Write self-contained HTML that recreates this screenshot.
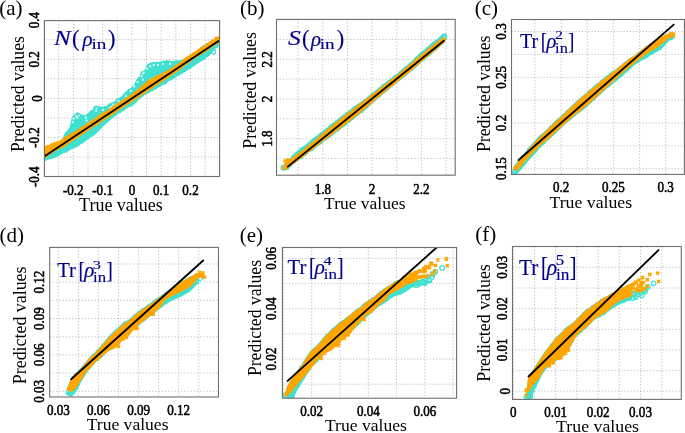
<!DOCTYPE html><html><head><meta charset="utf-8"><style>html,body{margin:0;padding:0;background:#fff;width:685px;height:433px;overflow:hidden}svg{display:block;will-change:transform}</style></head><body>
<style>
.tk{font-family:"Liberation Serif", serif;font-size:14.5px;fill:#000;stroke:#000;stroke-width:0.55}
.ax{font-family:"Liberation Serif", serif;font-size:18px;fill:#000}
.lab{font-family:"Liberation Serif", serif;font-size:21px;fill:#000}
.ti text{font-family:"Liberation Serif", serif;font-size:20px;fill:#00008b;stroke:#00008b;stroke-width:0.15}
.ti .it{font-style:italic}
.ti .sub{font-size:14px}
.ti .sup{font-size:14px}
</style>
<svg width="685" height="433" viewBox="0 0 685 433">
<rect width="685" height="433" fill="#fff"/>
<clipPath id="clip0"><rect x="44.4" y="20.6" width="175.2" height="155.9"/></clipPath>
<path d="M58.7 20.6V176.5M73.3 20.6V176.5M88 20.6V176.5M102.6 20.6V176.5M117.3 20.6V176.5M131.9 20.6V176.5M146.5 20.6V176.5M161.2 20.6V176.5M175.8 20.6V176.5M190.5 20.6V176.5M205.1 20.6V176.5M44.4 157.1H219.6M44.4 137.5H219.6M44.4 118H219.6M44.4 98.4H219.6M44.4 78.8H219.6M44.4 59.3H219.6M44.4 39.7H219.6" stroke="#b2b2b2" stroke-width="0.8" stroke-dasharray="1.3 1.9" fill="none"/>
<g clip-path="url(#clip0)">
<path d="M44.5 156.3L45.3 156.1L46.1 155.4L46.9 155L47.7 154.5L48.5 153.4L49.3 153.1L50.1 152.9L50.9 152.3L51.7 151.2L52.5 150.7L53.3 150.4L54.1 149.6L54.9 149.2L55.7 148.4L56.5 148.1L57.3 147.5L58.1 146.8L58.9 145.4L59.8 144.3L60.6 142.5L61.4 140.5L62.2 139.4L63 137.5L63.8 134.7L64.6 133.9L65.4 132.6L66.2 131.9L67 131.5L67.8 130.5L68.6 129.1L69.4 127.8L70.2 124.9L71 120.7L71.8 118.3L72.6 116.8L73.4 115.7L74.2 114.4L75 114L75.8 113.5L76.6 112.9L77.4 112.8L78.2 112.8L79 113L79.8 113.1L80.6 114.2L81.4 114.5L82.2 115L83 114.7L83.8 115.3L84.6 115.2L85.4 115.4L86.2 114.6L87 113.7L87.8 113.2L88.7 112.7L89.5 111.8L90.3 110.9L91.1 110.2L91.9 110.3L92.7 109.4L93.5 108.3L94.3 106.6L95.1 106.3L95.9 106.8L96.7 106.5L97.5 106.2L98.3 106.9L99.1 106.7L99.9 106.8L100.7 106.3L101.5 107L102.3 106.4L103.1 107.1L103.9 106.5L104.7 106.1L105.5 106L106.3 106L107.1 105.2L107.9 104.5L108.7 104.3L109.5 103.6L110.3 103L111.1 102.7L111.9 102.3L112.7 102.1L113.5 101.9L114.3 101.5L115.1 101.1L115.9 99.9L116.7 99.3L117.6 98.3L118.4 98.1L119.2 97.4L120 97.2L120.8 96.4L121.6 96.2L122.4 95.2L123.2 94.1L124 93.5L124.8 93.1L125.6 91.7L126.4 91.5L127.2 90.6L128 90.1L128.8 89.9L129.6 89L130.4 88.4L131.2 88L132 87.6L132.8 86.4L133.6 85.5L134.4 83.8L135.2 82.2L136 80.4L136.8 79.3L137.6 77.9L138.4 76.9L139.2 75.7L140 74.4L140.8 72.3L141.6 71.2L142.4 70.8L143.2 71L144 70.4L144.8 69.6L145.6 67.9L146.4 65.8L147.3 64.5L148.1 64L148.9 63.2L149.7 63L150.5 62.6L151.3 63L152.1 62.8L152.9 62.3L153.7 61.9L154.5 62.5L155.3 62L156.1 62L156.9 61.7L157.7 62L158.5 61.9L159.3 61.8L160.1 61.4L160.9 61.5L161.7 61L162.5 61.1L163.3 60.8L164.1 60.9L164.9 60.6L165.7 60.5L166.5 60.7L167.3 60.7L168.1 60.9L168.9 60.9L169.7 61L170.5 60.9L171.3 61L172.1 61.1L172.9 60.7L173.7 60.7L174.5 61.2L175.3 60.5L176.2 60.9L177 60.8L177.8 60.2L178.6 60.8L179.4 60.7L180.2 60.4L181 60.4L181.8 60.3L182.6 59.6L183.4 59.7L184.2 59.6L185 59.7L185.8 59.2L186.6 58.6L187.4 57.9L188.2 57.5L189 56.7L189.8 56.2L190.6 55.2L191.4 54.5L192.2 54.1L193 53.7L193.8 53L194.6 53L195.4 52.1L196.2 51.5L197 50.9L197.8 50.3L198.6 49.5L199.4 48.4L200.2 48.4L201 47.7L201.8 46.8L202.6 46.3L203.4 45.8L204.2 44.8L205.1 44.8L205.9 43.9L206.7 43.3L207.5 43.1L208.3 43L209.1 42.2L209.9 42.2L210.7 42L211.5 41.2L212.3 40.7L213.1 40.4L213.9 40.1L214.7 39.6L215.5 38.8L216.3 38.2L217.1 37.2L217.9 37.1L218.7 37.1L219.5 37.5L219.5 43.5L218.7 44.8L217.9 45.9L217.1 46.8L216.3 47.3L215.5 48.7L214.7 49.2L213.9 50.5L213.1 51.5L212.3 52.1L211.5 53.5L210.7 54L209.9 55.6L209.1 55.9L208.3 56.2L207.5 56.7L206.7 57.7L205.9 57.9L205.1 58.6L204.2 59.2L203.4 60L202.6 60.4L201.8 60.3L201 61.1L200.2 61.9L199.4 62.3L198.6 62.7L197.8 63.3L197 64.2L196.2 64.6L195.4 64.8L194.6 65.1L193.8 66.2L193 66.7L192.2 67.1L191.4 67.3L190.6 68L189.8 68.3L189 69.2L188.2 69.9L187.4 70.6L186.6 70.7L185.8 71.5L185 71.9L184.2 72.2L183.4 72.6L182.6 73.4L181.8 73.8L181 73.8L180.2 74.2L179.4 75.1L178.6 75.7L177.8 76.1L177 76.4L176.2 76.7L175.3 77.7L174.5 77.8L173.7 78.9L172.9 79L172.1 79.5L171.3 79.8L170.5 80.3L169.7 80.8L168.9 81.1L168.1 81.9L167.3 82.5L166.5 83.4L165.7 83.9L164.9 84.4L164.1 84.3L163.3 84.8L162.5 85.2L161.7 85.6L160.9 86.5L160.1 87.2L159.3 87.1L158.5 87.6L157.7 87.7L156.9 88.2L156.1 89.2L155.3 89.6L154.5 89.3L153.7 89.7L152.9 90L152.1 90.8L151.3 91.3L150.5 91.9L149.7 92.3L148.9 92.7L148.1 92.6L147.3 93.1L146.4 93.6L145.6 94.2L144.8 94L144 95.2L143.2 96L142.4 96.4L141.6 97.1L140.8 97.7L140 98.5L139.2 99.2L138.4 99.7L137.6 100.4L136.8 101.5L136 102.5L135.2 103.3L134.4 104.1L133.6 104.7L132.8 105.6L132 105.9L131.2 106.4L130.4 106.7L129.6 106.7L128.8 107.2L128 108.2L127.2 108.4L126.4 108.6L125.6 109.6L124.8 110.1L124 110.6L123.2 110.9L122.4 111.3L121.6 112.1L120.8 112.3L120 113.1L119.2 113.1L118.4 113.8L117.6 114.7L116.7 115.2L115.9 115.6L115.1 116.4L114.3 116.3L113.5 117.7L112.7 118.1L111.9 118.5L111.1 119L110.3 119.9L109.5 120.4L108.7 121.7L107.9 121.9L107.1 122.8L106.3 123.2L105.5 124L104.7 125L103.9 125.6L103.1 126.3L102.3 127.1L101.5 128.3L100.7 129.3L99.9 129.8L99.1 130.8L98.3 131.6L97.5 131.8L96.7 133L95.9 133.2L95.1 134.5L94.3 135.2L93.5 135.6L92.7 136.1L91.9 136.7L91.1 137L90.3 137.3L89.5 138.3L88.7 138.9L87.8 139.6L87 139.7L86.2 140.5L85.4 140.9L84.6 142.2L83.8 142.1L83 142.7L82.2 143.9L81.4 143.7L80.6 144.6L79.8 145L79 145.7L78.2 146L77.4 146.3L76.6 146.7L75.8 147.5L75 147.9L74.2 148L73.4 148L72.6 149L71.8 149.1L71 149.4L70.2 150.1L69.4 150.3L68.6 151.2L67.8 151L67 151.7L66.2 152.4L65.4 152.4L64.6 153L63.8 152.8L63 153.6L62.2 153.9L61.4 154.3L60.6 154.4L59.8 155L58.9 155.7L58.1 156.6L57.3 156.3L56.5 156.7L55.7 157.8L54.9 157.5L54.1 158.3L53.3 158.2L52.5 158.3L51.7 158.5L50.9 158.8L50.1 158.7L49.3 158.8L48.5 159L47.7 159.5L46.9 159.8L46.1 160L45.3 159.8L44.5 160.1 Z" fill="#40E0D0"/>
<path d="M42.2 158.1a2.3 2.3 0 1 0 4.6 0a2.3 2.3 0 1 0 -4.6 0M44.2 157.3a2.3 2.3 0 1 0 4.6 0a2.3 2.3 0 1 0 -4.6 0M48.5 156.2a2.3 2.3 0 1 0 4.6 0a2.3 2.3 0 1 0 -4.6 0M45.5 156.6a2.3 2.3 0 1 0 4.6 0a2.3 2.3 0 1 0 -4.6 0M50.2 154.4a2.3 2.3 0 1 0 4.6 0a2.3 2.3 0 1 0 -4.6 0M47.3 156.2a2.3 2.3 0 1 0 4.6 0a2.3 2.3 0 1 0 -4.6 0M51.8 153a2.3 2.3 0 1 0 4.6 0a2.3 2.3 0 1 0 -4.6 0M49.6 155a2.3 2.3 0 1 0 4.6 0a2.3 2.3 0 1 0 -4.6 0M54.6 152.3a2.3 2.3 0 1 0 4.6 0a2.3 2.3 0 1 0 -4.6 0M51.3 154.5a2.3 2.3 0 1 0 4.6 0a2.3 2.3 0 1 0 -4.6 0M56.6 149.8a2.3 2.3 0 1 0 4.6 0a2.3 2.3 0 1 0 -4.6 0M52 154.4a2.3 2.3 0 1 0 4.6 0a2.3 2.3 0 1 0 -4.6 0M58.8 148.1a2.3 2.3 0 1 0 4.6 0a2.3 2.3 0 1 0 -4.6 0M54.4 153.6a2.3 2.3 0 1 0 4.6 0a2.3 2.3 0 1 0 -4.6 0M60.7 143.4a2.3 2.3 0 1 0 4.6 0a2.3 2.3 0 1 0 -4.6 0M56.4 152.5a2.3 2.3 0 1 0 4.6 0a2.3 2.3 0 1 0 -4.6 0M63.6 139.4a2.3 2.3 0 1 0 4.6 0a2.3 2.3 0 1 0 -4.6 0M58.3 150.5a2.3 2.3 0 1 0 4.6 0a2.3 2.3 0 1 0 -4.6 0M65.1 135a2.3 2.3 0 1 0 4.6 0a2.3 2.3 0 1 0 -4.6 0M60.7 149.8a2.3 2.3 0 1 0 4.6 0a2.3 2.3 0 1 0 -4.6 0M66.3 133.1a2.3 2.3 0 1 0 4.6 0a2.3 2.3 0 1 0 -4.6 0M63 149.5a2.3 2.3 0 1 0 4.6 0a2.3 2.3 0 1 0 -4.6 0M68.5 131a2.3 2.3 0 1 0 4.6 0a2.3 2.3 0 1 0 -4.6 0M64.2 148a2.3 2.3 0 1 0 4.6 0a2.3 2.3 0 1 0 -4.6 0M71.7 123.5a2.3 2.3 0 1 0 4.6 0a2.3 2.3 0 1 0 -4.6 0M66.1 147.2a2.3 2.3 0 1 0 4.6 0a2.3 2.3 0 1 0 -4.6 0M72.6 118a2.3 2.3 0 1 0 4.6 0a2.3 2.3 0 1 0 -4.6 0M68.1 145.9a2.3 2.3 0 1 0 4.6 0a2.3 2.3 0 1 0 -4.6 0M75.1 116.6a2.3 2.3 0 1 0 4.6 0a2.3 2.3 0 1 0 -4.6 0M70.6 145.4a2.3 2.3 0 1 0 4.6 0a2.3 2.3 0 1 0 -4.6 0M75.6 116.6a2.3 2.3 0 1 0 4.6 0a2.3 2.3 0 1 0 -4.6 0M72.8 144.4a2.3 2.3 0 1 0 4.6 0a2.3 2.3 0 1 0 -4.6 0M75.4 115.5a2.3 2.3 0 1 0 4.6 0a2.3 2.3 0 1 0 -4.6 0M74.9 143.6a2.3 2.3 0 1 0 4.6 0a2.3 2.3 0 1 0 -4.6 0M76.5 116.8a2.3 2.3 0 1 0 4.6 0a2.3 2.3 0 1 0 -4.6 0M76 141.6a2.3 2.3 0 1 0 4.6 0a2.3 2.3 0 1 0 -4.6 0M78.8 117.1a2.3 2.3 0 1 0 4.6 0a2.3 2.3 0 1 0 -4.6 0M78.3 140.5a2.3 2.3 0 1 0 4.6 0a2.3 2.3 0 1 0 -4.6 0M82.3 118.5a2.3 2.3 0 1 0 4.6 0a2.3 2.3 0 1 0 -4.6 0M80.2 139.7a2.3 2.3 0 1 0 4.6 0a2.3 2.3 0 1 0 -4.6 0M86.5 117.2a2.3 2.3 0 1 0 4.6 0a2.3 2.3 0 1 0 -4.6 0M82 137.9a2.3 2.3 0 1 0 4.6 0a2.3 2.3 0 1 0 -4.6 0M89.1 114.7a2.3 2.3 0 1 0 4.6 0a2.3 2.3 0 1 0 -4.6 0M83.9 136.5a2.3 2.3 0 1 0 4.6 0a2.3 2.3 0 1 0 -4.6 0M89.9 113.1a2.3 2.3 0 1 0 4.6 0a2.3 2.3 0 1 0 -4.6 0M85.9 134.8a2.3 2.3 0 1 0 4.6 0a2.3 2.3 0 1 0 -4.6 0M92.6 111.2a2.3 2.3 0 1 0 4.6 0a2.3 2.3 0 1 0 -4.6 0M88.1 134.1a2.3 2.3 0 1 0 4.6 0a2.3 2.3 0 1 0 -4.6 0M94 108.5a2.3 2.3 0 1 0 4.6 0a2.3 2.3 0 1 0 -4.6 0M90.4 132.6a2.3 2.3 0 1 0 4.6 0a2.3 2.3 0 1 0 -4.6 0M94.6 110a2.3 2.3 0 1 0 4.6 0a2.3 2.3 0 1 0 -4.6 0M91.9 131a2.3 2.3 0 1 0 4.6 0a2.3 2.3 0 1 0 -4.6 0M96.2 109.1a2.3 2.3 0 1 0 4.6 0a2.3 2.3 0 1 0 -4.6 0M93.6 129.1a2.3 2.3 0 1 0 4.6 0a2.3 2.3 0 1 0 -4.6 0M97.9 109.3a2.3 2.3 0 1 0 4.6 0a2.3 2.3 0 1 0 -4.6 0M95.8 127.1a2.3 2.3 0 1 0 4.6 0a2.3 2.3 0 1 0 -4.6 0M100.2 110a2.3 2.3 0 1 0 4.6 0a2.3 2.3 0 1 0 -4.6 0M97.4 125.1a2.3 2.3 0 1 0 4.6 0a2.3 2.3 0 1 0 -4.6 0M103.4 109.4a2.3 2.3 0 1 0 4.6 0a2.3 2.3 0 1 0 -4.6 0M99.7 123.2a2.3 2.3 0 1 0 4.6 0a2.3 2.3 0 1 0 -4.6 0M105.3 108.6a2.3 2.3 0 1 0 4.6 0a2.3 2.3 0 1 0 -4.6 0M101.8 121.6a2.3 2.3 0 1 0 4.6 0a2.3 2.3 0 1 0 -4.6 0M108.1 106.5a2.3 2.3 0 1 0 4.6 0a2.3 2.3 0 1 0 -4.6 0M103.7 119.4a2.3 2.3 0 1 0 4.6 0a2.3 2.3 0 1 0 -4.6 0M109.9 105.7a2.3 2.3 0 1 0 4.6 0a2.3 2.3 0 1 0 -4.6 0M105.8 117.5a2.3 2.3 0 1 0 4.6 0a2.3 2.3 0 1 0 -4.6 0M111.7 105.5a2.3 2.3 0 1 0 4.6 0a2.3 2.3 0 1 0 -4.6 0M107.5 115.5a2.3 2.3 0 1 0 4.6 0a2.3 2.3 0 1 0 -4.6 0M114.5 103.7a2.3 2.3 0 1 0 4.6 0a2.3 2.3 0 1 0 -4.6 0M110.2 113.9a2.3 2.3 0 1 0 4.6 0a2.3 2.3 0 1 0 -4.6 0M116.2 101.1a2.3 2.3 0 1 0 4.6 0a2.3 2.3 0 1 0 -4.6 0M112.3 113.2a2.3 2.3 0 1 0 4.6 0a2.3 2.3 0 1 0 -4.6 0M118 101.2a2.3 2.3 0 1 0 4.6 0a2.3 2.3 0 1 0 -4.6 0M113.9 111.1a2.3 2.3 0 1 0 4.6 0a2.3 2.3 0 1 0 -4.6 0M120.6 99.6a2.3 2.3 0 1 0 4.6 0a2.3 2.3 0 1 0 -4.6 0M116.6 110.4a2.3 2.3 0 1 0 4.6 0a2.3 2.3 0 1 0 -4.6 0M122.8 97.3a2.3 2.3 0 1 0 4.6 0a2.3 2.3 0 1 0 -4.6 0M118.3 108.8a2.3 2.3 0 1 0 4.6 0a2.3 2.3 0 1 0 -4.6 0M124.3 94.8a2.3 2.3 0 1 0 4.6 0a2.3 2.3 0 1 0 -4.6 0M120.4 107.9a2.3 2.3 0 1 0 4.6 0a2.3 2.3 0 1 0 -4.6 0M126.3 93.1a2.3 2.3 0 1 0 4.6 0a2.3 2.3 0 1 0 -4.6 0M122.2 106.2a2.3 2.3 0 1 0 4.6 0a2.3 2.3 0 1 0 -4.6 0M127.7 91.7a2.3 2.3 0 1 0 4.6 0a2.3 2.3 0 1 0 -4.6 0M124.2 105a2.3 2.3 0 1 0 4.6 0a2.3 2.3 0 1 0 -4.6 0M130 90.4a2.3 2.3 0 1 0 4.6 0a2.3 2.3 0 1 0 -4.6 0M126.3 103.8a2.3 2.3 0 1 0 4.6 0a2.3 2.3 0 1 0 -4.6 0M132 88.5a2.3 2.3 0 1 0 4.6 0a2.3 2.3 0 1 0 -4.6 0M128.4 103.1a2.3 2.3 0 1 0 4.6 0a2.3 2.3 0 1 0 -4.6 0M135.2 84.6a2.3 2.3 0 1 0 4.6 0a2.3 2.3 0 1 0 -4.6 0M130.2 101.9a2.3 2.3 0 1 0 4.6 0a2.3 2.3 0 1 0 -4.6 0M136.9 81.2a2.3 2.3 0 1 0 4.6 0a2.3 2.3 0 1 0 -4.6 0M132.2 100a2.3 2.3 0 1 0 4.6 0a2.3 2.3 0 1 0 -4.6 0M138.9 78.5a2.3 2.3 0 1 0 4.6 0a2.3 2.3 0 1 0 -4.6 0M133.8 98a2.3 2.3 0 1 0 4.6 0a2.3 2.3 0 1 0 -4.6 0M142 74.3a2.3 2.3 0 1 0 4.6 0a2.3 2.3 0 1 0 -4.6 0M135.8 96a2.3 2.3 0 1 0 4.6 0a2.3 2.3 0 1 0 -4.6 0M141.6 74a2.3 2.3 0 1 0 4.6 0a2.3 2.3 0 1 0 -4.6 0M138.5 94.5a2.3 2.3 0 1 0 4.6 0a2.3 2.3 0 1 0 -4.6 0M144.4 72a2.3 2.3 0 1 0 4.6 0a2.3 2.3 0 1 0 -4.6 0M140.4 92.5a2.3 2.3 0 1 0 4.6 0a2.3 2.3 0 1 0 -4.6 0M147.1 66.8a2.3 2.3 0 1 0 4.6 0a2.3 2.3 0 1 0 -4.6 0M143.1 91.4a2.3 2.3 0 1 0 4.6 0a2.3 2.3 0 1 0 -4.6 0M148.7 66.1a2.3 2.3 0 1 0 4.6 0a2.3 2.3 0 1 0 -4.6 0M145 90.4a2.3 2.3 0 1 0 4.6 0a2.3 2.3 0 1 0 -4.6 0M149 65.5a2.3 2.3 0 1 0 4.6 0a2.3 2.3 0 1 0 -4.6 0M146.6 89.4a2.3 2.3 0 1 0 4.6 0a2.3 2.3 0 1 0 -4.6 0M151.3 65.2a2.3 2.3 0 1 0 4.6 0a2.3 2.3 0 1 0 -4.6 0M148.7 88.4a2.3 2.3 0 1 0 4.6 0a2.3 2.3 0 1 0 -4.6 0M152.4 65.4a2.3 2.3 0 1 0 4.6 0a2.3 2.3 0 1 0 -4.6 0M150.6 87.2a2.3 2.3 0 1 0 4.6 0a2.3 2.3 0 1 0 -4.6 0M154.4 65.6a2.3 2.3 0 1 0 4.6 0a2.3 2.3 0 1 0 -4.6 0M152.4 86a2.3 2.3 0 1 0 4.6 0a2.3 2.3 0 1 0 -4.6 0M156.8 65.3a2.3 2.3 0 1 0 4.6 0a2.3 2.3 0 1 0 -4.6 0M154.5 84.6a2.3 2.3 0 1 0 4.6 0a2.3 2.3 0 1 0 -4.6 0M158.6 64.9a2.3 2.3 0 1 0 4.6 0a2.3 2.3 0 1 0 -4.6 0M156.3 83.7a2.3 2.3 0 1 0 4.6 0a2.3 2.3 0 1 0 -4.6 0M160.9 64.1a2.3 2.3 0 1 0 4.6 0a2.3 2.3 0 1 0 -4.6 0M158.2 82.6a2.3 2.3 0 1 0 4.6 0a2.3 2.3 0 1 0 -4.6 0M162.4 63.6a2.3 2.3 0 1 0 4.6 0a2.3 2.3 0 1 0 -4.6 0M160.3 81.9a2.3 2.3 0 1 0 4.6 0a2.3 2.3 0 1 0 -4.6 0M164.1 63.4a2.3 2.3 0 1 0 4.6 0a2.3 2.3 0 1 0 -4.6 0M162.4 80.5a2.3 2.3 0 1 0 4.6 0a2.3 2.3 0 1 0 -4.6 0M166.3 63.3a2.3 2.3 0 1 0 4.6 0a2.3 2.3 0 1 0 -4.6 0M163.8 79.1a2.3 2.3 0 1 0 4.6 0a2.3 2.3 0 1 0 -4.6 0M168 64.2a2.3 2.3 0 1 0 4.6 0a2.3 2.3 0 1 0 -4.6 0M166.3 77.9a2.3 2.3 0 1 0 4.6 0a2.3 2.3 0 1 0 -4.6 0M170.1 63.9a2.3 2.3 0 1 0 4.6 0a2.3 2.3 0 1 0 -4.6 0M168.5 76.9a2.3 2.3 0 1 0 4.6 0a2.3 2.3 0 1 0 -4.6 0M172.3 63.7a2.3 2.3 0 1 0 4.6 0a2.3 2.3 0 1 0 -4.6 0M170.4 75.6a2.3 2.3 0 1 0 4.6 0a2.3 2.3 0 1 0 -4.6 0M174.6 63.1a2.3 2.3 0 1 0 4.6 0a2.3 2.3 0 1 0 -4.6 0M172.1 74.4a2.3 2.3 0 1 0 4.6 0a2.3 2.3 0 1 0 -4.6 0M176.8 63.7a2.3 2.3 0 1 0 4.6 0a2.3 2.3 0 1 0 -4.6 0M174.1 73.1a2.3 2.3 0 1 0 4.6 0a2.3 2.3 0 1 0 -4.6 0M178.5 63.2a2.3 2.3 0 1 0 4.6 0a2.3 2.3 0 1 0 -4.6 0M176.7 72a2.3 2.3 0 1 0 4.6 0a2.3 2.3 0 1 0 -4.6 0M180.7 62.3a2.3 2.3 0 1 0 4.6 0a2.3 2.3 0 1 0 -4.6 0M178.3 70.5a2.3 2.3 0 1 0 4.6 0a2.3 2.3 0 1 0 -4.6 0M182.6 62.5a2.3 2.3 0 1 0 4.6 0a2.3 2.3 0 1 0 -4.6 0M180.6 69.3a2.3 2.3 0 1 0 4.6 0a2.3 2.3 0 1 0 -4.6 0M186 60.7a2.3 2.3 0 1 0 4.6 0a2.3 2.3 0 1 0 -4.6 0M182.2 68.4a2.3 2.3 0 1 0 4.6 0a2.3 2.3 0 1 0 -4.6 0M188.3 59.7a2.3 2.3 0 1 0 4.6 0a2.3 2.3 0 1 0 -4.6 0M184.4 66.8a2.3 2.3 0 1 0 4.6 0a2.3 2.3 0 1 0 -4.6 0M190.5 58a2.3 2.3 0 1 0 4.6 0a2.3 2.3 0 1 0 -4.6 0M186.8 66.1a2.3 2.3 0 1 0 4.6 0a2.3 2.3 0 1 0 -4.6 0M192.4 56.6a2.3 2.3 0 1 0 4.6 0a2.3 2.3 0 1 0 -4.6 0M187.8 64.1a2.3 2.3 0 1 0 4.6 0a2.3 2.3 0 1 0 -4.6 0M194.8 55.3a2.3 2.3 0 1 0 4.6 0a2.3 2.3 0 1 0 -4.6 0M190.5 63.5a2.3 2.3 0 1 0 4.6 0a2.3 2.3 0 1 0 -4.6 0M196.3 53.6a2.3 2.3 0 1 0 4.6 0a2.3 2.3 0 1 0 -4.6 0M191.9 61.5a2.3 2.3 0 1 0 4.6 0a2.3 2.3 0 1 0 -4.6 0M198.4 52a2.3 2.3 0 1 0 4.6 0a2.3 2.3 0 1 0 -4.6 0M194.5 60.5a2.3 2.3 0 1 0 4.6 0a2.3 2.3 0 1 0 -4.6 0M200.1 49.8a2.3 2.3 0 1 0 4.6 0a2.3 2.3 0 1 0 -4.6 0M196.2 59.2a2.3 2.3 0 1 0 4.6 0a2.3 2.3 0 1 0 -4.6 0M201.7 48.3a2.3 2.3 0 1 0 4.6 0a2.3 2.3 0 1 0 -4.6 0M198.7 58.1a2.3 2.3 0 1 0 4.6 0a2.3 2.3 0 1 0 -4.6 0M204.5 47.6a2.3 2.3 0 1 0 4.6 0a2.3 2.3 0 1 0 -4.6 0M200.7 56.8a2.3 2.3 0 1 0 4.6 0a2.3 2.3 0 1 0 -4.6 0M205.7 45.9a2.3 2.3 0 1 0 4.6 0a2.3 2.3 0 1 0 -4.6 0M202.1 55.1a2.3 2.3 0 1 0 4.6 0a2.3 2.3 0 1 0 -4.6 0M208 45.7a2.3 2.3 0 1 0 4.6 0a2.3 2.3 0 1 0 -4.6 0M204.5 53.8a2.3 2.3 0 1 0 4.6 0a2.3 2.3 0 1 0 -4.6 0M209.9 43.9a2.3 2.3 0 1 0 4.6 0a2.3 2.3 0 1 0 -4.6 0M205.4 52.8a2.3 2.3 0 1 0 4.6 0a2.3 2.3 0 1 0 -4.6 0M211.8 43.6a2.3 2.3 0 1 0 4.6 0a2.3 2.3 0 1 0 -4.6 0M207.1 50.1a2.3 2.3 0 1 0 4.6 0a2.3 2.3 0 1 0 -4.6 0M214.4 41.7a2.3 2.3 0 1 0 4.6 0a2.3 2.3 0 1 0 -4.6 0M209.5 47.8a2.3 2.3 0 1 0 4.6 0a2.3 2.3 0 1 0 -4.6 0M216.1 40.5a2.3 2.3 0 1 0 4.6 0a2.3 2.3 0 1 0 -4.6 0M211.2 45.4a2.3 2.3 0 1 0 4.6 0a2.3 2.3 0 1 0 -4.6 0M216.9 40.5a2.3 2.3 0 1 0 4.6 0a2.3 2.3 0 1 0 -4.6 0M213.4 43.3a2.3 2.3 0 1 0 4.6 0a2.3 2.3 0 1 0 -4.6 0M213.6 45.2a2.3 2.3 0 1 0 4.6 0a2.3 2.3 0 1 0 -4.6 0M211.1 51.7a2.3 2.3 0 1 0 4.6 0a2.3 2.3 0 1 0 -4.6 0" stroke="#40E0D0" stroke-width="1.25" fill="none"/>
<path d="M74.9 116a1.1 1.1 0 1 0 2.2 0a1.1 1.1 0 1 0 -2.2 0M77.9 115.5a1.1 1.1 0 1 0 2.2 0a1.1 1.1 0 1 0 -2.2 0M72.4 118.5a1.1 1.1 0 1 0 2.2 0a1.1 1.1 0 1 0 -2.2 0M95.4 108.5a1.1 1.1 0 1 0 2.2 0a1.1 1.1 0 1 0 -2.2 0M111.9 104.5a1.1 1.1 0 1 0 2.2 0a1.1 1.1 0 1 0 -2.2 0M137.9 76a1.1 1.1 0 1 0 2.2 0a1.1 1.1 0 1 0 -2.2 0M142.9 72.5a1.1 1.1 0 1 0 2.2 0a1.1 1.1 0 1 0 -2.2 0M148.9 66a1.1 1.1 0 1 0 2.2 0a1.1 1.1 0 1 0 -2.2 0M156.9 65a1.1 1.1 0 1 0 2.2 0a1.1 1.1 0 1 0 -2.2 0M168.9 63.5a1.1 1.1 0 1 0 2.2 0a1.1 1.1 0 1 0 -2.2 0M161.9 64a1.1 1.1 0 1 0 2.2 0a1.1 1.1 0 1 0 -2.2 0M72.5 118.7a1.1 1.1 0 1 0 2.2 0a1.1 1.1 0 1 0 -2.2 0M71.6 122.1a1.1 1.1 0 1 0 2.2 0a1.1 1.1 0 1 0 -2.2 0M76.1 117.7a1.1 1.1 0 1 0 2.2 0a1.1 1.1 0 1 0 -2.2 0M84.8 117.7a1.1 1.1 0 1 0 2.2 0a1.1 1.1 0 1 0 -2.2 0M85.5 120.7a1.1 1.1 0 1 0 2.2 0a1.1 1.1 0 1 0 -2.2 0M95.2 111a1.1 1.1 0 1 0 2.2 0a1.1 1.1 0 1 0 -2.2 0M101.9 110a1.1 1.1 0 1 0 2.2 0a1.1 1.1 0 1 0 -2.2 0M108.6 108.3a1.1 1.1 0 1 0 2.2 0a1.1 1.1 0 1 0 -2.2 0M110.2 107a1.1 1.1 0 1 0 2.2 0a1.1 1.1 0 1 0 -2.2 0M114.8 105.4a1.1 1.1 0 1 0 2.2 0a1.1 1.1 0 1 0 -2.2 0M117.4 101a1.1 1.1 0 1 0 2.2 0a1.1 1.1 0 1 0 -2.2 0M124.6 96.2a1.1 1.1 0 1 0 2.2 0a1.1 1.1 0 1 0 -2.2 0M129.7 90.9a1.1 1.1 0 1 0 2.2 0a1.1 1.1 0 1 0 -2.2 0M133.1 86.5a1.1 1.1 0 1 0 2.2 0a1.1 1.1 0 1 0 -2.2 0M136.4 82.1a1.1 1.1 0 1 0 2.2 0a1.1 1.1 0 1 0 -2.2 0M140.5 76.2a1.1 1.1 0 1 0 2.2 0a1.1 1.1 0 1 0 -2.2 0M141.9 73.6a1.1 1.1 0 1 0 2.2 0a1.1 1.1 0 1 0 -2.2 0M141.9 79.7a1.1 1.1 0 1 0 2.2 0a1.1 1.1 0 1 0 -2.2 0M146 68.8a1.1 1.1 0 1 0 2.2 0a1.1 1.1 0 1 0 -2.2 0M149.3 66.5a1.1 1.1 0 1 0 2.2 0a1.1 1.1 0 1 0 -2.2 0M152.6 65.2a1.1 1.1 0 1 0 2.2 0a1.1 1.1 0 1 0 -2.2 0M168.9 64.3a1.1 1.1 0 1 0 2.2 0a1.1 1.1 0 1 0 -2.2 0" fill="#fff" fill-opacity="0.85"/>
<path d="M44.5 146.6L45.3 146L46.1 145.6L46.9 145.3L47.7 145.3L48.5 144.8L49.3 144.5L50.1 144.4L50.9 143.5L51.7 143.2L52.5 143.3L53.3 142.5L54.1 142.1L54.9 142.1L55.7 141.6L56.5 141.6L57.3 141.3L58.1 141.4L58.9 141.3L59.8 140.4L60.6 140.2L61.4 139.5L62.2 138.6L63 138.7L63.8 137.6L64.6 137L65.4 136.4L66.2 136.3L67 136L67.8 135.4L68.6 134.5L69.4 134L70.2 133.4L71 133.6L71.8 133L72.6 132.3L73.4 132.1L74.2 131.4L75 131.4L75.8 130.8L76.6 129.9L77.4 130L78.2 128.9L79 128.7L79.8 128.1L80.6 127.4L81.4 126.8L82.2 126.8L83 125.6L83.8 125.5L84.6 125.3L85.4 124.2L86.2 123.7L87 123.5L87.8 122.9L88.7 122.4L89.5 122L90.3 121L91.1 120.6L91.9 120L92.7 119.3L93.5 119.4L94.3 118.8L95.1 118.2L95.9 117.1L96.7 117.3L97.5 116.7L98.3 115.7L99.1 115.1L99.9 114.1L100.7 113.5L101.5 113.1L102.3 112.8L103.1 112.4L103.9 112.1L104.7 111.9L105.5 111.3L106.3 110.9L107.1 110.2L107.9 109.4L108.7 109.1L109.5 108.4L110.3 108.2L111.1 107.4L111.9 106.7L112.7 106.5L113.5 106.2L114.3 105.1L115.1 105.1L115.9 103.8L116.7 103.5L117.6 102.9L118.4 102.8L119.2 102.4L120 101.8L120.8 100.9L121.6 100.8L122.4 99.8L123.2 99.2L124 99.2L124.8 98.5L125.6 98L126.4 97.4L127.2 97.2L128 96.2L128.8 96L129.6 95.3L130.4 94.9L131.2 94.1L132 93.8L132.8 93.1L133.6 92.3L134.4 91.6L135.2 91.3L136 90.3L136.8 90.4L137.6 89.3L138.4 88.6L139.2 88.1L140 88L140.8 86.7L141.6 85.8L142.4 85L143.2 84.2L144 84L144.8 83.3L145.6 82.5L146.4 81.8L147.3 80.6L148.1 80.4L148.9 79.5L149.7 79.4L150.5 79L151.3 78.7L152.1 77.7L152.9 77.9L153.7 77.6L154.5 77.2L155.3 76.1L156.1 75.7L156.9 75.2L157.7 74.7L158.5 74.9L159.3 74.5L160.1 73.9L160.9 73.7L161.7 73.2L162.5 72.6L163.3 72.2L164.1 71.9L164.9 72L165.7 71.1L166.5 70.7L167.3 70.3L168.1 69.6L168.9 69.3L169.7 68.9L170.5 68.7L171.3 67.9L172.1 67.3L172.9 67.3L173.7 66.4L174.5 66.1L175.3 65.4L176.2 64.4L177 64.2L177.8 63.7L178.6 63.4L179.4 62.6L180.2 62.3L181 61.5L181.8 60.5L182.6 60.4L183.4 59.1L184.2 59L185 57.7L185.8 57L186.6 56.6L187.4 56.6L188.2 56.2L189 54.9L189.8 54.7L190.6 54.2L191.4 53.9L192.2 52.9L193 52.6L193.8 52L194.6 51.8L195.4 50.8L196.2 50.9L197 49.8L197.8 49.2L198.6 49.1L199.4 48.4L200.2 47.5L201 47.4L201.8 46.4L202.6 46.5L203.4 45.9L204.2 45.4L205.1 44.7L205.9 44L206.7 43.5L207.5 43L208.3 42.8L209.1 41.6L209.9 41.8L210.7 40.5L211.5 40.1L212.3 39.7L213.1 39.6L213.9 38.8L214.7 38.2L215.5 38L216.3 37L217.1 36.7L217.9 36.4L218.7 36.3L219.5 36L219.5 42.3L218.7 42.3L217.9 43.4L217.1 44.1L216.3 44.3L215.5 45L214.7 45.6L213.9 46.2L213.1 46.4L212.3 47.6L211.5 47.5L210.7 48.3L209.9 48.8L209.1 49.4L208.3 50.2L207.5 50.5L206.7 51.3L205.9 51.5L205.1 52.3L204.2 52.8L203.4 53.3L202.6 53.6L201.8 53.9L201 54.8L200.2 55L199.4 55.7L198.6 56.1L197.8 57.1L197 57.1L196.2 57.7L195.4 58.1L194.6 58.8L193.8 59.3L193 59.9L192.2 60.2L191.4 61.4L190.6 61.4L189.8 61.8L189 63L188.2 63.3L187.4 63.5L186.6 64.5L185.8 65.1L185 65.7L184.2 66.4L183.4 66.8L182.6 67.3L181.8 68.8L181 69.5L180.2 69.7L179.4 70.1L178.6 71.2L177.8 71.2L177 71.6L176.2 72.2L175.3 73.4L174.5 73.3L173.7 73.8L172.9 74.7L172.1 75L171.3 75.6L170.5 76.3L169.7 76.8L168.9 77.5L168.1 78L167.3 78.5L166.5 78.7L165.7 79.8L164.9 80.2L164.1 80.5L163.3 81.2L162.5 81.6L161.7 82.3L160.9 82.3L160.1 83.3L159.3 83.4L158.5 84.5L157.7 84.7L156.9 85.4L156.1 85.8L155.3 86.1L154.5 86.6L153.7 87.3L152.9 88.1L152.1 88.1L151.3 89.2L150.5 89.5L149.7 90.1L148.9 90.5L148.1 90.9L147.3 91.4L146.4 92.5L145.6 93L144.8 93.3L144 93.5L143.2 94.5L142.4 94.8L141.6 95L140.8 95.7L140 96.7L139.2 97.2L138.4 97.6L137.6 97.9L136.8 98.6L136 99.2L135.2 100L134.4 100.3L133.6 100.9L132.8 101.6L132 101.9L131.2 101.9L130.4 103.1L129.6 103.2L128.8 104L128 104.3L127.2 105.2L126.4 105.1L125.6 106.1L124.8 106.5L124 106.8L123.2 107.5L122.4 108.2L121.6 108.5L120.8 109.2L120 109.7L119.2 110.6L118.4 110.8L117.6 111L116.7 111.7L115.9 112.7L115.1 112.9L114.3 113.9L113.5 113.6L112.7 114.6L111.9 115.2L111.1 115.4L110.3 116L109.5 116.9L108.7 116.9L107.9 117.6L107.1 118.3L106.3 118.7L105.5 119.4L104.7 119.9L103.9 120.6L103.1 120.8L102.3 121.3L101.5 121.8L100.7 122.6L99.9 123.4L99.1 123.5L98.3 124.3L97.5 124.7L96.7 125.1L95.9 125.6L95.1 126L94.3 126.6L93.5 127.1L92.7 127.5L91.9 128.2L91.1 129.1L90.3 129.5L89.5 129.8L88.7 130.5L87.8 131.1L87 131.3L86.2 131.9L85.4 132.7L84.6 133.1L83.8 134L83 134.3L82.2 134.7L81.4 135.3L80.6 135.7L79.8 136.1L79 137L78.2 137.8L77.4 138.1L76.6 138.7L75.8 139.3L75 139.5L74.2 140.3L73.4 140.7L72.6 141L71.8 141.5L71 141.8L70.2 142.8L69.4 143.6L68.6 143.4L67.8 144.7L67 144.7L66.2 145L65.4 146.2L64.6 146.6L63.8 147.3L63 147.5L62.2 148.1L61.4 148.4L60.6 148.7L59.8 148.9L58.9 148.6L58.1 149.3L57.3 150.1L56.5 150.7L55.7 151.2L54.9 151.3L54.1 152.1L53.3 152.9L52.5 153.1L51.7 153.5L50.9 154.3L50.1 155L49.3 155.1L48.5 155.7L47.7 156.1L46.9 157.2L46.1 157.6L45.3 158.1L44.5 158.4 Z" fill="#FFA500"/>
<path d="M43.8 147.7l2.9 2.9m0 -2.9l-2.9 2.9M42.4 155.3l2.9 2.9m0 -2.9l-2.9 2.9M46.4 146.8l2.9 2.9m0 -2.9l-2.9 2.9M43.5 154.1l2.9 2.9m0 -2.9l-2.9 2.9M47.7 145.9l2.9 2.9m0 -2.9l-2.9 2.9M44.3 152.4l2.9 2.9m0 -2.9l-2.9 2.9M49.6 145.3l2.9 2.9m0 -2.9l-2.9 2.9M46.8 151.8l2.9 2.9m0 -2.9l-2.9 2.9M50.8 144.2l2.9 2.9m0 -2.9l-2.9 2.9M48.3 150.5l2.9 2.9m0 -2.9l-2.9 2.9M52.4 143.4l2.9 2.9m0 -2.9l-2.9 2.9M50 149.5l2.9 2.9m0 -2.9l-2.9 2.9M54.3 143.4l2.9 2.9m0 -2.9l-2.9 2.9M51.3 148l2.9 2.9m0 -2.9l-2.9 2.9M55.4 142.5l2.9 2.9m0 -2.9l-2.9 2.9M53.6 147.1l2.9 2.9m0 -2.9l-2.9 2.9M57.5 142.3l2.9 2.9m0 -2.9l-2.9 2.9M55 146.2l2.9 2.9m0 -2.9l-2.9 2.9M60 140.9l2.9 2.9m0 -2.9l-2.9 2.9M57.7 144.9l2.9 2.9m0 -2.9l-2.9 2.9M61.7 139.5l2.9 2.9m0 -2.9l-2.9 2.9M59.2 144.1l2.9 2.9m0 -2.9l-2.9 2.9M63 138.3l2.9 2.9m0 -2.9l-2.9 2.9M60.2 144.4l2.9 2.9m0 -2.9l-2.9 2.9M65.4 138l2.9 2.9m0 -2.9l-2.9 2.9M61.9 142.7l2.9 2.9m0 -2.9l-2.9 2.9M67.1 136.9l2.9 2.9m0 -2.9l-2.9 2.9M63.5 141.6l2.9 2.9m0 -2.9l-2.9 2.9M68.7 135.5l2.9 2.9m0 -2.9l-2.9 2.9M64.9 140.4l2.9 2.9m0 -2.9l-2.9 2.9M69.8 134.7l2.9 2.9m0 -2.9l-2.9 2.9M66.5 139.2l2.9 2.9m0 -2.9l-2.9 2.9M71.4 133.4l2.9 2.9m0 -2.9l-2.9 2.9M68.7 138l2.9 2.9m0 -2.9l-2.9 2.9M73.5 132.7l2.9 2.9m0 -2.9l-2.9 2.9M70.3 136.9l2.9 2.9m0 -2.9l-2.9 2.9M75 131.7l2.9 2.9m0 -2.9l-2.9 2.9M72.1 136.2l2.9 2.9m0 -2.9l-2.9 2.9M76.7 130.5l2.9 2.9m0 -2.9l-2.9 2.9M73.9 134.8l2.9 2.9m0 -2.9l-2.9 2.9M78.4 129.2l2.9 2.9m0 -2.9l-2.9 2.9M75.4 134.2l2.9 2.9m0 -2.9l-2.9 2.9M80.6 128.8l2.9 2.9m0 -2.9l-2.9 2.9M76.8 132.3l2.9 2.9m0 -2.9l-2.9 2.9M81.8 126.9l2.9 2.9m0 -2.9l-2.9 2.9M79 131.4l2.9 2.9m0 -2.9l-2.9 2.9M84.1 126.7l2.9 2.9m0 -2.9l-2.9 2.9M80.3 130.5l2.9 2.9m0 -2.9l-2.9 2.9M85.4 125.2l2.9 2.9m0 -2.9l-2.9 2.9M82.1 129.6l2.9 2.9m0 -2.9l-2.9 2.9M87 123.5l2.9 2.9m0 -2.9l-2.9 2.9M84.4 128.5l2.9 2.9m0 -2.9l-2.9 2.9M88.9 122.5l2.9 2.9m0 -2.9l-2.9 2.9M85.5 127.4l2.9 2.9m0 -2.9l-2.9 2.9M90.6 121.9l2.9 2.9m0 -2.9l-2.9 2.9M87 125.7l2.9 2.9m0 -2.9l-2.9 2.9M92.2 120.2l2.9 2.9m0 -2.9l-2.9 2.9M89.1 124.6l2.9 2.9m0 -2.9l-2.9 2.9M93.9 119.7l2.9 2.9m0 -2.9l-2.9 2.9M90.7 123.5l2.9 2.9m0 -2.9l-2.9 2.9M95.9 118.3l2.9 2.9m0 -2.9l-2.9 2.9M92.8 122.7l2.9 2.9m0 -2.9l-2.9 2.9M97.4 117.3l2.9 2.9m0 -2.9l-2.9 2.9M94.5 121.8l2.9 2.9m0 -2.9l-2.9 2.9M99.6 115.5l2.9 2.9m0 -2.9l-2.9 2.9M96 120.4l2.9 2.9m0 -2.9l-2.9 2.9M100.4 114.1l2.9 2.9m0 -2.9l-2.9 2.9M97.2 119.1l2.9 2.9m0 -2.9l-2.9 2.9M101.9 113.7l2.9 2.9m0 -2.9l-2.9 2.9M99.3 118.1l2.9 2.9m0 -2.9l-2.9 2.9M104.2 112.4l2.9 2.9m0 -2.9l-2.9 2.9M101.1 117l2.9 2.9m0 -2.9l-2.9 2.9M105.9 111.7l2.9 2.9m0 -2.9l-2.9 2.9M102.8 115.9l2.9 2.9m0 -2.9l-2.9 2.9M108.1 110.9l2.9 2.9m0 -2.9l-2.9 2.9M104.1 114.6l2.9 2.9m0 -2.9l-2.9 2.9M109.3 108.9l2.9 2.9m0 -2.9l-2.9 2.9M106.1 113.3l2.9 2.9m0 -2.9l-2.9 2.9M111 108l2.9 2.9m0 -2.9l-2.9 2.9M107.6 111.9l2.9 2.9m0 -2.9l-2.9 2.9M112.7 107.2l2.9 2.9m0 -2.9l-2.9 2.9M109.7 111.3l2.9 2.9m0 -2.9l-2.9 2.9M114.4 105.8l2.9 2.9m0 -2.9l-2.9 2.9M111.3 110l2.9 2.9m0 -2.9l-2.9 2.9M116.2 105.1l2.9 2.9m0 -2.9l-2.9 2.9M112.9 109.4l2.9 2.9m0 -2.9l-2.9 2.9M117.8 103.6l2.9 2.9m0 -2.9l-2.9 2.9M114.5 107.6l2.9 2.9m0 -2.9l-2.9 2.9M119.4 102.1l2.9 2.9m0 -2.9l-2.9 2.9M116.2 106.4l2.9 2.9m0 -2.9l-2.9 2.9M121.1 101.5l2.9 2.9m0 -2.9l-2.9 2.9M117.9 105.3l2.9 2.9m0 -2.9l-2.9 2.9M123.3 100.5l2.9 2.9m0 -2.9l-2.9 2.9M119.4 104.6l2.9 2.9m0 -2.9l-2.9 2.9M124.8 99.2l2.9 2.9m0 -2.9l-2.9 2.9M121.6 103.6l2.9 2.9m0 -2.9l-2.9 2.9M126.4 98.4l2.9 2.9m0 -2.9l-2.9 2.9M123 102.1l2.9 2.9m0 -2.9l-2.9 2.9M127.8 96.9l2.9 2.9m0 -2.9l-2.9 2.9M125 101.3l2.9 2.9m0 -2.9l-2.9 2.9M129.9 96.1l2.9 2.9m0 -2.9l-2.9 2.9M126.8 100.4l2.9 2.9m0 -2.9l-2.9 2.9M131.4 94.9l2.9 2.9m0 -2.9l-2.9 2.9M128.3 98.8l2.9 2.9m0 -2.9l-2.9 2.9M133.4 93.8l2.9 2.9m0 -2.9l-2.9 2.9M129.9 97.7l2.9 2.9m0 -2.9l-2.9 2.9M134.6 91.9l2.9 2.9m0 -2.9l-2.9 2.9M131.8 96.9l2.9 2.9m0 -2.9l-2.9 2.9M136.5 90.8l2.9 2.9m0 -2.9l-2.9 2.9M133.3 95.6l2.9 2.9m0 -2.9l-2.9 2.9M137.7 89.5l2.9 2.9m0 -2.9l-2.9 2.9M134.5 93.9l2.9 2.9m0 -2.9l-2.9 2.9M140.2 87.9l2.9 2.9m0 -2.9l-2.9 2.9M136.2 92.9l2.9 2.9m0 -2.9l-2.9 2.9M142 86.6l2.9 2.9m0 -2.9l-2.9 2.9M138 92.1l2.9 2.9m0 -2.9l-2.9 2.9M143.7 84.7l2.9 2.9m0 -2.9l-2.9 2.9M139.8 90.6l2.9 2.9m0 -2.9l-2.9 2.9M145.3 83.5l2.9 2.9m0 -2.9l-2.9 2.9M141.5 89.6l2.9 2.9m0 -2.9l-2.9 2.9M147.6 82.2l2.9 2.9m0 -2.9l-2.9 2.9M143.5 88.4l2.9 2.9m0 -2.9l-2.9 2.9M148.2 80.4l2.9 2.9m0 -2.9l-2.9 2.9M145.1 87.8l2.9 2.9m0 -2.9l-2.9 2.9M149.3 79.3l2.9 2.9m0 -2.9l-2.9 2.9M147 86.4l2.9 2.9m0 -2.9l-2.9 2.9M151.6 78.9l2.9 2.9m0 -2.9l-2.9 2.9M148 84.9l2.9 2.9m0 -2.9l-2.9 2.9M153.1 78.2l2.9 2.9m0 -2.9l-2.9 2.9M150.7 84.5l2.9 2.9m0 -2.9l-2.9 2.9M154.9 76.9l2.9 2.9m0 -2.9l-2.9 2.9M152.1 82.9l2.9 2.9m0 -2.9l-2.9 2.9M156.7 76.4l2.9 2.9m0 -2.9l-2.9 2.9M153.4 82l2.9 2.9m0 -2.9l-2.9 2.9M158.9 75.8l2.9 2.9m0 -2.9l-2.9 2.9M155.2 81.1l2.9 2.9m0 -2.9l-2.9 2.9M159.8 74.2l2.9 2.9m0 -2.9l-2.9 2.9M157 79.3l2.9 2.9m0 -2.9l-2.9 2.9M161.3 74.2l2.9 2.9m0 -2.9l-2.9 2.9M158.6 78.3l2.9 2.9m0 -2.9l-2.9 2.9M163.4 73.3l2.9 2.9m0 -2.9l-2.9 2.9M160.4 77.8l2.9 2.9m0 -2.9l-2.9 2.9M165.6 72.5l2.9 2.9m0 -2.9l-2.9 2.9M161.9 76.1l2.9 2.9m0 -2.9l-2.9 2.9M167.1 71.4l2.9 2.9m0 -2.9l-2.9 2.9M163.9 75.5l2.9 2.9m0 -2.9l-2.9 2.9M168.3 70.1l2.9 2.9m0 -2.9l-2.9 2.9M165.3 74.1l2.9 2.9m0 -2.9l-2.9 2.9M170.1 69l2.9 2.9m0 -2.9l-2.9 2.9M166.8 72.8l2.9 2.9m0 -2.9l-2.9 2.9M172.2 68.3l2.9 2.9m0 -2.9l-2.9 2.9M169.4 72.2l2.9 2.9m0 -2.9l-2.9 2.9M174 66.7l2.9 2.9m0 -2.9l-2.9 2.9M170.6 70.3l2.9 2.9m0 -2.9l-2.9 2.9M175.4 65.5l2.9 2.9m0 -2.9l-2.9 2.9M172.8 69.9l2.9 2.9m0 -2.9l-2.9 2.9M177.6 65l2.9 2.9m0 -2.9l-2.9 2.9M173.9 68.5l2.9 2.9m0 -2.9l-2.9 2.9M179.2 63.9l2.9 2.9m0 -2.9l-2.9 2.9M175.4 67.2l2.9 2.9m0 -2.9l-2.9 2.9M180.5 62l2.9 2.9m0 -2.9l-2.9 2.9M177 66.1l2.9 2.9m0 -2.9l-2.9 2.9M182.7 60.5l2.9 2.9m0 -2.9l-2.9 2.9M178.8 65l2.9 2.9m0 -2.9l-2.9 2.9M184 59l2.9 2.9m0 -2.9l-2.9 2.9M180 62.9l2.9 2.9m0 -2.9l-2.9 2.9M185.7 57.7l2.9 2.9m0 -2.9l-2.9 2.9M182.7 61.7l2.9 2.9m0 -2.9l-2.9 2.9M187.6 56.6l2.9 2.9m0 -2.9l-2.9 2.9M184.7 60.8l2.9 2.9m0 -2.9l-2.9 2.9M189.1 56l2.9 2.9m0 -2.9l-2.9 2.9M185.8 59.2l2.9 2.9m0 -2.9l-2.9 2.9M190.6 54.5l2.9 2.9m0 -2.9l-2.9 2.9M188 58.2l2.9 2.9m0 -2.9l-2.9 2.9M193.2 54l2.9 2.9m0 -2.9l-2.9 2.9M189.4 57.3l2.9 2.9m0 -2.9l-2.9 2.9M194.3 52.8l2.9 2.9m0 -2.9l-2.9 2.9M190.7 55.6l2.9 2.9m0 -2.9l-2.9 2.9M196 51.8l2.9 2.9m0 -2.9l-2.9 2.9M192.4 54.4l2.9 2.9m0 -2.9l-2.9 2.9M197.2 49.9l2.9 2.9m0 -2.9l-2.9 2.9M194.2 53.3l2.9 2.9m0 -2.9l-2.9 2.9M199.2 48.8l2.9 2.9m0 -2.9l-2.9 2.9M195.7 52.1l2.9 2.9m0 -2.9l-2.9 2.9M200.9 48l2.9 2.9m0 -2.9l-2.9 2.9M198.1 51.6l2.9 2.9m0 -2.9l-2.9 2.9M202.8 47l2.9 2.9m0 -2.9l-2.9 2.9M199.5 50.6l2.9 2.9m0 -2.9l-2.9 2.9M204.6 45.8l2.9 2.9m0 -2.9l-2.9 2.9M201.1 49.3l2.9 2.9m0 -2.9l-2.9 2.9M206.4 44.7l2.9 2.9m0 -2.9l-2.9 2.9M202.7 47.7l2.9 2.9m0 -2.9l-2.9 2.9M207.5 43.2l2.9 2.9m0 -2.9l-2.9 2.9M204.4 46.6l2.9 2.9m0 -2.9l-2.9 2.9M209.5 42.5l2.9 2.9m0 -2.9l-2.9 2.9M206 45.4l2.9 2.9m0 -2.9l-2.9 2.9M211.7 41.5l2.9 2.9m0 -2.9l-2.9 2.9M207.7 44.6l2.9 2.9m0 -2.9l-2.9 2.9M213.2 40.4l2.9 2.9m0 -2.9l-2.9 2.9M209.3 43.1l2.9 2.9m0 -2.9l-2.9 2.9M214.7 38.6l2.9 2.9m0 -2.9l-2.9 2.9M211.3 42.4l2.9 2.9m0 -2.9l-2.9 2.9M216.4 37.7l2.9 2.9m0 -2.9l-2.9 2.9M213.4 41.6l2.9 2.9m0 -2.9l-2.9 2.9M217.5 37.1l2.9 2.9m0 -2.9l-2.9 2.9M214.9 40.4l2.9 2.9m0 -2.9l-2.9 2.9" stroke="#FFA500" stroke-width="1.55" fill="none"/>
<path d="M217 37l3.1 3.1m0 -3.1l-3.1 3.1M214.9 37.2l3.1 3.1m0 -3.1l-3.1 3.1" stroke="#FFA500" stroke-width="1.75" fill="none"/>
<path d="M44.6 156.3L218.5 41" stroke="#000" stroke-width="1.85" stroke-linecap="round" fill="none"/>
</g>
<rect x="44.4" y="20.6" width="175.2" height="155.9" fill="none" stroke="#6e6e6e" stroke-width="1.1"/>
<text transform="translate(73.3 194.9) scale(0.9 1)" text-anchor="middle" class="tk">-0.2</text>
<text transform="translate(102.6 194.9) scale(0.9 1)" text-anchor="middle" class="tk">-0.1</text>
<text transform="translate(131.9 194.9) scale(0.9 1)" text-anchor="middle" class="tk">0</text>
<text transform="translate(161.2 194.9) scale(0.9 1)" text-anchor="middle" class="tk">0.1</text>
<text transform="translate(190.5 194.9) scale(0.9 1)" text-anchor="middle" class="tk">0.2</text>
<text transform="translate(39.4 20.1) rotate(-90) scale(0.9 1)" text-anchor="middle" class="tk">0.4</text>
<text transform="translate(39.4 59.3) rotate(-90) scale(0.9 1)" text-anchor="middle" class="tk">0.2</text>
<text transform="translate(41.8 98.4) rotate(-90) scale(0.9 1)" text-anchor="middle" class="tk">0</text>
<text transform="translate(39.4 137.5) rotate(-90) scale(0.9 1)" text-anchor="middle" class="tk">-0.2</text>
<text transform="translate(39.4 176.7) rotate(-90) scale(0.9 1)" text-anchor="middle" class="tk">-0.4</text>
<text x="79.1" y="210.5" class="ax" style="font-size:18px" textLength="83.7" lengthAdjust="spacingAndGlyphs">True values</text>
<text transform="translate(23.5 151.9) rotate(-90)" class="ax" textLength="115.7" lengthAdjust="spacingAndGlyphs">Predicted values</text>
<text x="-0.8" y="14.6" class="lab">(a)</text>
<g class="ti">
<text transform="translate(53.9 45.4) scale(1.17 1)" class="it" style="font-size:21.5px">N</text>
<text x="72" y="46.3" style="font-size:22.5px">(</text>
<text x="82.4" y="45.7" class="it" style="font-size:21px">&#961;</text>
<text transform="translate(91.5 48.7) scale(1.28 1)" style="font-size:15px">in</text>
<text x="108.1" y="46.3" style="font-size:22.5px">)</text>
</g>
<clipPath id="clip1"><rect x="276.5" y="19.4" width="178.7" height="155.8"/></clipPath>
<path d="M298.1 19.4V175.2M322.8 19.4V175.2M347.4 19.4V175.2M372.1 19.4V175.2M396.8 19.4V175.2M421.4 19.4V175.2M446 19.4V175.2M276.5 158.5H455.2M276.5 138.7H455.2M276.5 118.8H455.2M276.5 99H455.2M276.5 79.2H455.2M276.5 59.3H455.2M276.5 39.5H455.2" stroke="#b2b2b2" stroke-width="0.8" stroke-dasharray="1.3 1.9" fill="none"/>
<g clip-path="url(#clip1)">
<path d="M284.5 165.4L285.3 164.3L286.1 162.7L286.9 161.8L287.7 160.4L288.5 159.5L289.3 158.2L290.1 158L290.9 157.2L291.7 156L292.5 155.2L293.3 154.4L294.1 153.6L294.9 152.4L295.7 152.5L296.5 151.3L297.3 150.7L298.1 150L298.9 149.5L299.7 149.4L300.5 148.1L301.3 147.6L302.1 147.5L302.9 146.5L303.7 145.7L304.5 145.6L305.3 144.9L306.1 144.2L306.9 143.7L307.7 142.6L308.5 142.6L309.3 141.8L310.1 140.6L310.9 140L311.8 139.7L312.6 139.1L313.4 138.2L314.2 137.5L315 137L315.8 136.2L316.6 135.9L317.4 135.5L318.2 134.2L319 133.9L319.8 133.4L320.6 132.3L321.4 132.2L322.2 131.7L323 130.6L323.8 130L324.6 129.7L325.4 128.8L326.2 128.1L327 127.9L327.8 127.1L328.6 126.1L329.4 125.4L330.2 124.9L331 124.3L331.8 124.1L332.6 123.3L333.4 122.8L334.2 122.1L335 121.5L335.8 120.2L336.6 119.9L337.4 119.7L338.2 119L339 117.8L339.8 117.3L340.6 116.9L341.4 116.1L342.2 115.6L343 114.6L343.8 114.3L344.6 113.8L345.4 112.8L346.2 112.3L347 112.4L347.8 111.6L348.6 111.1L349.4 110.3L350.2 109.8L351 109.3L351.8 108.7L352.6 107.4L353.4 107.3L354.2 106.4L355 106.2L355.8 105.3L356.6 104.9L357.4 104.6L358.2 103.8L359 102.9L359.8 102.6L360.6 101.9L361.4 101.7L362.2 100.6L363 100.1L363.8 99.7L364.7 98.7L365.5 98.5L366.3 98.1L367.1 97.1L367.9 96.3L368.7 95.8L369.5 95.2L370.3 94.3L371.1 93.6L371.9 93L372.7 92.4L373.5 91.9L374.3 91.1L375.1 90.5L375.9 89.7L376.7 89.4L377.5 89L378.3 88.2L379.1 87.5L379.9 86.9L380.7 85.9L381.5 85.7L382.3 84.9L383.1 84.4L383.9 83.8L384.7 83L385.5 82.3L386.3 81.6L387.1 81L387.9 80.6L388.7 79.9L389.5 79.4L390.3 78.3L391.1 78L391.9 77.8L392.7 76.7L393.5 76.3L394.3 75.6L395.1 74.8L395.9 74.7L396.7 73.5L397.5 73.2L398.3 72.1L399.1 71.3L399.9 71.3L400.7 70.3L401.5 69.3L402.3 68.9L403.1 68.2L403.9 67.8L404.7 66.6L405.5 66.1L406.3 66L407.1 65.1L407.9 64L408.7 63.5L409.5 62.8L410.3 62.3L411.1 61.5L411.9 60.9L412.7 60.2L413.5 59.1L414.3 58.6L415.1 57.8L415.9 57L416.7 56L417.6 55.5L418.4 54.7L419.2 54.1L420 52.7L420.8 52.6L421.6 51.3L422.4 51.2L423.2 50.4L424 49.6L424.8 49.3L425.6 48.4L426.4 47.6L427.2 47.2L428 46.6L428.8 45.7L429.6 44.9L430.4 44.2L431.2 43.6L432 43.1L432.8 42.1L433.6 41.5L434.4 41L435.2 40.2L436 39.4L436.8 39.3L437.6 38.8L438.4 37.9L439.2 37.3L440 36.6L440.8 36.1L441.6 35.5L442.4 35.3L443.2 34.7L444 33.8L444 42.8L443.2 43.9L442.4 44.2L441.6 45.2L440.8 45.5L440 46.8L439.2 47.6L438.4 48.1L437.6 48.9L436.8 49.5L436 50.2L435.2 51L434.4 51.4L433.6 52.5L432.8 52.9L432 53.6L431.2 54.6L430.4 54.7L429.6 55.9L428.8 56.2L428 57.2L427.2 57.8L426.4 58.3L425.6 58.7L424.8 59.9L424 60.2L423.2 61.3L422.4 61.7L421.6 62.6L420.8 63L420 63.3L419.2 64.6L418.4 64.7L417.6 65.9L416.7 66.3L415.9 67.2L415.1 68.1L414.3 68.3L413.5 68.9L412.7 69.9L411.9 70.9L411.1 71L410.3 72.1L409.5 72.9L408.7 73.1L407.9 74.2L407.1 74.7L406.3 75L405.5 76.2L404.7 76.7L403.9 77.3L403.1 78L402.3 78.6L401.5 79.2L400.7 79.4L399.9 80.6L399.1 81.3L398.3 81.7L397.5 82.4L396.7 82.9L395.9 83.9L395.1 84.2L394.3 85.1L393.5 85.2L392.7 86.5L391.9 87L391.1 87.8L390.3 88.5L389.5 88.7L388.7 89.6L387.9 90L387.1 91.1L386.3 91.8L385.5 92.1L384.7 93.1L383.9 93.8L383.1 93.9L382.3 95L381.5 95.3L380.7 96.2L379.9 97.2L379.1 97.4L378.3 98.1L377.5 99.2L376.7 99.5L375.9 100.2L375.1 101.6L374.3 102.1L373.5 102.5L372.7 103.3L371.9 103.6L371.1 104.6L370.3 105.1L369.5 106.4L368.7 106.9L367.9 107.5L367.1 108.3L366.3 108.8L365.5 109.3L364.7 110.6L363.8 111.1L363 111.8L362.2 112.3L361.4 112.7L360.6 113.6L359.8 113.9L359 115.2L358.2 115.8L357.4 115.8L356.6 116.6L355.8 117.1L355 118L354.2 118.9L353.4 119.6L352.6 120.3L351.8 120.4L351 121.5L350.2 122.1L349.4 122.5L348.6 123L347.8 123.3L347 124.2L346.2 124.8L345.4 125.7L344.6 126.1L343.8 126.7L343 127.6L342.2 127.8L341.4 128.5L340.6 128.9L339.8 129.9L339 130.8L338.2 130.8L337.4 131.8L336.6 132L335.8 132.9L335 133.8L334.2 133.9L333.4 134.2L332.6 135.4L331.8 135.8L331 136.3L330.2 137.3L329.4 137.9L328.6 138.3L327.8 138.9L327 139.6L326.2 140.4L325.4 140.7L324.6 141L323.8 141.5L323 142.2L322.2 143L321.4 143.4L320.6 144.6L319.8 144.9L319 145.3L318.2 145.7L317.4 146.8L316.6 147.6L315.8 147.6L315 148.5L314.2 149.2L313.4 149.3L312.6 150.2L311.8 150.9L310.9 151.5L310.1 151.7L309.3 152.3L308.5 153.2L307.7 153.8L306.9 154.5L306.1 155.1L305.3 155.9L304.5 156.2L303.7 156.7L302.9 157L302.1 158.1L301.3 158.5L300.5 159.3L299.7 159.9L298.9 160.3L298.1 161L297.3 161.6L296.5 161.8L295.7 162.8L294.9 163.2L294.1 163.7L293.3 164.6L292.5 165.2L291.7 166.2L290.9 166.8L290.1 166.6L289.3 167.6L288.5 168.4L287.7 168.2L286.9 168.8L286.1 169.2L285.3 170.1L284.5 170 Z" fill="#40E0D0"/>
<path d="M284.2 167.3a2.3 2.3 0 1 0 4.6 0a2.3 2.3 0 1 0 -4.6 0M281.1 167.7a2.3 2.3 0 1 0 4.6 0a2.3 2.3 0 1 0 -4.6 0M286.7 163.6a2.3 2.3 0 1 0 4.6 0a2.3 2.3 0 1 0 -4.6 0M282.8 167.1a2.3 2.3 0 1 0 4.6 0a2.3 2.3 0 1 0 -4.6 0M288.7 160.9a2.3 2.3 0 1 0 4.6 0a2.3 2.3 0 1 0 -4.6 0M284.2 165.3a2.3 2.3 0 1 0 4.6 0a2.3 2.3 0 1 0 -4.6 0M291.2 159.5a2.3 2.3 0 1 0 4.6 0a2.3 2.3 0 1 0 -4.6 0M286.3 164.7a2.3 2.3 0 1 0 4.6 0a2.3 2.3 0 1 0 -4.6 0M292.4 156.8a2.3 2.3 0 1 0 4.6 0a2.3 2.3 0 1 0 -4.6 0M288 162.8a2.3 2.3 0 1 0 4.6 0a2.3 2.3 0 1 0 -4.6 0M294.7 155.1a2.3 2.3 0 1 0 4.6 0a2.3 2.3 0 1 0 -4.6 0M289.9 161.3a2.3 2.3 0 1 0 4.6 0a2.3 2.3 0 1 0 -4.6 0M296.4 154.1a2.3 2.3 0 1 0 4.6 0a2.3 2.3 0 1 0 -4.6 0M291.8 159.9a2.3 2.3 0 1 0 4.6 0a2.3 2.3 0 1 0 -4.6 0M298.3 152a2.3 2.3 0 1 0 4.6 0a2.3 2.3 0 1 0 -4.6 0M294.1 158.3a2.3 2.3 0 1 0 4.6 0a2.3 2.3 0 1 0 -4.6 0M299.7 150.4a2.3 2.3 0 1 0 4.6 0a2.3 2.3 0 1 0 -4.6 0M296.1 157.3a2.3 2.3 0 1 0 4.6 0a2.3 2.3 0 1 0 -4.6 0M302.1 149.1a2.3 2.3 0 1 0 4.6 0a2.3 2.3 0 1 0 -4.6 0M298.3 155.9a2.3 2.3 0 1 0 4.6 0a2.3 2.3 0 1 0 -4.6 0M304.2 147.9a2.3 2.3 0 1 0 4.6 0a2.3 2.3 0 1 0 -4.6 0M299.9 153.6a2.3 2.3 0 1 0 4.6 0a2.3 2.3 0 1 0 -4.6 0M306.4 146.3a2.3 2.3 0 1 0 4.6 0a2.3 2.3 0 1 0 -4.6 0M302.3 152.5a2.3 2.3 0 1 0 4.6 0a2.3 2.3 0 1 0 -4.6 0M308 144.4a2.3 2.3 0 1 0 4.6 0a2.3 2.3 0 1 0 -4.6 0M304.1 150.7a2.3 2.3 0 1 0 4.6 0a2.3 2.3 0 1 0 -4.6 0M310 142.7a2.3 2.3 0 1 0 4.6 0a2.3 2.3 0 1 0 -4.6 0M306 149.2a2.3 2.3 0 1 0 4.6 0a2.3 2.3 0 1 0 -4.6 0M311.9 140.9a2.3 2.3 0 1 0 4.6 0a2.3 2.3 0 1 0 -4.6 0M308.6 148.3a2.3 2.3 0 1 0 4.6 0a2.3 2.3 0 1 0 -4.6 0M314.4 139.4a2.3 2.3 0 1 0 4.6 0a2.3 2.3 0 1 0 -4.6 0M309.7 146.3a2.3 2.3 0 1 0 4.6 0a2.3 2.3 0 1 0 -4.6 0M316.5 138.2a2.3 2.3 0 1 0 4.6 0a2.3 2.3 0 1 0 -4.6 0M312.2 144.8a2.3 2.3 0 1 0 4.6 0a2.3 2.3 0 1 0 -4.6 0M318 136.3a2.3 2.3 0 1 0 4.6 0a2.3 2.3 0 1 0 -4.6 0M313.8 143.2a2.3 2.3 0 1 0 4.6 0a2.3 2.3 0 1 0 -4.6 0M320.8 135.2a2.3 2.3 0 1 0 4.6 0a2.3 2.3 0 1 0 -4.6 0M316.1 141.9a2.3 2.3 0 1 0 4.6 0a2.3 2.3 0 1 0 -4.6 0M322.4 133.4a2.3 2.3 0 1 0 4.6 0a2.3 2.3 0 1 0 -4.6 0M318.5 141a2.3 2.3 0 1 0 4.6 0a2.3 2.3 0 1 0 -4.6 0M324.3 131.7a2.3 2.3 0 1 0 4.6 0a2.3 2.3 0 1 0 -4.6 0M319.6 138.7a2.3 2.3 0 1 0 4.6 0a2.3 2.3 0 1 0 -4.6 0M326.3 130.4a2.3 2.3 0 1 0 4.6 0a2.3 2.3 0 1 0 -4.6 0M322.2 137.4a2.3 2.3 0 1 0 4.6 0a2.3 2.3 0 1 0 -4.6 0M328.2 128.3a2.3 2.3 0 1 0 4.6 0a2.3 2.3 0 1 0 -4.6 0M323.9 135.6a2.3 2.3 0 1 0 4.6 0a2.3 2.3 0 1 0 -4.6 0M330.2 127a2.3 2.3 0 1 0 4.6 0a2.3 2.3 0 1 0 -4.6 0M326.3 134.9a2.3 2.3 0 1 0 4.6 0a2.3 2.3 0 1 0 -4.6 0M332.1 125.3a2.3 2.3 0 1 0 4.6 0a2.3 2.3 0 1 0 -4.6 0M328 133.2a2.3 2.3 0 1 0 4.6 0a2.3 2.3 0 1 0 -4.6 0M334.6 124a2.3 2.3 0 1 0 4.6 0a2.3 2.3 0 1 0 -4.6 0M330.1 131.7a2.3 2.3 0 1 0 4.6 0a2.3 2.3 0 1 0 -4.6 0M336.3 122.2a2.3 2.3 0 1 0 4.6 0a2.3 2.3 0 1 0 -4.6 0M331.7 129.6a2.3 2.3 0 1 0 4.6 0a2.3 2.3 0 1 0 -4.6 0M338.4 120.5a2.3 2.3 0 1 0 4.6 0a2.3 2.3 0 1 0 -4.6 0M334.4 128.8a2.3 2.3 0 1 0 4.6 0a2.3 2.3 0 1 0 -4.6 0M340.4 119a2.3 2.3 0 1 0 4.6 0a2.3 2.3 0 1 0 -4.6 0M336.2 126.9a2.3 2.3 0 1 0 4.6 0a2.3 2.3 0 1 0 -4.6 0M342.2 117.4a2.3 2.3 0 1 0 4.6 0a2.3 2.3 0 1 0 -4.6 0M338 125.4a2.3 2.3 0 1 0 4.6 0a2.3 2.3 0 1 0 -4.6 0M344.7 116.4a2.3 2.3 0 1 0 4.6 0a2.3 2.3 0 1 0 -4.6 0M340.2 124.3a2.3 2.3 0 1 0 4.6 0a2.3 2.3 0 1 0 -4.6 0M346 114.5a2.3 2.3 0 1 0 4.6 0a2.3 2.3 0 1 0 -4.6 0M342.3 122.8a2.3 2.3 0 1 0 4.6 0a2.3 2.3 0 1 0 -4.6 0M348.2 112.9a2.3 2.3 0 1 0 4.6 0a2.3 2.3 0 1 0 -4.6 0M343.9 120.9a2.3 2.3 0 1 0 4.6 0a2.3 2.3 0 1 0 -4.6 0M350.1 111.5a2.3 2.3 0 1 0 4.6 0a2.3 2.3 0 1 0 -4.6 0M346 119.5a2.3 2.3 0 1 0 4.6 0a2.3 2.3 0 1 0 -4.6 0M351.7 109.8a2.3 2.3 0 1 0 4.6 0a2.3 2.3 0 1 0 -4.6 0M347.8 117.4a2.3 2.3 0 1 0 4.6 0a2.3 2.3 0 1 0 -4.6 0M354.1 108.4a2.3 2.3 0 1 0 4.6 0a2.3 2.3 0 1 0 -4.6 0M349.7 115.8a2.3 2.3 0 1 0 4.6 0a2.3 2.3 0 1 0 -4.6 0M356 106.9a2.3 2.3 0 1 0 4.6 0a2.3 2.3 0 1 0 -4.6 0M351.9 114.7a2.3 2.3 0 1 0 4.6 0a2.3 2.3 0 1 0 -4.6 0M358 105.9a2.3 2.3 0 1 0 4.6 0a2.3 2.3 0 1 0 -4.6 0M353.8 112.7a2.3 2.3 0 1 0 4.6 0a2.3 2.3 0 1 0 -4.6 0M360.6 104.5a2.3 2.3 0 1 0 4.6 0a2.3 2.3 0 1 0 -4.6 0M355.8 111.3a2.3 2.3 0 1 0 4.6 0a2.3 2.3 0 1 0 -4.6 0M361.9 102.7a2.3 2.3 0 1 0 4.6 0a2.3 2.3 0 1 0 -4.6 0M358.5 110.2a2.3 2.3 0 1 0 4.6 0a2.3 2.3 0 1 0 -4.6 0M364.4 101.7a2.3 2.3 0 1 0 4.6 0a2.3 2.3 0 1 0 -4.6 0M360.3 108.5a2.3 2.3 0 1 0 4.6 0a2.3 2.3 0 1 0 -4.6 0M366.9 100.1a2.3 2.3 0 1 0 4.6 0a2.3 2.3 0 1 0 -4.6 0M362.3 106.8a2.3 2.3 0 1 0 4.6 0a2.3 2.3 0 1 0 -4.6 0M368.8 98.5a2.3 2.3 0 1 0 4.6 0a2.3 2.3 0 1 0 -4.6 0M363.9 105a2.3 2.3 0 1 0 4.6 0a2.3 2.3 0 1 0 -4.6 0M370.5 96.8a2.3 2.3 0 1 0 4.6 0a2.3 2.3 0 1 0 -4.6 0M366 103.2a2.3 2.3 0 1 0 4.6 0a2.3 2.3 0 1 0 -4.6 0M372.5 94.8a2.3 2.3 0 1 0 4.6 0a2.3 2.3 0 1 0 -4.6 0M367.8 101.5a2.3 2.3 0 1 0 4.6 0a2.3 2.3 0 1 0 -4.6 0M374.5 93.4a2.3 2.3 0 1 0 4.6 0a2.3 2.3 0 1 0 -4.6 0M369.8 99.3a2.3 2.3 0 1 0 4.6 0a2.3 2.3 0 1 0 -4.6 0M376.9 92.1a2.3 2.3 0 1 0 4.6 0a2.3 2.3 0 1 0 -4.6 0M371.9 97.8a2.3 2.3 0 1 0 4.6 0a2.3 2.3 0 1 0 -4.6 0M378 89.8a2.3 2.3 0 1 0 4.6 0a2.3 2.3 0 1 0 -4.6 0M373.6 96a2.3 2.3 0 1 0 4.6 0a2.3 2.3 0 1 0 -4.6 0M380.3 88.7a2.3 2.3 0 1 0 4.6 0a2.3 2.3 0 1 0 -4.6 0M376.3 94.4a2.3 2.3 0 1 0 4.6 0a2.3 2.3 0 1 0 -4.6 0M381.8 86.7a2.3 2.3 0 1 0 4.6 0a2.3 2.3 0 1 0 -4.6 0M377.8 92.7a2.3 2.3 0 1 0 4.6 0a2.3 2.3 0 1 0 -4.6 0M384.2 85.7a2.3 2.3 0 1 0 4.6 0a2.3 2.3 0 1 0 -4.6 0M379.9 90.7a2.3 2.3 0 1 0 4.6 0a2.3 2.3 0 1 0 -4.6 0M386.5 84.2a2.3 2.3 0 1 0 4.6 0a2.3 2.3 0 1 0 -4.6 0M382.2 89.5a2.3 2.3 0 1 0 4.6 0a2.3 2.3 0 1 0 -4.6 0M388.3 82.4a2.3 2.3 0 1 0 4.6 0a2.3 2.3 0 1 0 -4.6 0M384 87.7a2.3 2.3 0 1 0 4.6 0a2.3 2.3 0 1 0 -4.6 0M390.6 81a2.3 2.3 0 1 0 4.6 0a2.3 2.3 0 1 0 -4.6 0M385.5 85.6a2.3 2.3 0 1 0 4.6 0a2.3 2.3 0 1 0 -4.6 0M392.2 79.1a2.3 2.3 0 1 0 4.6 0a2.3 2.3 0 1 0 -4.6 0M387.8 84.2a2.3 2.3 0 1 0 4.6 0a2.3 2.3 0 1 0 -4.6 0M393.9 77.5a2.3 2.3 0 1 0 4.6 0a2.3 2.3 0 1 0 -4.6 0M390.1 82.7a2.3 2.3 0 1 0 4.6 0a2.3 2.3 0 1 0 -4.6 0M397 76.4a2.3 2.3 0 1 0 4.6 0a2.3 2.3 0 1 0 -4.6 0M392.1 80.6a2.3 2.3 0 1 0 4.6 0a2.3 2.3 0 1 0 -4.6 0M398.8 74.7a2.3 2.3 0 1 0 4.6 0a2.3 2.3 0 1 0 -4.6 0M393.5 79a2.3 2.3 0 1 0 4.6 0a2.3 2.3 0 1 0 -4.6 0M400.6 72.8a2.3 2.3 0 1 0 4.6 0a2.3 2.3 0 1 0 -4.6 0M396.2 77.8a2.3 2.3 0 1 0 4.6 0a2.3 2.3 0 1 0 -4.6 0M402.7 71.4a2.3 2.3 0 1 0 4.6 0a2.3 2.3 0 1 0 -4.6 0M397.8 75.9a2.3 2.3 0 1 0 4.6 0a2.3 2.3 0 1 0 -4.6 0M404.6 69.2a2.3 2.3 0 1 0 4.6 0a2.3 2.3 0 1 0 -4.6 0M400.2 74.9a2.3 2.3 0 1 0 4.6 0a2.3 2.3 0 1 0 -4.6 0M406.5 67.8a2.3 2.3 0 1 0 4.6 0a2.3 2.3 0 1 0 -4.6 0M402.4 73.2a2.3 2.3 0 1 0 4.6 0a2.3 2.3 0 1 0 -4.6 0M408.4 65.8a2.3 2.3 0 1 0 4.6 0a2.3 2.3 0 1 0 -4.6 0M404.1 71.3a2.3 2.3 0 1 0 4.6 0a2.3 2.3 0 1 0 -4.6 0M410.6 64.1a2.3 2.3 0 1 0 4.6 0a2.3 2.3 0 1 0 -4.6 0M406 70a2.3 2.3 0 1 0 4.6 0a2.3 2.3 0 1 0 -4.6 0M412.9 62.5a2.3 2.3 0 1 0 4.6 0a2.3 2.3 0 1 0 -4.6 0M408.4 68.3a2.3 2.3 0 1 0 4.6 0a2.3 2.3 0 1 0 -4.6 0M414.2 60a2.3 2.3 0 1 0 4.6 0a2.3 2.3 0 1 0 -4.6 0M409.8 66.2a2.3 2.3 0 1 0 4.6 0a2.3 2.3 0 1 0 -4.6 0M416.6 58.3a2.3 2.3 0 1 0 4.6 0a2.3 2.3 0 1 0 -4.6 0M412.2 64.7a2.3 2.3 0 1 0 4.6 0a2.3 2.3 0 1 0 -4.6 0M418.3 56.1a2.3 2.3 0 1 0 4.6 0a2.3 2.3 0 1 0 -4.6 0M413.6 62.7a2.3 2.3 0 1 0 4.6 0a2.3 2.3 0 1 0 -4.6 0M420.1 54.6a2.3 2.3 0 1 0 4.6 0a2.3 2.3 0 1 0 -4.6 0M416.2 61.1a2.3 2.3 0 1 0 4.6 0a2.3 2.3 0 1 0 -4.6 0M422.6 53.1a2.3 2.3 0 1 0 4.6 0a2.3 2.3 0 1 0 -4.6 0M417.6 59.2a2.3 2.3 0 1 0 4.6 0a2.3 2.3 0 1 0 -4.6 0M424.9 51.8a2.3 2.3 0 1 0 4.6 0a2.3 2.3 0 1 0 -4.6 0M420.4 58.1a2.3 2.3 0 1 0 4.6 0a2.3 2.3 0 1 0 -4.6 0M426.2 49.6a2.3 2.3 0 1 0 4.6 0a2.3 2.3 0 1 0 -4.6 0M421.7 55.7a2.3 2.3 0 1 0 4.6 0a2.3 2.3 0 1 0 -4.6 0M428.4 48.2a2.3 2.3 0 1 0 4.6 0a2.3 2.3 0 1 0 -4.6 0M423.5 54.1a2.3 2.3 0 1 0 4.6 0a2.3 2.3 0 1 0 -4.6 0M430.2 46.1a2.3 2.3 0 1 0 4.6 0a2.3 2.3 0 1 0 -4.6 0M426.4 53.1a2.3 2.3 0 1 0 4.6 0a2.3 2.3 0 1 0 -4.6 0M432.1 44.4a2.3 2.3 0 1 0 4.6 0a2.3 2.3 0 1 0 -4.6 0M427.8 50.9a2.3 2.3 0 1 0 4.6 0a2.3 2.3 0 1 0 -4.6 0M434.8 43.3a2.3 2.3 0 1 0 4.6 0a2.3 2.3 0 1 0 -4.6 0M429.7 49a2.3 2.3 0 1 0 4.6 0a2.3 2.3 0 1 0 -4.6 0M436.7 41.9a2.3 2.3 0 1 0 4.6 0a2.3 2.3 0 1 0 -4.6 0M432.2 48a2.3 2.3 0 1 0 4.6 0a2.3 2.3 0 1 0 -4.6 0M438.2 40.1a2.3 2.3 0 1 0 4.6 0a2.3 2.3 0 1 0 -4.6 0M433.9 45.8a2.3 2.3 0 1 0 4.6 0a2.3 2.3 0 1 0 -4.6 0M439.8 38.5a2.3 2.3 0 1 0 4.6 0a2.3 2.3 0 1 0 -4.6 0M435.9 43.8a2.3 2.3 0 1 0 4.6 0a2.3 2.3 0 1 0 -4.6 0M442 37.7a2.3 2.3 0 1 0 4.6 0a2.3 2.3 0 1 0 -4.6 0M437.5 42.1a2.3 2.3 0 1 0 4.6 0a2.3 2.3 0 1 0 -4.6 0M442 36.3a2.3 2.3 0 1 0 4.6 0a2.3 2.3 0 1 0 -4.6 0" stroke="#40E0D0" stroke-width="1.25" fill="none"/>
<path d="M284.5 164.2L285.3 163.8L286.1 162.6L286.9 162.6L287.7 161.7L288.5 160.7L289.3 160L290.1 159.6L290.9 159.3L291.7 158.4L292.5 157.4L293.3 156.7L294.1 156.1L294.9 156L295.7 154.9L296.5 154.6L297.3 153.8L298.1 153.5L298.9 152.6L299.7 151.8L300.5 151.8L301.3 150.9L302.1 150.5L302.9 149.9L303.7 149.5L304.5 148.1L305.3 147.7L306.1 146.9L306.9 146.5L307.7 146.1L308.5 145.4L309.3 144.1L310.1 143.6L310.9 143.4L311.8 142.6L312.6 141.7L313.4 141.1L314.2 140.2L315 140.1L315.8 139L316.6 138.7L317.4 137.9L318.2 136.8L319 136.3L319.8 135.5L320.6 135.4L321.4 134.5L322.2 133.4L323 132.8L323.8 132.3L324.6 131.7L325.4 131.1L326.2 130.3L327 129.6L327.8 128.7L328.6 128.5L329.4 127.6L330.2 126.7L331 126.4L331.8 126.1L332.6 124.7L333.4 124.1L334.2 123.9L335 122.9L335.8 122.2L336.6 121.8L337.4 120.9L338.2 120.5L339 119.8L339.8 119.5L340.6 118.9L341.4 117.5L342.2 117.3L343 116.8L343.8 116.3L344.6 115.6L345.4 114.9L346.2 114.3L347 113.5L347.8 112.8L348.6 112.6L349.4 112L350.2 111.5L351 110.7L351.8 109.7L352.6 109.5L353.4 108.9L354.2 108.1L355 107.5L355.8 106.7L356.6 106.2L357.4 105.5L358.2 104.6L359 104.2L359.8 103.6L360.6 103.5L361.4 102.5L362.2 101.8L363 101.1L363.8 100.5L364.7 99.9L365.5 99.1L366.3 98.4L367.1 98.5L367.9 97.5L368.7 96.9L369.5 96.4L370.3 95.6L371.1 94.8L371.9 94.1L372.7 93.7L373.5 93.1L374.3 92.8L375.1 92L375.9 91.7L376.7 90.6L377.5 90.5L378.3 89.6L379.1 88.6L379.9 88L380.7 87.7L381.5 87.4L382.3 86.3L383.1 86L383.9 85.1L384.7 84.9L385.5 83.6L386.3 83.3L387.1 83L387.9 81.9L388.7 81.3L389.5 80.5L390.3 80L391.1 79.4L391.9 79.2L392.7 78.2L393.5 77.7L394.3 76.9L395.1 76.6L395.9 76.1L396.7 75.3L397.5 74.3L398.3 74L399.1 73.5L399.9 72.6L400.7 71.5L401.5 71.4L402.3 70.8L403.1 69.7L403.9 68.8L404.7 68.2L405.5 67.8L406.3 67.4L407.1 66.5L407.9 66.1L408.7 64.9L409.5 64.3L410.3 63.9L411.1 63.2L411.9 62.3L412.7 61.8L413.5 60.9L414.3 59.9L415.1 59.5L415.9 58.6L416.7 58.3L417.6 57.4L418.4 56.9L419.2 56.3L420 55.3L420.8 54.8L421.6 53.8L422.4 53.9L423.2 53L424 52.7L424.8 51.3L425.6 51.1L426.4 50.5L427.2 49.5L428 48.7L428.8 48.1L429.6 47.5L430.4 47.3L431.2 46.1L432 46.1L432.8 45.1L433.6 44.5L434.4 43.9L435.2 43.3L436 42.7L436.8 42.1L437.6 41.3L438.4 41L439.2 40L440 39.8L440.8 39.2L441.6 38.6L442.4 37.7L443.2 37.4L444 37L444 42.2L443.2 43.3L442.4 43.8L441.6 44.5L440.8 45.4L440 45.9L439.2 46.7L438.4 47.5L437.6 48.4L436.8 48.9L436 49.9L435.2 50.3L434.4 51L433.6 52L432.8 52.1L432 53.1L431.2 53.8L430.4 54.2L429.6 55L428.8 56.2L428 56.1L427.2 57.3L426.4 57.8L425.6 58.4L424.8 59.3L424 59.7L423.2 60.9L422.4 60.9L421.6 61.6L420.8 62.3L420 63.5L419.2 64.1L418.4 64.8L417.6 65.4L416.7 65.9L415.9 66.8L415.1 67L414.3 67.9L413.5 69.1L412.7 69L411.9 70.3L411.1 70.8L410.3 71.5L409.5 72.2L408.7 72.4L407.9 73.5L407.1 74.2L406.3 74.8L405.5 75.1L404.7 75.7L403.9 76.2L403.1 77.1L402.3 77.9L401.5 78.5L400.7 79.1L399.9 79.7L399.1 80.9L398.3 81.2L397.5 81.7L396.7 82.5L395.9 83.1L395.1 84.1L394.3 84.7L393.5 85.2L392.7 85.9L391.9 86.5L391.1 86.8L390.3 87.3L389.5 87.9L388.7 89.1L387.9 89.7L387.1 89.8L386.3 90.8L385.5 91.6L384.7 92.4L383.9 92.8L383.1 93.2L382.3 94.3L381.5 94.6L380.7 95.6L379.9 96.1L379.1 97L378.3 97.4L377.5 98.4L376.7 98.5L375.9 99.6L375.1 99.8L374.3 101.3L373.5 101.9L372.7 102.4L371.9 103.2L371.1 103.7L370.3 104.8L369.5 104.9L368.7 105.6L367.9 106.7L367.1 107.6L366.3 107.5L365.5 108.3L364.7 109.1L363.8 109.6L363 110.7L362.2 111.5L361.4 111.7L360.6 112.8L359.8 113.5L359 113.6L358.2 114.7L357.4 114.8L356.6 116.1L355.8 116L355 117.3L354.2 118L353.4 118.5L352.6 118.6L351.8 119.3L351 120.5L350.2 120.5L349.4 121.2L348.6 122.2L347.8 122.3L347 123.5L346.2 123.6L345.4 124.4L344.6 125.1L343.8 125.6L343 126.2L342.2 127.2L341.4 127.2L340.6 128.2L339.8 128.9L339 129.6L338.2 129.7L337.4 130.4L336.6 131.4L335.8 131.5L335 132.1L334.2 133.3L333.4 133.6L332.6 134.5L331.8 134.4L331 135.6L330.2 135.9L329.4 136.4L328.6 137.5L327.8 138.1L327 138.5L326.2 139.3L325.4 139.9L324.6 140.5L323.8 140.8L323 141.1L322.2 141.8L321.4 142.8L320.6 143.3L319.8 144.3L319 144.3L318.2 145.2L317.4 145.7L316.6 146.8L315.8 146.8L315 148L314.2 147.9L313.4 149L312.6 149.5L311.8 149.9L310.9 150.9L310.1 151.3L309.3 152L308.5 152.2L307.7 153.4L306.9 153.6L306.1 154.8L305.3 155.3L304.5 155.4L303.7 156.1L302.9 157.2L302.1 157.8L301.3 158.2L300.5 158.4L299.7 159.6L298.9 159.9L298.1 160.5L297.3 161.5L296.5 162L295.7 162.7L294.9 163.3L294.1 163.3L293.3 164.3L292.5 164.3L291.7 165.4L290.9 165.7L290.1 166.3L289.3 167.1L288.5 168L287.7 168.5L286.9 168.4L286.1 169.2L285.3 170L284.5 170.4 Z" fill="#FFA500"/>
<path d="M284.3 164.6l2.9 2.9m0 -2.9l-2.9 2.9M282.3 166.7l2.9 2.9m0 -2.9l-2.9 2.9M286.7 163.2l2.9 2.9m0 -2.9l-2.9 2.9M283 166l2.9 2.9m0 -2.9l-2.9 2.9M288.7 162.2l2.9 2.9m0 -2.9l-2.9 2.9M284.7 164.6l2.9 2.9m0 -2.9l-2.9 2.9M290.1 160.7l2.9 2.9m0 -2.9l-2.9 2.9M286.8 163.7l2.9 2.9m0 -2.9l-2.9 2.9M291.8 159.1l2.9 2.9m0 -2.9l-2.9 2.9M288.1 161.9l2.9 2.9m0 -2.9l-2.9 2.9M293.4 158l2.9 2.9m0 -2.9l-2.9 2.9M290 161.1l2.9 2.9m0 -2.9l-2.9 2.9M295.1 156.6l2.9 2.9m0 -2.9l-2.9 2.9M291.5 160l2.9 2.9m0 -2.9l-2.9 2.9M296.4 154.8l2.9 2.9m0 -2.9l-2.9 2.9M292.9 158.2l2.9 2.9m0 -2.9l-2.9 2.9M298.2 153.8l2.9 2.9m0 -2.9l-2.9 2.9M295.2 157.3l2.9 2.9m0 -2.9l-2.9 2.9M300.3 152.7l2.9 2.9m0 -2.9l-2.9 2.9M296.7 155.9l2.9 2.9m0 -2.9l-2.9 2.9M301.8 151.5l2.9 2.9m0 -2.9l-2.9 2.9M298 154.5l2.9 2.9m0 -2.9l-2.9 2.9M303.4 150l2.9 2.9m0 -2.9l-2.9 2.9M299.9 153.4l2.9 2.9m0 -2.9l-2.9 2.9M305 148.5l2.9 2.9m0 -2.9l-2.9 2.9M301.9 152.3l2.9 2.9m0 -2.9l-2.9 2.9M306.6 146.8l2.9 2.9m0 -2.9l-2.9 2.9M303 150.6l2.9 2.9m0 -2.9l-2.9 2.9M308.5 145.6l2.9 2.9m0 -2.9l-2.9 2.9M304.5 149.1l2.9 2.9m0 -2.9l-2.9 2.9M310.8 144.4l2.9 2.9m0 -2.9l-2.9 2.9M306.8 148.4l2.9 2.9m0 -2.9l-2.9 2.9M312.5 143.1l2.9 2.9m0 -2.9l-2.9 2.9M308.2 146.9l2.9 2.9m0 -2.9l-2.9 2.9M313.8 141.4l2.9 2.9m0 -2.9l-2.9 2.9M309.8 145.3l2.9 2.9m0 -2.9l-2.9 2.9M315.6 140l2.9 2.9m0 -2.9l-2.9 2.9M311.5 143.9l2.9 2.9m0 -2.9l-2.9 2.9M317.3 138.5l2.9 2.9m0 -2.9l-2.9 2.9M313 142.5l2.9 2.9m0 -2.9l-2.9 2.9M319.5 137.6l2.9 2.9m0 -2.9l-2.9 2.9M315.4 141.7l2.9 2.9m0 -2.9l-2.9 2.9M320.3 135.6l2.9 2.9m0 -2.9l-2.9 2.9M316.7 140l2.9 2.9m0 -2.9l-2.9 2.9M322.4 134.4l2.9 2.9m0 -2.9l-2.9 2.9M318.5 138.6l2.9 2.9m0 -2.9l-2.9 2.9M323.8 132.5l2.9 2.9m0 -2.9l-2.9 2.9M320.3 137.7l2.9 2.9m0 -2.9l-2.9 2.9M326 131.8l2.9 2.9m0 -2.9l-2.9 2.9M322.3 136.4l2.9 2.9m0 -2.9l-2.9 2.9M327.4 130.1l2.9 2.9m0 -2.9l-2.9 2.9M323.9 135.1l2.9 2.9m0 -2.9l-2.9 2.9M329.5 128.9l2.9 2.9m0 -2.9l-2.9 2.9M325.2 133.9l2.9 2.9m0 -2.9l-2.9 2.9M331.1 127.5l2.9 2.9m0 -2.9l-2.9 2.9M327.1 132.3l2.9 2.9m0 -2.9l-2.9 2.9M332.2 125.6l2.9 2.9m0 -2.9l-2.9 2.9M329.3 131.6l2.9 2.9m0 -2.9l-2.9 2.9M333.8 124.1l2.9 2.9m0 -2.9l-2.9 2.9M330.4 129.7l2.9 2.9m0 -2.9l-2.9 2.9M335.8 122.7l2.9 2.9m0 -2.9l-2.9 2.9M332.1 128.5l2.9 2.9m0 -2.9l-2.9 2.9M337.5 121.3l2.9 2.9m0 -2.9l-2.9 2.9M334 127.5l2.9 2.9m0 -2.9l-2.9 2.9M339.9 120.7l2.9 2.9m0 -2.9l-2.9 2.9M335.2 125.8l2.9 2.9m0 -2.9l-2.9 2.9M340.9 118.8l2.9 2.9m0 -2.9l-2.9 2.9M337.9 125.2l2.9 2.9m0 -2.9l-2.9 2.9M342.4 117.4l2.9 2.9m0 -2.9l-2.9 2.9M339 123.7l2.9 2.9m0 -2.9l-2.9 2.9M344.7 116.6l2.9 2.9m0 -2.9l-2.9 2.9M340.7 122.2l2.9 2.9m0 -2.9l-2.9 2.9M345.7 114.6l2.9 2.9m0 -2.9l-2.9 2.9M342.3 120.6l2.9 2.9m0 -2.9l-2.9 2.9M347.9 114l2.9 2.9m0 -2.9l-2.9 2.9M344 119.9l2.9 2.9m0 -2.9l-2.9 2.9M349.4 112.5l2.9 2.9m0 -2.9l-2.9 2.9M345.8 118.3l2.9 2.9m0 -2.9l-2.9 2.9M351.2 111.2l2.9 2.9m0 -2.9l-2.9 2.9M347.1 116.8l2.9 2.9m0 -2.9l-2.9 2.9M353.2 110.2l2.9 2.9m0 -2.9l-2.9 2.9M349.3 116.1l2.9 2.9m0 -2.9l-2.9 2.9M354.6 108.6l2.9 2.9m0 -2.9l-2.9 2.9M350.7 114.3l2.9 2.9m0 -2.9l-2.9 2.9M356.3 107l2.9 2.9m0 -2.9l-2.9 2.9M352.8 113.2l2.9 2.9m0 -2.9l-2.9 2.9M358.3 106.2l2.9 2.9m0 -2.9l-2.9 2.9M354.5 111.7l2.9 2.9m0 -2.9l-2.9 2.9M359.9 104.6l2.9 2.9m0 -2.9l-2.9 2.9M356.2 110.6l2.9 2.9m0 -2.9l-2.9 2.9M361.2 103.4l2.9 2.9m0 -2.9l-2.9 2.9M357.1 108.6l2.9 2.9m0 -2.9l-2.9 2.9M363 102.1l2.9 2.9m0 -2.9l-2.9 2.9M359.1 107.2l2.9 2.9m0 -2.9l-2.9 2.9M365 101l2.9 2.9m0 -2.9l-2.9 2.9M361 106l2.9 2.9m0 -2.9l-2.9 2.9M366.2 99.2l2.9 2.9m0 -2.9l-2.9 2.9M362.2 104.5l2.9 2.9m0 -2.9l-2.9 2.9M368.3 98.4l2.9 2.9m0 -2.9l-2.9 2.9M364.4 103.6l2.9 2.9m0 -2.9l-2.9 2.9M370.4 97l2.9 2.9m0 -2.9l-2.9 2.9M366.2 101.9l2.9 2.9m0 -2.9l-2.9 2.9M371.7 95.2l2.9 2.9m0 -2.9l-2.9 2.9M367.4 100.2l2.9 2.9m0 -2.9l-2.9 2.9M373.1 93.7l2.9 2.9m0 -2.9l-2.9 2.9M370 99.2l2.9 2.9m0 -2.9l-2.9 2.9M374.7 92.6l2.9 2.9m0 -2.9l-2.9 2.9M371 97.3l2.9 2.9m0 -2.9l-2.9 2.9M376.5 91.6l2.9 2.9m0 -2.9l-2.9 2.9M372.4 95.5l2.9 2.9m0 -2.9l-2.9 2.9M378.4 90.5l2.9 2.9m0 -2.9l-2.9 2.9M374.6 94.1l2.9 2.9m0 -2.9l-2.9 2.9M379.8 88.8l2.9 2.9m0 -2.9l-2.9 2.9M376.4 93l2.9 2.9m0 -2.9l-2.9 2.9M381.6 87.3l2.9 2.9m0 -2.9l-2.9 2.9M378.3 91.8l2.9 2.9m0 -2.9l-2.9 2.9M383.6 86.5l2.9 2.9m0 -2.9l-2.9 2.9M379.4 89.9l2.9 2.9m0 -2.9l-2.9 2.9M385.2 85.2l2.9 2.9m0 -2.9l-2.9 2.9M381.4 88.3l2.9 2.9m0 -2.9l-2.9 2.9M387.2 84l2.9 2.9m0 -2.9l-2.9 2.9M383.2 87.5l2.9 2.9m0 -2.9l-2.9 2.9M388.8 82.5l2.9 2.9m0 -2.9l-2.9 2.9M384.3 85.6l2.9 2.9m0 -2.9l-2.9 2.9M390.5 81l2.9 2.9m0 -2.9l-2.9 2.9M386.5 84.5l2.9 2.9m0 -2.9l-2.9 2.9M391.5 79.3l2.9 2.9m0 -2.9l-2.9 2.9M388.6 83.4l2.9 2.9m0 -2.9l-2.9 2.9M393.8 78.7l2.9 2.9m0 -2.9l-2.9 2.9M389.4 81.5l2.9 2.9m0 -2.9l-2.9 2.9M395.8 77.1l2.9 2.9m0 -2.9l-2.9 2.9M392 80.6l2.9 2.9m0 -2.9l-2.9 2.9M397 75.7l2.9 2.9m0 -2.9l-2.9 2.9M393.4 79.3l2.9 2.9m0 -2.9l-2.9 2.9M398.9 73.9l2.9 2.9m0 -2.9l-2.9 2.9M395.4 78l2.9 2.9m0 -2.9l-2.9 2.9M400.2 72.5l2.9 2.9m0 -2.9l-2.9 2.9M396.5 76.3l2.9 2.9m0 -2.9l-2.9 2.9M402.5 71.3l2.9 2.9m0 -2.9l-2.9 2.9M398.4 74.9l2.9 2.9m0 -2.9l-2.9 2.9M403.7 69.5l2.9 2.9m0 -2.9l-2.9 2.9M400.5 74l2.9 2.9m0 -2.9l-2.9 2.9M405.5 68.1l2.9 2.9m0 -2.9l-2.9 2.9M401.9 72.4l2.9 2.9m0 -2.9l-2.9 2.9M407.3 67.1l2.9 2.9m0 -2.9l-2.9 2.9M404 71.2l2.9 2.9m0 -2.9l-2.9 2.9M409.2 65.4l2.9 2.9m0 -2.9l-2.9 2.9M405 69.2l2.9 2.9m0 -2.9l-2.9 2.9M410.3 63.8l2.9 2.9m0 -2.9l-2.9 2.9M406.4 67.9l2.9 2.9m0 -2.9l-2.9 2.9M412.5 62.7l2.9 2.9m0 -2.9l-2.9 2.9M408.8 67.1l2.9 2.9m0 -2.9l-2.9 2.9M414 60.9l2.9 2.9m0 -2.9l-2.9 2.9M410.2 65.3l2.9 2.9m0 -2.9l-2.9 2.9M415.7 59.5l2.9 2.9m0 -2.9l-2.9 2.9M412 64.1l2.9 2.9m0 -2.9l-2.9 2.9M417.7 58.1l2.9 2.9m0 -2.9l-2.9 2.9M413.9 62.4l2.9 2.9m0 -2.9l-2.9 2.9M419.2 56.4l2.9 2.9m0 -2.9l-2.9 2.9M415.6 60.9l2.9 2.9m0 -2.9l-2.9 2.9M421.1 55.5l2.9 2.9m0 -2.9l-2.9 2.9M417.4 59.7l2.9 2.9m0 -2.9l-2.9 2.9M422.3 53.8l2.9 2.9m0 -2.9l-2.9 2.9M419.1 58.4l2.9 2.9m0 -2.9l-2.9 2.9M424.2 52.7l2.9 2.9m0 -2.9l-2.9 2.9M420 56.3l2.9 2.9m0 -2.9l-2.9 2.9M426 51.4l2.9 2.9m0 -2.9l-2.9 2.9M422.3 55.1l2.9 2.9m0 -2.9l-2.9 2.9M427.6 50.2l2.9 2.9m0 -2.9l-2.9 2.9M424.1 54l2.9 2.9m0 -2.9l-2.9 2.9M429.5 49l2.9 2.9m0 -2.9l-2.9 2.9M425.6 52.2l2.9 2.9m0 -2.9l-2.9 2.9M431.3 47.5l2.9 2.9m0 -2.9l-2.9 2.9M427.1 50.7l2.9 2.9m0 -2.9l-2.9 2.9M432.9 46.2l2.9 2.9m0 -2.9l-2.9 2.9M428.6 49.1l2.9 2.9m0 -2.9l-2.9 2.9M434.2 44.4l2.9 2.9m0 -2.9l-2.9 2.9M431 48.3l2.9 2.9m0 -2.9l-2.9 2.9M436.1 43.3l2.9 2.9m0 -2.9l-2.9 2.9M432.2 46.8l2.9 2.9m0 -2.9l-2.9 2.9M437.5 41.7l2.9 2.9m0 -2.9l-2.9 2.9M434.4 45.3l2.9 2.9m0 -2.9l-2.9 2.9M440.1 41.1l2.9 2.9m0 -2.9l-2.9 2.9M435.7 43.6l2.9 2.9m0 -2.9l-2.9 2.9M441.7 39.7l2.9 2.9m0 -2.9l-2.9 2.9M437.3 41.8l2.9 2.9m0 -2.9l-2.9 2.9M442.8 37.9l2.9 2.9m0 -2.9l-2.9 2.9M439 40.2l2.9 2.9m0 -2.9l-2.9 2.9" stroke="#FFA500" stroke-width="1.55" fill="none"/>
<path d="M283.6 159.4l3.1 3.1m0 -3.1l-3.1 3.1M285.4 162.4l3.1 3.1m0 -3.1l-3.1 3.1M286.9 158.4l3.1 3.1m0 -3.1l-3.1 3.1" stroke="#FFA500" stroke-width="1.75" fill="none"/>
<path d="M287.8 166.6L443.9 40.8" stroke="#000" stroke-width="1.85" stroke-linecap="round" fill="none"/>
</g>
<rect x="276.5" y="19.4" width="178.7" height="155.8" fill="none" stroke="#6e6e6e" stroke-width="1.1"/>
<text transform="translate(322.8 193.7) scale(0.9 1)" text-anchor="middle" class="tk">1.8</text>
<text transform="translate(372.1 193.7) scale(0.9 1)" text-anchor="middle" class="tk">2</text>
<text transform="translate(421.4 193.7) scale(0.9 1)" text-anchor="middle" class="tk">2.2</text>
<text transform="translate(272 138.7) rotate(-90) scale(0.9 1)" text-anchor="middle" class="tk">1.8</text>
<text transform="translate(272 99) rotate(-90) scale(0.9 1)" text-anchor="middle" class="tk">2</text>
<text transform="translate(272 59.3) rotate(-90) scale(0.9 1)" text-anchor="middle" class="tk">2.2</text>
<text x="324.1" y="208.6" class="ax" style="font-size:17.7px" textLength="81.4" lengthAdjust="spacingAndGlyphs">True values</text>
<text transform="translate(255.7 148.7) rotate(-90)" class="ax" textLength="116.5" lengthAdjust="spacingAndGlyphs">Predicted values</text>
<text x="240" y="14.6" class="lab">(b)</text>
<g class="ti">
<text transform="translate(288 45.4) scale(1.19 1)" class="it" style="font-size:21.5px">S</text>
<text x="302" y="46.3" style="font-size:22.5px">(</text>
<text x="310.9" y="45.7" class="it" style="font-size:21px">&#961;</text>
<text transform="translate(319.7 48.7) scale(1.28 1)" style="font-size:15px">in</text>
<text x="336.7" y="46.3" style="font-size:22.5px">)</text>
</g>
<clipPath id="clip2"><rect x="511.5" y="19.5" width="172.9" height="154.9"/></clipPath>
<path d="M534.9 19.5V174.4M561.1 19.5V174.4M587.3 19.5V174.4M613.4 19.5V174.4M639.6 19.5V174.4M665.7 19.5V174.4M511.5 168.7H684.4M511.5 145.9H684.4M511.5 123H684.4M511.5 100.1H684.4M511.5 77.3H684.4M511.5 54.4H684.4M511.5 31.5H684.4" stroke="#b2b2b2" stroke-width="0.8" stroke-dasharray="1.3 1.9" fill="none"/>
<g clip-path="url(#clip2)">
<path d="M515.5 164.3L516.3 163.6L517.1 162.1L517.9 160.8L518.7 160.3L519.5 159L520.3 158L521.1 156.5L521.9 156.1L522.7 155.1L523.5 154.1L524.3 153L525.1 152.1L525.9 151L526.7 149.9L527.5 148.7L528.3 148.1L529.1 147.2L529.9 146.3L530.7 145L531.5 144.6L532.3 143.4L533.1 142.8L533.9 141.2L534.7 141L535.5 140L536.3 138.7L537.1 138.4L537.9 137.1L538.7 136.2L539.5 135.7L540.3 134.7L541.1 134.2L541.9 133.9L542.7 133L543.5 132.3L544.3 131.3L545.1 131L545.9 130.3L546.7 129.4L547.5 128.8L548.3 127.9L549.1 126.8L549.9 125.8L550.7 125.4L551.5 124.8L552.3 123.6L553.1 123L553.9 122.4L554.8 121.6L555.6 120.2L556.4 119.9L557.2 118.8L558 118.1L558.8 117.9L559.6 116.9L560.4 116.3L561.2 115.5L562 114.6L562.8 113.8L563.6 113.2L564.4 112.9L565.2 111.9L566 110.9L566.8 110L567.6 109.4L568.4 108.9L569.2 108L570 107.4L570.8 106.7L571.6 105.4L572.4 105.1L573.2 103.8L574 103.7L574.8 102.4L575.6 101.8L576.4 101.6L577.2 100.4L578 99.5L578.8 99.3L579.6 98.4L580.4 97.9L581.2 96.8L582 96.2L582.8 95.9L583.6 94.9L584.4 94.6L585.2 93.3L586 93.2L586.8 92L587.6 91.6L588.4 90.5L589.2 90L590 89.9L590.8 88.8L591.6 88.4L592.4 87.2L593.2 86.5L594 85.6L594.8 85.2L595.6 84.8L596.4 83.9L597.2 83.1L598 82.9L598.8 82.2L599.6 81.4L600.4 80.3L601.2 80.1L602 79.3L602.8 79L603.6 77.9L604.4 77.5L605.2 76.8L606 76.1L606.8 75.6L607.6 75.2L608.4 74.8L609.2 73.9L610 73.2L610.8 73.2L611.6 71.9L612.4 71.9L613.2 71.2L614 70.6L614.8 69.9L615.6 69.6L616.4 69.1L617.2 68.3L618 67.8L618.8 66.6L619.6 66.2L620.4 65.4L621.2 65.5L622 64.8L622.8 63.6L623.6 63.3L624.4 62.7L625.2 61.6L626 61.3L626.8 60.9L627.6 60.2L628.4 59.3L629.2 59.1L630 58.1L630.8 57.7L631.6 57.1L632.4 57.1L633.2 56.3L634.1 55.9L634.9 55.3L635.7 54.5L636.5 54.3L637.3 53.5L638.1 52.8L638.9 51.8L639.7 51.1L640.5 50.8L641.3 50.4L642.1 49.7L642.9 48.7L643.7 47.9L644.5 47.6L645.3 47.3L646.1 46.2L646.9 46.1L647.7 45.1L648.5 44.7L649.3 43.9L650.1 43.5L650.9 43L651.7 42.9L652.5 42.3L653.3 41.2L654.1 40.8L654.9 40.8L655.7 39.7L656.5 39.3L657.3 38.9L658.1 38.1L658.9 37.8L659.7 37.5L660.5 37.1L661.3 37.1L662.1 36.1L662.9 35.7L663.7 35.9L664.5 35.2L665.3 35.2L666.1 34.7L666.9 34.4L667.7 33.8L668.5 33.4L669.3 33.7L670.1 33.2L670.9 33L671.7 32.9L672.5 32.7L672.5 37L671.7 38L670.9 39.4L670.1 39.9L669.3 40.9L668.5 41.1L667.7 41.8L666.9 42.7L666.1 43.5L665.3 45.1L664.5 45.8L663.7 46.7L662.9 47.4L662.1 48.3L661.3 49.3L660.5 49.8L659.7 49.9L658.9 50.8L658.1 51.1L657.3 51.4L656.5 51.8L655.7 52.6L654.9 52.7L654.1 53.6L653.3 54L652.5 54.5L651.7 54.7L650.9 54.9L650.1 55.3L649.3 56.2L648.5 56.8L647.7 57.4L646.9 57.6L646.1 57.6L645.3 58.4L644.5 59.2L643.7 59.5L642.9 60.1L642.1 60.3L641.3 60.7L640.5 61.1L639.7 62.3L638.9 62.6L638.1 63.3L637.3 63.3L636.5 63.8L635.7 64.2L634.9 64.8L634.1 65.6L633.2 66.1L632.4 67.1L631.6 67.9L630.8 68.8L630 69.6L629.2 69.8L628.4 70.9L627.6 71.5L626.8 72.1L626 72.6L625.2 73.7L624.4 74.4L623.6 75L622.8 75.9L622 76.4L621.2 77L620.4 77.5L619.6 78.2L618.8 79L618 79.9L617.2 80.2L616.4 81.2L615.6 81.1L614.8 82.2L614 82.4L613.2 83.2L612.4 83.7L611.6 84.4L610.8 85.6L610 86L609.2 86.7L608.4 87.4L607.6 88L606.8 88.5L606 89.2L605.2 90.3L604.4 90.8L603.6 91.5L602.8 92.6L602 92.7L601.2 94L600.4 94.4L599.6 94.9L598.8 95.6L598 96.9L597.2 97.1L596.4 98.3L595.6 98.8L594.8 99.7L594 100.4L593.2 100.9L592.4 101.9L591.6 102.7L590.8 102.8L590 104.1L589.2 104.2L588.4 105.1L587.6 105.9L586.8 106.9L586 107.4L585.2 108.3L584.4 108.6L583.6 109.8L582.8 110.2L582 110.5L581.2 111.8L580.4 111.9L579.6 112.7L578.8 113L578 113.4L577.2 114.2L576.4 115.2L575.6 115.7L574.8 116.3L574 116.9L573.2 117.2L572.4 118.1L571.6 119.2L570.8 119.7L570 120.2L569.2 120.8L568.4 121.5L567.6 122.6L566.8 122.7L566 123.6L565.2 124.2L564.4 125L563.6 125.6L562.8 126.3L562 127.4L561.2 127.9L560.4 128.7L559.6 129.9L558.8 130.1L558 130.9L557.2 131.6L556.4 132.8L555.6 133.3L554.8 134.1L553.9 134.7L553.1 135.4L552.3 136L551.5 137L550.7 137.8L549.9 138.9L549.1 139.4L548.3 140.3L547.5 140.4L546.7 141.4L545.9 142.2L545.1 143L544.3 143.5L543.5 144.8L542.7 145.4L541.9 145.8L541.1 146.9L540.3 147.7L539.5 148.3L538.7 149L537.9 150.3L537.1 150.9L536.3 151.9L535.5 152.8L534.7 153.5L533.9 154.6L533.1 155.8L532.3 156.9L531.5 157.2L530.7 158.4L529.9 159.1L529.1 159.9L528.3 161L527.5 162.3L526.7 163L525.9 163.9L525.1 164.3L524.3 165.7L523.5 166.4L522.7 167.2L521.9 168.9L521.1 169.3L520.3 170.7L519.5 171.3L518.7 172.5L517.9 173.2L517.1 173.4L516.3 174.4L515.5 175 Z" fill="#40E0D0"/>
<path d="M514.7 166.6a2.3 2.3 0 1 0 4.6 0a2.3 2.3 0 1 0 -4.6 0M512.2 172.3a2.3 2.3 0 1 0 4.6 0a2.3 2.3 0 1 0 -4.6 0M517.7 163a2.3 2.3 0 1 0 4.6 0a2.3 2.3 0 1 0 -4.6 0M513.1 170.9a2.3 2.3 0 1 0 4.6 0a2.3 2.3 0 1 0 -4.6 0M519.7 160.4a2.3 2.3 0 1 0 4.6 0a2.3 2.3 0 1 0 -4.6 0M514.3 169.4a2.3 2.3 0 1 0 4.6 0a2.3 2.3 0 1 0 -4.6 0M521.4 157.7a2.3 2.3 0 1 0 4.6 0a2.3 2.3 0 1 0 -4.6 0M516.6 167.2a2.3 2.3 0 1 0 4.6 0a2.3 2.3 0 1 0 -4.6 0M524 155.5a2.3 2.3 0 1 0 4.6 0a2.3 2.3 0 1 0 -4.6 0M518.6 165a2.3 2.3 0 1 0 4.6 0a2.3 2.3 0 1 0 -4.6 0M526.2 153.3a2.3 2.3 0 1 0 4.6 0a2.3 2.3 0 1 0 -4.6 0M521 162.7a2.3 2.3 0 1 0 4.6 0a2.3 2.3 0 1 0 -4.6 0M527.4 150.3a2.3 2.3 0 1 0 4.6 0a2.3 2.3 0 1 0 -4.6 0M522.7 160.2a2.3 2.3 0 1 0 4.6 0a2.3 2.3 0 1 0 -4.6 0M530 148.4a2.3 2.3 0 1 0 4.6 0a2.3 2.3 0 1 0 -4.6 0M524.4 157.9a2.3 2.3 0 1 0 4.6 0a2.3 2.3 0 1 0 -4.6 0M531.7 146.2a2.3 2.3 0 1 0 4.6 0a2.3 2.3 0 1 0 -4.6 0M526.6 155.7a2.3 2.3 0 1 0 4.6 0a2.3 2.3 0 1 0 -4.6 0M534.1 144a2.3 2.3 0 1 0 4.6 0a2.3 2.3 0 1 0 -4.6 0M528.9 153.6a2.3 2.3 0 1 0 4.6 0a2.3 2.3 0 1 0 -4.6 0M535.9 141.7a2.3 2.3 0 1 0 4.6 0a2.3 2.3 0 1 0 -4.6 0M531.1 151.4a2.3 2.3 0 1 0 4.6 0a2.3 2.3 0 1 0 -4.6 0M537.5 139.7a2.3 2.3 0 1 0 4.6 0a2.3 2.3 0 1 0 -4.6 0M533.1 149.1a2.3 2.3 0 1 0 4.6 0a2.3 2.3 0 1 0 -4.6 0M539.4 137.5a2.3 2.3 0 1 0 4.6 0a2.3 2.3 0 1 0 -4.6 0M534.6 146.4a2.3 2.3 0 1 0 4.6 0a2.3 2.3 0 1 0 -4.6 0M541.7 136.1a2.3 2.3 0 1 0 4.6 0a2.3 2.3 0 1 0 -4.6 0M536.9 144.8a2.3 2.3 0 1 0 4.6 0a2.3 2.3 0 1 0 -4.6 0M544 134.7a2.3 2.3 0 1 0 4.6 0a2.3 2.3 0 1 0 -4.6 0M538.9 142.9a2.3 2.3 0 1 0 4.6 0a2.3 2.3 0 1 0 -4.6 0M545.6 132.3a2.3 2.3 0 1 0 4.6 0a2.3 2.3 0 1 0 -4.6 0M541.1 140.9a2.3 2.3 0 1 0 4.6 0a2.3 2.3 0 1 0 -4.6 0M548.1 130.8a2.3 2.3 0 1 0 4.6 0a2.3 2.3 0 1 0 -4.6 0M542.4 138.4a2.3 2.3 0 1 0 4.6 0a2.3 2.3 0 1 0 -4.6 0M549.1 128.2a2.3 2.3 0 1 0 4.6 0a2.3 2.3 0 1 0 -4.6 0M544.4 136.7a2.3 2.3 0 1 0 4.6 0a2.3 2.3 0 1 0 -4.6 0M552.1 126.9a2.3 2.3 0 1 0 4.6 0a2.3 2.3 0 1 0 -4.6 0M547.3 135.3a2.3 2.3 0 1 0 4.6 0a2.3 2.3 0 1 0 -4.6 0M553.4 124.3a2.3 2.3 0 1 0 4.6 0a2.3 2.3 0 1 0 -4.6 0M549.3 133.5a2.3 2.3 0 1 0 4.6 0a2.3 2.3 0 1 0 -4.6 0M556.1 123a2.3 2.3 0 1 0 4.6 0a2.3 2.3 0 1 0 -4.6 0M551.4 131.7a2.3 2.3 0 1 0 4.6 0a2.3 2.3 0 1 0 -4.6 0M557.8 121a2.3 2.3 0 1 0 4.6 0a2.3 2.3 0 1 0 -4.6 0M552.9 129.5a2.3 2.3 0 1 0 4.6 0a2.3 2.3 0 1 0 -4.6 0M559.8 119.2a2.3 2.3 0 1 0 4.6 0a2.3 2.3 0 1 0 -4.6 0M554.9 128a2.3 2.3 0 1 0 4.6 0a2.3 2.3 0 1 0 -4.6 0M561.5 117.3a2.3 2.3 0 1 0 4.6 0a2.3 2.3 0 1 0 -4.6 0M556.6 125.9a2.3 2.3 0 1 0 4.6 0a2.3 2.3 0 1 0 -4.6 0M563.4 115.6a2.3 2.3 0 1 0 4.6 0a2.3 2.3 0 1 0 -4.6 0M558.8 123.7a2.3 2.3 0 1 0 4.6 0a2.3 2.3 0 1 0 -4.6 0M565.3 113.5a2.3 2.3 0 1 0 4.6 0a2.3 2.3 0 1 0 -4.6 0M560.6 121.9a2.3 2.3 0 1 0 4.6 0a2.3 2.3 0 1 0 -4.6 0M567.3 111.6a2.3 2.3 0 1 0 4.6 0a2.3 2.3 0 1 0 -4.6 0M562.6 119.9a2.3 2.3 0 1 0 4.6 0a2.3 2.3 0 1 0 -4.6 0M569.2 109.6a2.3 2.3 0 1 0 4.6 0a2.3 2.3 0 1 0 -4.6 0M565 118.4a2.3 2.3 0 1 0 4.6 0a2.3 2.3 0 1 0 -4.6 0M571.6 108.1a2.3 2.3 0 1 0 4.6 0a2.3 2.3 0 1 0 -4.6 0M566.9 116.9a2.3 2.3 0 1 0 4.6 0a2.3 2.3 0 1 0 -4.6 0M573.6 106.1a2.3 2.3 0 1 0 4.6 0a2.3 2.3 0 1 0 -4.6 0M569.1 115a2.3 2.3 0 1 0 4.6 0a2.3 2.3 0 1 0 -4.6 0M575.4 104.3a2.3 2.3 0 1 0 4.6 0a2.3 2.3 0 1 0 -4.6 0M571.2 113.6a2.3 2.3 0 1 0 4.6 0a2.3 2.3 0 1 0 -4.6 0M577.7 102.4a2.3 2.3 0 1 0 4.6 0a2.3 2.3 0 1 0 -4.6 0M573.2 111.7a2.3 2.3 0 1 0 4.6 0a2.3 2.3 0 1 0 -4.6 0M579.5 100.4a2.3 2.3 0 1 0 4.6 0a2.3 2.3 0 1 0 -4.6 0M575.4 110.2a2.3 2.3 0 1 0 4.6 0a2.3 2.3 0 1 0 -4.6 0M581.8 99a2.3 2.3 0 1 0 4.6 0a2.3 2.3 0 1 0 -4.6 0M576.9 108.7a2.3 2.3 0 1 0 4.6 0a2.3 2.3 0 1 0 -4.6 0M583.3 97.3a2.3 2.3 0 1 0 4.6 0a2.3 2.3 0 1 0 -4.6 0M579 107.2a2.3 2.3 0 1 0 4.6 0a2.3 2.3 0 1 0 -4.6 0M585.6 95.4a2.3 2.3 0 1 0 4.6 0a2.3 2.3 0 1 0 -4.6 0M581.4 105.8a2.3 2.3 0 1 0 4.6 0a2.3 2.3 0 1 0 -4.6 0M587.5 93.8a2.3 2.3 0 1 0 4.6 0a2.3 2.3 0 1 0 -4.6 0M583 104a2.3 2.3 0 1 0 4.6 0a2.3 2.3 0 1 0 -4.6 0M589.2 92a2.3 2.3 0 1 0 4.6 0a2.3 2.3 0 1 0 -4.6 0M585.2 102.4a2.3 2.3 0 1 0 4.6 0a2.3 2.3 0 1 0 -4.6 0M592 90.7a2.3 2.3 0 1 0 4.6 0a2.3 2.3 0 1 0 -4.6 0M586.8 100a2.3 2.3 0 1 0 4.6 0a2.3 2.3 0 1 0 -4.6 0M594.1 88.7a2.3 2.3 0 1 0 4.6 0a2.3 2.3 0 1 0 -4.6 0M588.6 98.4a2.3 2.3 0 1 0 4.6 0a2.3 2.3 0 1 0 -4.6 0M595.2 86.6a2.3 2.3 0 1 0 4.6 0a2.3 2.3 0 1 0 -4.6 0M591 97.3a2.3 2.3 0 1 0 4.6 0a2.3 2.3 0 1 0 -4.6 0M597.9 85.5a2.3 2.3 0 1 0 4.6 0a2.3 2.3 0 1 0 -4.6 0M593.1 95.2a2.3 2.3 0 1 0 4.6 0a2.3 2.3 0 1 0 -4.6 0M599.8 83.8a2.3 2.3 0 1 0 4.6 0a2.3 2.3 0 1 0 -4.6 0M594.6 93a2.3 2.3 0 1 0 4.6 0a2.3 2.3 0 1 0 -4.6 0M601.3 81.6a2.3 2.3 0 1 0 4.6 0a2.3 2.3 0 1 0 -4.6 0M597.1 91.5a2.3 2.3 0 1 0 4.6 0a2.3 2.3 0 1 0 -4.6 0M603.3 80.2a2.3 2.3 0 1 0 4.6 0a2.3 2.3 0 1 0 -4.6 0M598.3 89.1a2.3 2.3 0 1 0 4.6 0a2.3 2.3 0 1 0 -4.6 0M605.3 78.9a2.3 2.3 0 1 0 4.6 0a2.3 2.3 0 1 0 -4.6 0M601.2 87.6a2.3 2.3 0 1 0 4.6 0a2.3 2.3 0 1 0 -4.6 0M607.4 77.4a2.3 2.3 0 1 0 4.6 0a2.3 2.3 0 1 0 -4.6 0M603.1 85.8a2.3 2.3 0 1 0 4.6 0a2.3 2.3 0 1 0 -4.6 0M608.8 75.7a2.3 2.3 0 1 0 4.6 0a2.3 2.3 0 1 0 -4.6 0M605.4 84.5a2.3 2.3 0 1 0 4.6 0a2.3 2.3 0 1 0 -4.6 0M610.7 74.2a2.3 2.3 0 1 0 4.6 0a2.3 2.3 0 1 0 -4.6 0M607.1 82.5a2.3 2.3 0 1 0 4.6 0a2.3 2.3 0 1 0 -4.6 0M613 73a2.3 2.3 0 1 0 4.6 0a2.3 2.3 0 1 0 -4.6 0M609 80.8a2.3 2.3 0 1 0 4.6 0a2.3 2.3 0 1 0 -4.6 0M615.6 72a2.3 2.3 0 1 0 4.6 0a2.3 2.3 0 1 0 -4.6 0M611.1 79.5a2.3 2.3 0 1 0 4.6 0a2.3 2.3 0 1 0 -4.6 0M617.1 69.8a2.3 2.3 0 1 0 4.6 0a2.3 2.3 0 1 0 -4.6 0M613.1 78a2.3 2.3 0 1 0 4.6 0a2.3 2.3 0 1 0 -4.6 0M619.7 69.1a2.3 2.3 0 1 0 4.6 0a2.3 2.3 0 1 0 -4.6 0M615.1 76.2a2.3 2.3 0 1 0 4.6 0a2.3 2.3 0 1 0 -4.6 0M621.5 67.2a2.3 2.3 0 1 0 4.6 0a2.3 2.3 0 1 0 -4.6 0M616.8 74.8a2.3 2.3 0 1 0 4.6 0a2.3 2.3 0 1 0 -4.6 0M622.8 65.2a2.3 2.3 0 1 0 4.6 0a2.3 2.3 0 1 0 -4.6 0M618.8 73a2.3 2.3 0 1 0 4.6 0a2.3 2.3 0 1 0 -4.6 0M625.1 63.7a2.3 2.3 0 1 0 4.6 0a2.3 2.3 0 1 0 -4.6 0M620.7 70.8a2.3 2.3 0 1 0 4.6 0a2.3 2.3 0 1 0 -4.6 0M627.4 62.2a2.3 2.3 0 1 0 4.6 0a2.3 2.3 0 1 0 -4.6 0M622.9 69.7a2.3 2.3 0 1 0 4.6 0a2.3 2.3 0 1 0 -4.6 0M629.1 60.7a2.3 2.3 0 1 0 4.6 0a2.3 2.3 0 1 0 -4.6 0M624.7 67.5a2.3 2.3 0 1 0 4.6 0a2.3 2.3 0 1 0 -4.6 0M630.9 59.9a2.3 2.3 0 1 0 4.6 0a2.3 2.3 0 1 0 -4.6 0M626.5 65.6a2.3 2.3 0 1 0 4.6 0a2.3 2.3 0 1 0 -4.6 0M633 58.8a2.3 2.3 0 1 0 4.6 0a2.3 2.3 0 1 0 -4.6 0M628.5 63.9a2.3 2.3 0 1 0 4.6 0a2.3 2.3 0 1 0 -4.6 0M635.7 57.2a2.3 2.3 0 1 0 4.6 0a2.3 2.3 0 1 0 -4.6 0M631 62.1a2.3 2.3 0 1 0 4.6 0a2.3 2.3 0 1 0 -4.6 0M636.8 54.9a2.3 2.3 0 1 0 4.6 0a2.3 2.3 0 1 0 -4.6 0M632.8 60.5a2.3 2.3 0 1 0 4.6 0a2.3 2.3 0 1 0 -4.6 0M639.5 53.9a2.3 2.3 0 1 0 4.6 0a2.3 2.3 0 1 0 -4.6 0M635.1 59.4a2.3 2.3 0 1 0 4.6 0a2.3 2.3 0 1 0 -4.6 0M640.9 51.8a2.3 2.3 0 1 0 4.6 0a2.3 2.3 0 1 0 -4.6 0M637 57.8a2.3 2.3 0 1 0 4.6 0a2.3 2.3 0 1 0 -4.6 0M643.5 50.7a2.3 2.3 0 1 0 4.6 0a2.3 2.3 0 1 0 -4.6 0M639.3 57.3a2.3 2.3 0 1 0 4.6 0a2.3 2.3 0 1 0 -4.6 0M645.1 48.8a2.3 2.3 0 1 0 4.6 0a2.3 2.3 0 1 0 -4.6 0M641.9 56.2a2.3 2.3 0 1 0 4.6 0a2.3 2.3 0 1 0 -4.6 0M647.2 47.7a2.3 2.3 0 1 0 4.6 0a2.3 2.3 0 1 0 -4.6 0M643.8 55a2.3 2.3 0 1 0 4.6 0a2.3 2.3 0 1 0 -4.6 0M649 46.2a2.3 2.3 0 1 0 4.6 0a2.3 2.3 0 1 0 -4.6 0M645.2 53.4a2.3 2.3 0 1 0 4.6 0a2.3 2.3 0 1 0 -4.6 0M651.2 44.7a2.3 2.3 0 1 0 4.6 0a2.3 2.3 0 1 0 -4.6 0M647.5 52.5a2.3 2.3 0 1 0 4.6 0a2.3 2.3 0 1 0 -4.6 0M653 44a2.3 2.3 0 1 0 4.6 0a2.3 2.3 0 1 0 -4.6 0M649.6 51.3a2.3 2.3 0 1 0 4.6 0a2.3 2.3 0 1 0 -4.6 0M654.9 42.4a2.3 2.3 0 1 0 4.6 0a2.3 2.3 0 1 0 -4.6 0M651.6 49.9a2.3 2.3 0 1 0 4.6 0a2.3 2.3 0 1 0 -4.6 0M656.9 41.6a2.3 2.3 0 1 0 4.6 0a2.3 2.3 0 1 0 -4.6 0M653.7 48.9a2.3 2.3 0 1 0 4.6 0a2.3 2.3 0 1 0 -4.6 0M658.4 40a2.3 2.3 0 1 0 4.6 0a2.3 2.3 0 1 0 -4.6 0M654.9 48.1a2.3 2.3 0 1 0 4.6 0a2.3 2.3 0 1 0 -4.6 0M660.9 39.1a2.3 2.3 0 1 0 4.6 0a2.3 2.3 0 1 0 -4.6 0M657.1 46.9a2.3 2.3 0 1 0 4.6 0a2.3 2.3 0 1 0 -4.6 0M662.4 38.3a2.3 2.3 0 1 0 4.6 0a2.3 2.3 0 1 0 -4.6 0M658.8 45.1a2.3 2.3 0 1 0 4.6 0a2.3 2.3 0 1 0 -4.6 0M664.2 37.1a2.3 2.3 0 1 0 4.6 0a2.3 2.3 0 1 0 -4.6 0M660.7 42.8a2.3 2.3 0 1 0 4.6 0a2.3 2.3 0 1 0 -4.6 0M666.4 37.3a2.3 2.3 0 1 0 4.6 0a2.3 2.3 0 1 0 -4.6 0M663 40.6a2.3 2.3 0 1 0 4.6 0a2.3 2.3 0 1 0 -4.6 0M668.3 36.5a2.3 2.3 0 1 0 4.6 0a2.3 2.3 0 1 0 -4.6 0M665 38.2a2.3 2.3 0 1 0 4.6 0a2.3 2.3 0 1 0 -4.6 0M670 36.1a2.3 2.3 0 1 0 4.6 0a2.3 2.3 0 1 0 -4.6 0M666.1 36.6a2.3 2.3 0 1 0 4.6 0a2.3 2.3 0 1 0 -4.6 0M514.9 168.5a2.3 2.3 0 1 0 4.6 0a2.3 2.3 0 1 0 -4.6 0M668.6 37.3a2.3 2.3 0 1 0 4.6 0a2.3 2.3 0 1 0 -4.6 0" stroke="#40E0D0" stroke-width="1.25" fill="none"/>
<path d="M515.5 165.9L516.3 164.7L517.1 164L517.9 162.3L518.7 161.1L519.5 160.2L520.3 159.6L521.1 158.3L521.9 157.5L522.7 156L523.5 155.3L524.3 154.2L525.1 153.1L525.9 152.4L526.7 151.2L527.5 150L528.3 149.7L529.1 148.4L529.9 147.3L530.7 146.2L531.5 145.9L532.3 144.9L533.1 143.6L533.9 143L534.7 142.3L535.5 141.3L536.3 140.2L537.1 139.5L537.9 138.8L538.7 138L539.5 136.7L540.3 136.5L541.1 135.8L541.9 134.9L542.7 134.3L543.5 133.1L544.3 132.8L545.1 131.5L545.9 130.8L546.7 130.3L547.5 129.8L548.3 128.3L549.1 127.7L549.9 126.7L550.7 126.3L551.5 125.2L552.3 124.5L553.1 124.1L553.9 123.2L554.8 122.7L555.6 121.5L556.4 121L557.2 119.8L558 119.8L558.8 118.5L559.6 117.9L560.4 117.2L561.2 116.9L562 115.8L562.8 115.4L563.6 114.4L564.4 113.3L565.2 113.1L566 111.8L566.8 111.7L567.6 110.5L568.4 109.6L569.2 109.4L570 108.1L570.8 107.4L571.6 106.6L572.4 106.1L573.2 104.8L574 104.3L574.8 103.4L575.6 103.2L576.4 101.8L577.2 101.6L578 100.6L578.8 100L579.6 99.4L580.4 98.8L581.2 97.6L582 97L582.8 96.2L583.6 96.3L584.4 94.9L585.2 94.3L586 93.9L586.8 93.3L587.6 92.9L588.4 91.5L589.2 91L590 90.3L590.8 89.9L591.6 89.1L592.4 88.3L593.2 88L594 87L594.8 86.5L595.6 85.9L596.4 84.7L597.2 84.6L598 83.5L598.8 82.6L599.6 82.6L600.4 81.3L601.2 80.6L602 80.1L602.8 79.5L603.6 79.4L604.4 78.6L605.2 77.7L606 77.2L606.8 76.8L607.6 76.2L608.4 75.5L609.2 74.8L610 73.9L610.8 73.4L611.6 73.1L612.4 72.5L613.2 72.1L614 71.6L614.8 71L615.6 69.8L616.4 69L617.2 68.9L618 68L618.8 66.9L619.6 66.7L620.4 65.6L621.2 65L622 64.5L622.8 63.9L623.6 63.4L624.4 62.3L625.2 62.2L626 61.5L626.8 60.7L627.6 60.3L628.4 59.7L629.2 58.5L630 58.2L630.8 57.9L631.6 57.4L632.4 56.8L633.2 55.9L634.1 56.1L634.9 55.4L635.7 54.3L636.5 53.9L637.3 53.7L638.1 52.4L638.9 51.9L639.7 51.7L640.5 51.1L641.3 49.9L642.1 49.7L642.9 48.7L643.7 48.3L644.5 47.8L645.3 46.8L646.1 46.3L646.9 45.7L647.7 45.2L648.5 44.4L649.3 44L650.1 43.6L650.9 43L651.7 42.2L652.5 42L653.3 41.8L654.1 41L654.9 40.3L655.7 40.1L656.5 39.4L657.3 38.7L658.1 38.4L658.9 37.6L659.7 37.7L660.5 36.9L661.3 36.6L662.1 36.6L662.9 36.1L663.7 35.9L664.5 35.3L665.3 35L666.1 34.7L666.9 34.6L667.7 33.7L668.5 33.9L669.3 33.3L670.1 33L670.9 33.2L671.7 32.8L672.5 32.8L672.5 34.4L671.7 35.6L670.9 36.3L670.1 37.7L669.3 38L668.5 38.4L667.7 39.1L666.9 40.1L666.1 40.9L665.3 41.4L664.5 41.7L663.7 42.8L662.9 43.4L662.1 43.6L661.3 44.7L660.5 44.7L659.7 45.7L658.9 46.5L658.1 47.1L657.3 47.6L656.5 47.7L655.7 48.7L654.9 48.6L654.1 49.7L653.3 50.2L652.5 50.2L651.7 50.7L650.9 51.4L650.1 52L649.3 52.2L648.5 52.5L647.7 53.4L646.9 53.6L646.1 54.2L645.3 54.9L644.5 55.8L643.7 56.5L642.9 56.4L642.1 57.5L641.3 58.2L640.5 58.6L639.7 59.1L638.9 59.4L638.1 60.5L637.3 61.1L636.5 61.1L635.7 62L634.9 62.9L634.1 63.7L633.2 64.3L632.4 65L631.6 65.2L630.8 66.3L630 67.2L629.2 67.1L628.4 68.5L627.6 68.9L626.8 69.8L626 70.2L625.2 70.6L624.4 71.2L623.6 72.4L622.8 72.9L622 73.3L621.2 74.1L620.4 75L619.6 75.1L618.8 75.8L618 77.4L617.2 78L616.4 78.4L615.6 79.4L614.8 80.4L614 80.7L613.2 81.2L612.4 82L611.6 83.1L610.8 83.9L610 84.3L609.2 85.1L608.4 86L607.6 86.9L606.8 87.7L606 88.1L605.2 89.2L604.4 89.7L603.6 90.5L602.8 91.5L602 92.2L601.2 92.5L600.4 93.4L599.6 94L598.8 95L598 95.6L597.2 96.4L596.4 97.4L595.6 98.1L594.8 98.6L594 99L593.2 99.6L592.4 101L591.6 101.4L590.8 102.4L590 103.1L589.2 103.4L588.4 104.5L587.6 104.7L586.8 105.7L586 106.4L585.2 106.7L584.4 107.3L583.6 108.2L582.8 108.8L582 109.5L581.2 110.7L580.4 111.3L579.6 111.8L578.8 112.1L578 112.9L577.2 113.6L576.4 113.6L575.6 114.4L574.8 114.9L574 115.6L573.2 116.6L572.4 117.4L571.6 117.7L570.8 118.9L570 119.1L569.2 119.9L568.4 120.7L567.6 121.5L566.8 122.3L566 122.6L565.2 123.8L564.4 124.1L563.6 125.2L562.8 126L562 126.3L561.2 127L560.4 128.2L559.6 128.8L558.8 129.1L558 129.9L557.2 130.7L556.4 131.8L555.6 132.2L554.8 133.4L553.9 133.5L553.1 134.3L552.3 135.4L551.5 135.8L550.7 136.8L549.9 137.3L549.1 138.4L548.3 139.2L547.5 139.5L546.7 140L545.9 141.3L545.1 141.7L544.3 142.5L543.5 142.8L542.7 143.4L541.9 144.5L541.1 144.8L540.3 145.5L539.5 146.7L538.7 147.4L537.9 148.2L537.1 149L536.3 149.6L535.5 150.2L534.7 151.1L533.9 152L533.1 152.7L532.3 153.7L531.5 154.7L530.7 154.9L529.9 155.8L529.1 157.3L528.3 158.2L527.5 158.3L526.7 159.4L525.9 160.6L525.1 161.4L524.3 162.5L523.5 162.8L522.7 164.2L521.9 165.3L521.1 166.2L520.3 167L519.5 167.5L518.7 168.4L517.9 169.6L517.1 170L516.3 170.2L515.5 170.5 Z" fill="#FFA500"/>
<path d="M516 167l2.9 2.9m0 -2.9l-2.9 2.9M513.2 166.8l2.9 2.9m0 -2.9l-2.9 2.9M518 163.2l2.9 2.9m0 -2.9l-2.9 2.9M514.1 166.3l2.9 2.9m0 -2.9l-2.9 2.9M519.6 160.9l2.9 2.9m0 -2.9l-2.9 2.9M515.8 165.3l2.9 2.9m0 -2.9l-2.9 2.9M521.5 158.8l2.9 2.9m0 -2.9l-2.9 2.9M516.7 163.3l2.9 2.9m0 -2.9l-2.9 2.9M523.3 156.6l2.9 2.9m0 -2.9l-2.9 2.9M518.6 161.3l2.9 2.9m0 -2.9l-2.9 2.9M525.3 154.8l2.9 2.9m0 -2.9l-2.9 2.9M519.9 159.2l2.9 2.9m0 -2.9l-2.9 2.9M526.7 152.6l2.9 2.9m0 -2.9l-2.9 2.9M521.6 157.3l2.9 2.9m0 -2.9l-2.9 2.9M528.3 150.4l2.9 2.9m0 -2.9l-2.9 2.9M523.4 155.5l2.9 2.9m0 -2.9l-2.9 2.9M530.4 148.8l2.9 2.9m0 -2.9l-2.9 2.9M524.9 153.7l2.9 2.9m0 -2.9l-2.9 2.9M532.1 146.9l2.9 2.9m0 -2.9l-2.9 2.9M527.1 152l2.9 2.9m0 -2.9l-2.9 2.9M533.2 144.4l2.9 2.9m0 -2.9l-2.9 2.9M528.8 150.3l2.9 2.9m0 -2.9l-2.9 2.9M535.1 142.7l2.9 2.9m0 -2.9l-2.9 2.9M530.5 148.3l2.9 2.9m0 -2.9l-2.9 2.9M536.4 140.7l2.9 2.9m0 -2.9l-2.9 2.9M532.2 146.9l2.9 2.9m0 -2.9l-2.9 2.9M537.9 139.1l2.9 2.9m0 -2.9l-2.9 2.9M533.7 144.8l2.9 2.9m0 -2.9l-2.9 2.9M539.5 137.1l2.9 2.9m0 -2.9l-2.9 2.9M535.4 143.2l2.9 2.9m0 -2.9l-2.9 2.9M541.5 135.9l2.9 2.9m0 -2.9l-2.9 2.9M537.7 141.5l2.9 2.9m0 -2.9l-2.9 2.9M543.3 134.2l2.9 2.9m0 -2.9l-2.9 2.9M539 140.1l2.9 2.9m0 -2.9l-2.9 2.9M545.5 133.1l2.9 2.9m0 -2.9l-2.9 2.9M541.4 139.2l2.9 2.9m0 -2.9l-2.9 2.9M546.6 131.2l2.9 2.9m0 -2.9l-2.9 2.9M542.8 137.6l2.9 2.9m0 -2.9l-2.9 2.9M548.5 129.4l2.9 2.9m0 -2.9l-2.9 2.9M544.6 136.2l2.9 2.9m0 -2.9l-2.9 2.9M550.1 127.9l2.9 2.9m0 -2.9l-2.9 2.9M546 134.7l2.9 2.9m0 -2.9l-2.9 2.9M552.4 126.4l2.9 2.9m0 -2.9l-2.9 2.9M548.2 133.4l2.9 2.9m0 -2.9l-2.9 2.9M553.3 124l2.9 2.9m0 -2.9l-2.9 2.9M549.6 131.6l2.9 2.9m0 -2.9l-2.9 2.9M555 122.7l2.9 2.9m0 -2.9l-2.9 2.9M551.3 130l2.9 2.9m0 -2.9l-2.9 2.9M557 121.5l2.9 2.9m0 -2.9l-2.9 2.9M553.1 128.7l2.9 2.9m0 -2.9l-2.9 2.9M558.7 119.9l2.9 2.9m0 -2.9l-2.9 2.9M554.5 126.6l2.9 2.9m0 -2.9l-2.9 2.9M560.2 118.1l2.9 2.9m0 -2.9l-2.9 2.9M556.3 125.1l2.9 2.9m0 -2.9l-2.9 2.9M561.7 116.3l2.9 2.9m0 -2.9l-2.9 2.9M558.1 123.9l2.9 2.9m0 -2.9l-2.9 2.9M563.5 114.8l2.9 2.9m0 -2.9l-2.9 2.9M559.7 122.2l2.9 2.9m0 -2.9l-2.9 2.9M565.4 113.2l2.9 2.9m0 -2.9l-2.9 2.9M561 120.2l2.9 2.9m0 -2.9l-2.9 2.9M567.2 112.1l2.9 2.9m0 -2.9l-2.9 2.9M562.8 118.7l2.9 2.9m0 -2.9l-2.9 2.9M569.3 110.4l2.9 2.9m0 -2.9l-2.9 2.9M565.1 117.7l2.9 2.9m0 -2.9l-2.9 2.9M570 108.3l2.9 2.9m0 -2.9l-2.9 2.9M566.7 116.1l2.9 2.9m0 -2.9l-2.9 2.9M572.8 107.3l2.9 2.9m0 -2.9l-2.9 2.9M568.4 114.6l2.9 2.9m0 -2.9l-2.9 2.9M573.8 105.4l2.9 2.9m0 -2.9l-2.9 2.9M569.9 113l2.9 2.9m0 -2.9l-2.9 2.9M575.6 103.7l2.9 2.9m0 -2.9l-2.9 2.9M571.7 111.7l2.9 2.9m0 -2.9l-2.9 2.9M577.2 102.2l2.9 2.9m0 -2.9l-2.9 2.9M573.3 110.3l2.9 2.9m0 -2.9l-2.9 2.9M578.5 100.3l2.9 2.9m0 -2.9l-2.9 2.9M575.2 108.8l2.9 2.9m0 -2.9l-2.9 2.9M580.4 98.9l2.9 2.9m0 -2.9l-2.9 2.9M576.7 107.8l2.9 2.9m0 -2.9l-2.9 2.9M582.6 97.8l2.9 2.9m0 -2.9l-2.9 2.9M578.6 106.9l2.9 2.9m0 -2.9l-2.9 2.9M584.3 96.5l2.9 2.9m0 -2.9l-2.9 2.9M580 105l2.9 2.9m0 -2.9l-2.9 2.9M585.7 94.7l2.9 2.9m0 -2.9l-2.9 2.9M581.2 103.4l2.9 2.9m0 -2.9l-2.9 2.9M587.7 93.9l2.9 2.9m0 -2.9l-2.9 2.9M583.5 102.6l2.9 2.9m0 -2.9l-2.9 2.9M589.4 92.4l2.9 2.9m0 -2.9l-2.9 2.9M585.4 101l2.9 2.9m0 -2.9l-2.9 2.9M591.3 90.7l2.9 2.9m0 -2.9l-2.9 2.9M587.1 99.4l2.9 2.9m0 -2.9l-2.9 2.9M592.2 88.8l2.9 2.9m0 -2.9l-2.9 2.9M588.7 98.1l2.9 2.9m0 -2.9l-2.9 2.9M594.3 87.6l2.9 2.9m0 -2.9l-2.9 2.9M590.3 96.6l2.9 2.9m0 -2.9l-2.9 2.9M595.4 85.7l2.9 2.9m0 -2.9l-2.9 2.9M592 95l2.9 2.9m0 -2.9l-2.9 2.9M597.3 84.4l2.9 2.9m0 -2.9l-2.9 2.9M593.9 93.3l2.9 2.9m0 -2.9l-2.9 2.9M599.5 83.3l2.9 2.9m0 -2.9l-2.9 2.9M595.1 91.7l2.9 2.9m0 -2.9l-2.9 2.9M600.8 82l2.9 2.9m0 -2.9l-2.9 2.9M597 90.4l2.9 2.9m0 -2.9l-2.9 2.9M603.1 80.7l2.9 2.9m0 -2.9l-2.9 2.9M598.7 88.6l2.9 2.9m0 -2.9l-2.9 2.9M604.2 79.1l2.9 2.9m0 -2.9l-2.9 2.9M600.2 86.8l2.9 2.9m0 -2.9l-2.9 2.9M605.9 77.6l2.9 2.9m0 -2.9l-2.9 2.9M601.7 85.4l2.9 2.9m0 -2.9l-2.9 2.9M608 77l2.9 2.9m0 -2.9l-2.9 2.9M604 84l2.9 2.9m0 -2.9l-2.9 2.9M609.6 75.8l2.9 2.9m0 -2.9l-2.9 2.9M605.4 82.3l2.9 2.9m0 -2.9l-2.9 2.9M611.2 74.2l2.9 2.9m0 -2.9l-2.9 2.9M607.3 80.5l2.9 2.9m0 -2.9l-2.9 2.9M612.4 72.6l2.9 2.9m0 -2.9l-2.9 2.9M608.8 78.9l2.9 2.9m0 -2.9l-2.9 2.9M614.6 71.8l2.9 2.9m0 -2.9l-2.9 2.9M611 77.7l2.9 2.9m0 -2.9l-2.9 2.9M616.3 70.2l2.9 2.9m0 -2.9l-2.9 2.9M612.2 76.3l2.9 2.9m0 -2.9l-2.9 2.9M618.5 69l2.9 2.9m0 -2.9l-2.9 2.9M614.2 74.7l2.9 2.9m0 -2.9l-2.9 2.9M619.7 67.2l2.9 2.9m0 -2.9l-2.9 2.9M616 72.8l2.9 2.9m0 -2.9l-2.9 2.9M621.3 65.8l2.9 2.9m0 -2.9l-2.9 2.9M617.3 70.7l2.9 2.9m0 -2.9l-2.9 2.9M622.9 64.5l2.9 2.9m0 -2.9l-2.9 2.9M619.4 69.7l2.9 2.9m0 -2.9l-2.9 2.9M624.8 63.4l2.9 2.9m0 -2.9l-2.9 2.9M620.9 68.4l2.9 2.9m0 -2.9l-2.9 2.9M626.6 61.7l2.9 2.9m0 -2.9l-2.9 2.9M622.5 66.8l2.9 2.9m0 -2.9l-2.9 2.9M628.2 60.4l2.9 2.9m0 -2.9l-2.9 2.9M624.7 65.7l2.9 2.9m0 -2.9l-2.9 2.9M629.3 58.8l2.9 2.9m0 -2.9l-2.9 2.9M626.5 64.4l2.9 2.9m0 -2.9l-2.9 2.9M630.9 57.8l2.9 2.9m0 -2.9l-2.9 2.9M627.8 63l2.9 2.9m0 -2.9l-2.9 2.9M633.2 57.3l2.9 2.9m0 -2.9l-2.9 2.9M629.3 60.8l2.9 2.9m0 -2.9l-2.9 2.9M635 56l2.9 2.9m0 -2.9l-2.9 2.9M631.6 60l2.9 2.9m0 -2.9l-2.9 2.9M636.4 54.5l2.9 2.9m0 -2.9l-2.9 2.9M633 58l2.9 2.9m0 -2.9l-2.9 2.9M638 53.1l2.9 2.9m0 -2.9l-2.9 2.9M634.5 56.6l2.9 2.9m0 -2.9l-2.9 2.9M640.4 51.9l2.9 2.9m0 -2.9l-2.9 2.9M636.4 56.1l2.9 2.9m0 -2.9l-2.9 2.9M641.2 50.2l2.9 2.9m0 -2.9l-2.9 2.9M638 54.3l2.9 2.9m0 -2.9l-2.9 2.9M643 48.8l2.9 2.9m0 -2.9l-2.9 2.9M640.1 53.5l2.9 2.9m0 -2.9l-2.9 2.9M645.4 48.1l2.9 2.9m0 -2.9l-2.9 2.9M641.9 52.1l2.9 2.9m0 -2.9l-2.9 2.9M646.6 46.7l2.9 2.9m0 -2.9l-2.9 2.9M643.2 51.1l2.9 2.9m0 -2.9l-2.9 2.9M649 46l2.9 2.9m0 -2.9l-2.9 2.9M644.6 49.4l2.9 2.9m0 -2.9l-2.9 2.9M649.7 44.1l2.9 2.9m0 -2.9l-2.9 2.9M647 48.6l2.9 2.9m0 -2.9l-2.9 2.9M651.5 42.8l2.9 2.9m0 -2.9l-2.9 2.9M648.1 47.3l2.9 2.9m0 -2.9l-2.9 2.9M653.5 42l2.9 2.9m0 -2.9l-2.9 2.9M650.1 46.4l2.9 2.9m0 -2.9l-2.9 2.9M655.3 41.4l2.9 2.9m0 -2.9l-2.9 2.9M651.9 45.6l2.9 2.9m0 -2.9l-2.9 2.9M657.2 40.4l2.9 2.9m0 -2.9l-2.9 2.9M653.4 44l2.9 2.9m0 -2.9l-2.9 2.9M657.9 38.6l2.9 2.9m0 -2.9l-2.9 2.9M655.3 43.5l2.9 2.9m0 -2.9l-2.9 2.9M659.9 37.6l2.9 2.9m0 -2.9l-2.9 2.9M656.5 41.9l2.9 2.9m0 -2.9l-2.9 2.9M661.5 36.7l2.9 2.9m0 -2.9l-2.9 2.9M658.5 40.9l2.9 2.9m0 -2.9l-2.9 2.9M663.3 36.5l2.9 2.9m0 -2.9l-2.9 2.9M660.4 39.6l2.9 2.9m0 -2.9l-2.9 2.9M665.3 36.1l2.9 2.9m0 -2.9l-2.9 2.9M661.6 38l2.9 2.9m0 -2.9l-2.9 2.9M666.2 34.8l2.9 2.9m0 -2.9l-2.9 2.9M663.3 36.5l2.9 2.9m0 -2.9l-2.9 2.9M668.1 34.7l2.9 2.9m0 -2.9l-2.9 2.9M664.9 35l2.9 2.9m0 -2.9l-2.9 2.9M669.6 33.7l2.9 2.9m0 -2.9l-2.9 2.9M666.9 34.2l2.9 2.9m0 -2.9l-2.9 2.9M670.5 32.6l2.9 2.9m0 -2.9l-2.9 2.9" stroke="#FFA500" stroke-width="1.55" fill="none"/>
<path d="M671.9 32.7l3.1 3.1m0 -3.1l-3.1 3.1M670 33.5l3.1 3.1m0 -3.1l-3.1 3.1M669.5 32.3l3.1 3.1m0 -3.1l-3.1 3.1M670.8 34.1l3.1 3.1m0 -3.1l-3.1 3.1M670.7 34.2l3.1 3.1m0 -3.1l-3.1 3.1" stroke="#FFA500" stroke-width="1.75" fill="none"/>
<path d="M518.6 160L673.7 24.6" stroke="#000" stroke-width="1.85" stroke-linecap="round" fill="none"/>
</g>
<rect x="511.5" y="19.5" width="172.9" height="154.9" fill="none" stroke="#6e6e6e" stroke-width="1.1"/>
<text transform="translate(561.1 191.9) scale(0.9 1)" text-anchor="middle" class="tk">0.2</text>
<text transform="translate(613.4 191.9) scale(0.9 1)" text-anchor="middle" class="tk">0.25</text>
<text transform="translate(665.7 191.9) scale(0.9 1)" text-anchor="middle" class="tk">0.3</text>
<text transform="translate(505.8 168.7) rotate(-90) scale(0.9 1)" text-anchor="middle" class="tk">0.15</text>
<text transform="translate(505.8 123) rotate(-90) scale(0.9 1)" text-anchor="middle" class="tk">0.2</text>
<text transform="translate(505.8 77.3) rotate(-90) scale(0.9 1)" text-anchor="middle" class="tk">0.25</text>
<text transform="translate(505.8 31.5) rotate(-90) scale(0.9 1)" text-anchor="middle" class="tk">0.3</text>
<text x="549.5" y="208.4" class="ax" style="font-size:17.7px" textLength="82.6" lengthAdjust="spacingAndGlyphs">True values</text>
<text transform="translate(490 152.1) rotate(-90)" class="ax" textLength="116.5" lengthAdjust="spacingAndGlyphs">Predicted values</text>
<text x="474.8" y="14.9" class="lab">(c)</text>
<g class="ti">
<g transform="translate(520.1 47.7) scale(1.0)">
<text x="0" y="0" style="font-size:20px">Tr</text>
<text transform="translate(20.7 1.2) scale(0.8 1)" style="font-size:24px">[</text>
<text x="26.3" y="0.2" class="it" style="font-size:20.5px">&#961;</text>
<text transform="translate(34.8 -8.5) scale(1.28 1)" style="font-size:12.5px">2</text>
<text transform="translate(35.0 4.8) scale(1.17 1)" style="font-size:14px">in</text>
<text transform="translate(47.9 1.2) scale(0.8 1)" style="font-size:24px">]</text>
</g>
</g>
<clipPath id="clip3"><rect x="49.7" y="247.4" width="168.8" height="149.6"/></clipPath>
<path d="M58.3 247.4V397M78.4 247.4V397M98.4 247.4V397M118.5 247.4V397M138.6 247.4V397M158.6 247.4V397M178.7 247.4V397M198.8 247.4V397M49.7 391.3H218.5M49.7 373.1H218.5M49.7 354.9H218.5M49.7 336.8H218.5M49.7 318.6H218.5M49.7 300.4H218.5M49.7 282.2H218.5M49.7 264H218.5" stroke="#b2b2b2" stroke-width="0.8" stroke-dasharray="1.3 1.9" fill="none"/>
<g clip-path="url(#clip3)">
<path d="M68 385.6L68.8 384.3L69.6 382L70.4 379.5L71.2 378.4L72 376.5L72.8 375.9L73.6 374.5L74.4 373.3L75.2 373.2L76 372.4L76.8 372.1L77.7 371.1L78.5 370.2L79.3 369.8L80.1 368.3L80.9 368.1L81.7 366.6L82.5 365.7L83.3 364.6L84.1 364.2L84.9 362.8L85.7 362.1L86.5 360.7L87.3 360.1L88.1 359L88.9 357.7L89.7 357.2L90.5 356.6L91.3 355.3L92.1 354.9L92.9 353.8L93.7 353.1L94.5 352.7L95.3 351.9L96.2 351.1L97 349.8L97.8 349.1L98.6 348.4L99.4 347.5L100.2 346.4L101 345.8L101.8 344.5L102.6 344L103.4 342.7L104.2 341.5L105 341L105.8 339.6L106.6 339L107.4 337.6L108.2 337.4L109 336L109.8 335.4L110.6 334.1L111.4 333.7L112.2 332.7L113 331.8L113.8 331.4L114.7 330.1L115.5 329.7L116.3 328.7L117.1 328.6L117.9 327.9L118.7 326.5L119.5 326.1L120.3 325.3L121.1 324.8L121.9 324.1L122.7 323L123.5 322.9L124.3 321.9L125.1 321.5L125.9 321.6L126.7 320.7L127.5 320.3L128.3 319.9L129.1 319.1L129.9 318.2L130.7 318.1L131.5 317.1L132.3 316.6L133.2 315.4L134 315.2L134.8 313.9L135.6 313.7L136.4 312.8L137.2 312.4L138 311.6L138.8 311L139.6 310.4L140.4 310.1L141.2 309.2L142 308.4L142.8 308.5L143.6 307.8L144.4 307.2L145.2 306.7L146 305.7L146.8 305.3L147.6 305.1L148.4 304.6L149.2 304.1L150 302.9L150.8 302.8L151.7 302.1L152.5 301.4L153.3 300.7L154.1 300.1L154.9 299.8L155.7 299.2L156.5 298.5L157.3 298L158.1 297.5L158.9 297.1L159.7 296.4L160.5 295.5L161.3 295.6L162.1 294.6L162.9 294.5L163.7 294L164.5 292.7L165.3 292.5L166.1 292.3L166.9 291.3L167.7 290.8L168.5 290.1L169.3 289.3L170.2 288.9L171 288.2L171.8 287.7L172.6 287.3L173.4 286.6L174.2 286.3L175 285.4L175.8 284.5L176.6 284.5L177.4 283.8L178.2 283.3L179 283.1L179.8 282.5L180.6 281.8L181.4 281.6L182.2 280.9L183 281L183.8 279.9L184.6 280L185.4 278.8L186.2 278.3L187 278.4L187.8 277.7L188.7 277.5L189.5 276.8L190.3 277L191.1 276.4L191.9 276L192.7 275.8L193.5 275.4L194.3 274.7L195.1 274.3L195.9 273.4L196.7 273.2L197.5 273.3L197.5 283.5L196.7 284.4L195.9 285.1L195.1 286.7L194.3 287.1L193.5 288.2L192.7 288.7L191.9 289.8L191.1 290.3L190.3 291L189.5 291.9L188.7 292.2L187.8 292.9L187 292.9L186.2 293.5L185.4 294.4L184.6 294.1L183.8 294.9L183 295.2L182.2 295.6L181.4 296.5L180.6 296.6L179.8 297.2L179 297.3L178.2 297.4L177.4 297.7L176.6 298.5L175.8 298.5L175 299.1L174.2 299.3L173.4 300.1L172.6 300.2L171.8 300.5L171 301.2L170.2 301L169.3 301.5L168.5 302.4L167.7 303.3L166.9 303.8L166.1 304.2L165.3 304.5L164.5 305.3L163.7 306L162.9 306.3L162.1 307.2L161.3 307.7L160.5 307.8L159.7 308.6L158.9 309.6L158.1 310.2L157.3 310.7L156.5 311.4L155.7 312.2L154.9 312.2L154.1 313.5L153.3 313.6L152.5 314.5L151.7 314.9L150.8 316L150 316.3L149.2 316.8L148.4 317.4L147.6 318.5L146.8 319L146 319.5L145.2 320.5L144.4 320.6L143.6 321.7L142.8 321.9L142 322.4L141.2 323.6L140.4 324.3L139.6 324.8L138.8 325.2L138 325.7L137.2 326.1L136.4 327.4L135.6 328.2L134.8 329.1L134 329.8L133.2 330.1L132.3 331.2L131.5 332.3L130.7 333.2L129.9 333.9L129.1 335.3L128.3 336L127.5 337.1L126.7 337.6L125.9 338L125.1 338.2L124.3 338.5L123.5 339.3L122.7 340.1L121.9 340.6L121.1 341.7L120.3 342.9L119.5 343.3L118.7 344.5L117.9 345.2L117.1 345.7L116.3 346.6L115.5 347.1L114.7 347.3L113.8 348.3L113 348.4L112.2 349.2L111.4 349.5L110.6 350.2L109.8 350.7L109 350.7L108.2 351.5L107.4 352.1L106.6 352.8L105.8 353.6L105 354.5L104.2 354.8L103.4 355.7L102.6 356.9L101.8 357.6L101 358.4L100.2 359.1L99.4 359.3L98.6 360.3L97.8 360.8L97 361.2L96.2 362.2L95.3 362.6L94.5 363.7L93.7 364.3L92.9 365.3L92.1 366.3L91.3 367.4L90.5 368.5L89.7 369.6L88.9 370.3L88.1 371L87.3 372.7L86.5 373.2L85.7 374.5L84.9 376.3L84.1 377.1L83.3 378.6L82.5 379.5L81.7 381.3L80.9 382.6L80.1 384L79.3 386.3L78.5 387.5L77.7 389.9L76.8 390.5L76 392.1L75.2 393.1L74.4 394.3L73.6 394.5L72.8 394.8L72 394.6L71.2 395.1L70.4 395.6L69.6 395.4L68.8 395.6L68 394.7 Z" fill="#40E0D0"/>
<path d="M68.1 387.4a2.3 2.3 0 1 0 4.6 0a2.3 2.3 0 1 0 -4.6 0M66.5 391.8a2.3 2.3 0 1 0 4.6 0a2.3 2.3 0 1 0 -4.6 0M70.8 381.4a2.3 2.3 0 1 0 4.6 0a2.3 2.3 0 1 0 -4.6 0M66.2 392.4a2.3 2.3 0 1 0 4.6 0a2.3 2.3 0 1 0 -4.6 0M72.6 378.2a2.3 2.3 0 1 0 4.6 0a2.3 2.3 0 1 0 -4.6 0M69.1 392.6a2.3 2.3 0 1 0 4.6 0a2.3 2.3 0 1 0 -4.6 0M74.3 375.8a2.3 2.3 0 1 0 4.6 0a2.3 2.3 0 1 0 -4.6 0M68.8 392a2.3 2.3 0 1 0 4.6 0a2.3 2.3 0 1 0 -4.6 0M76.3 375a2.3 2.3 0 1 0 4.6 0a2.3 2.3 0 1 0 -4.6 0M70.7 390a2.3 2.3 0 1 0 4.6 0a2.3 2.3 0 1 0 -4.6 0M78.6 373a2.3 2.3 0 1 0 4.6 0a2.3 2.3 0 1 0 -4.6 0M72.2 387.6a2.3 2.3 0 1 0 4.6 0a2.3 2.3 0 1 0 -4.6 0M79.9 370.4a2.3 2.3 0 1 0 4.6 0a2.3 2.3 0 1 0 -4.6 0M74.5 383.5a2.3 2.3 0 1 0 4.6 0a2.3 2.3 0 1 0 -4.6 0M82.3 368.1a2.3 2.3 0 1 0 4.6 0a2.3 2.3 0 1 0 -4.6 0M76.5 379.3a2.3 2.3 0 1 0 4.6 0a2.3 2.3 0 1 0 -4.6 0M84.2 365.5a2.3 2.3 0 1 0 4.6 0a2.3 2.3 0 1 0 -4.6 0M78.7 376.1a2.3 2.3 0 1 0 4.6 0a2.3 2.3 0 1 0 -4.6 0M86.4 363.3a2.3 2.3 0 1 0 4.6 0a2.3 2.3 0 1 0 -4.6 0M80.7 372.9a2.3 2.3 0 1 0 4.6 0a2.3 2.3 0 1 0 -4.6 0M88.7 360.9a2.3 2.3 0 1 0 4.6 0a2.3 2.3 0 1 0 -4.6 0M82.6 369.7a2.3 2.3 0 1 0 4.6 0a2.3 2.3 0 1 0 -4.6 0M90.2 358.7a2.3 2.3 0 1 0 4.6 0a2.3 2.3 0 1 0 -4.6 0M85.1 367.1a2.3 2.3 0 1 0 4.6 0a2.3 2.3 0 1 0 -4.6 0M91.9 356.7a2.3 2.3 0 1 0 4.6 0a2.3 2.3 0 1 0 -4.6 0M87.1 364.9a2.3 2.3 0 1 0 4.6 0a2.3 2.3 0 1 0 -4.6 0M94.3 354.8a2.3 2.3 0 1 0 4.6 0a2.3 2.3 0 1 0 -4.6 0M89.2 362.9a2.3 2.3 0 1 0 4.6 0a2.3 2.3 0 1 0 -4.6 0M96 352.7a2.3 2.3 0 1 0 4.6 0a2.3 2.3 0 1 0 -4.6 0M91.6 360.1a2.3 2.3 0 1 0 4.6 0a2.3 2.3 0 1 0 -4.6 0M98.2 350.9a2.3 2.3 0 1 0 4.6 0a2.3 2.3 0 1 0 -4.6 0M94 358.5a2.3 2.3 0 1 0 4.6 0a2.3 2.3 0 1 0 -4.6 0M100.5 348.5a2.3 2.3 0 1 0 4.6 0a2.3 2.3 0 1 0 -4.6 0M95.4 356.9a2.3 2.3 0 1 0 4.6 0a2.3 2.3 0 1 0 -4.6 0M101.9 345.9a2.3 2.3 0 1 0 4.6 0a2.3 2.3 0 1 0 -4.6 0M97.1 355.3a2.3 2.3 0 1 0 4.6 0a2.3 2.3 0 1 0 -4.6 0M104.7 344.1a2.3 2.3 0 1 0 4.6 0a2.3 2.3 0 1 0 -4.6 0M99.4 353.1a2.3 2.3 0 1 0 4.6 0a2.3 2.3 0 1 0 -4.6 0M106.5 341.6a2.3 2.3 0 1 0 4.6 0a2.3 2.3 0 1 0 -4.6 0M101.3 351.4a2.3 2.3 0 1 0 4.6 0a2.3 2.3 0 1 0 -4.6 0M108.8 339.2a2.3 2.3 0 1 0 4.6 0a2.3 2.3 0 1 0 -4.6 0M103.4 349.5a2.3 2.3 0 1 0 4.6 0a2.3 2.3 0 1 0 -4.6 0M110 336.8a2.3 2.3 0 1 0 4.6 0a2.3 2.3 0 1 0 -4.6 0M106.2 347.4a2.3 2.3 0 1 0 4.6 0a2.3 2.3 0 1 0 -4.6 0M112.6 335.2a2.3 2.3 0 1 0 4.6 0a2.3 2.3 0 1 0 -4.6 0M108.1 346.6a2.3 2.3 0 1 0 4.6 0a2.3 2.3 0 1 0 -4.6 0M114.2 332.9a2.3 2.3 0 1 0 4.6 0a2.3 2.3 0 1 0 -4.6 0M109.8 345.9a2.3 2.3 0 1 0 4.6 0a2.3 2.3 0 1 0 -4.6 0M116.1 331.1a2.3 2.3 0 1 0 4.6 0a2.3 2.3 0 1 0 -4.6 0M111.3 343.9a2.3 2.3 0 1 0 4.6 0a2.3 2.3 0 1 0 -4.6 0M118.5 329.8a2.3 2.3 0 1 0 4.6 0a2.3 2.3 0 1 0 -4.6 0M113.4 342.8a2.3 2.3 0 1 0 4.6 0a2.3 2.3 0 1 0 -4.6 0M120.2 327.9a2.3 2.3 0 1 0 4.6 0a2.3 2.3 0 1 0 -4.6 0M115.7 341.4a2.3 2.3 0 1 0 4.6 0a2.3 2.3 0 1 0 -4.6 0M121.9 325.8a2.3 2.3 0 1 0 4.6 0a2.3 2.3 0 1 0 -4.6 0M116.9 338.9a2.3 2.3 0 1 0 4.6 0a2.3 2.3 0 1 0 -4.6 0M123 324.5a2.3 2.3 0 1 0 4.6 0a2.3 2.3 0 1 0 -4.6 0M119.6 336.7a2.3 2.3 0 1 0 4.6 0a2.3 2.3 0 1 0 -4.6 0M125.3 323.8a2.3 2.3 0 1 0 4.6 0a2.3 2.3 0 1 0 -4.6 0M122 335.5a2.3 2.3 0 1 0 4.6 0a2.3 2.3 0 1 0 -4.6 0M127.7 322.6a2.3 2.3 0 1 0 4.6 0a2.3 2.3 0 1 0 -4.6 0M123.7 334.7a2.3 2.3 0 1 0 4.6 0a2.3 2.3 0 1 0 -4.6 0M130 320.6a2.3 2.3 0 1 0 4.6 0a2.3 2.3 0 1 0 -4.6 0M125.5 332.4a2.3 2.3 0 1 0 4.6 0a2.3 2.3 0 1 0 -4.6 0M132.2 319.1a2.3 2.3 0 1 0 4.6 0a2.3 2.3 0 1 0 -4.6 0M127.1 329.8a2.3 2.3 0 1 0 4.6 0a2.3 2.3 0 1 0 -4.6 0M133.6 316.8a2.3 2.3 0 1 0 4.6 0a2.3 2.3 0 1 0 -4.6 0M129.5 327.8a2.3 2.3 0 1 0 4.6 0a2.3 2.3 0 1 0 -4.6 0M136.1 315.2a2.3 2.3 0 1 0 4.6 0a2.3 2.3 0 1 0 -4.6 0M131.4 325.9a2.3 2.3 0 1 0 4.6 0a2.3 2.3 0 1 0 -4.6 0M137.5 313.6a2.3 2.3 0 1 0 4.6 0a2.3 2.3 0 1 0 -4.6 0M133.9 323.7a2.3 2.3 0 1 0 4.6 0a2.3 2.3 0 1 0 -4.6 0M139.7 312.1a2.3 2.3 0 1 0 4.6 0a2.3 2.3 0 1 0 -4.6 0M135.9 322.2a2.3 2.3 0 1 0 4.6 0a2.3 2.3 0 1 0 -4.6 0M141.6 310.8a2.3 2.3 0 1 0 4.6 0a2.3 2.3 0 1 0 -4.6 0M137.4 320.5a2.3 2.3 0 1 0 4.6 0a2.3 2.3 0 1 0 -4.6 0M144 309.9a2.3 2.3 0 1 0 4.6 0a2.3 2.3 0 1 0 -4.6 0M139.9 319a2.3 2.3 0 1 0 4.6 0a2.3 2.3 0 1 0 -4.6 0M145.9 308.3a2.3 2.3 0 1 0 4.6 0a2.3 2.3 0 1 0 -4.6 0M141.8 317.7a2.3 2.3 0 1 0 4.6 0a2.3 2.3 0 1 0 -4.6 0M147.6 306.7a2.3 2.3 0 1 0 4.6 0a2.3 2.3 0 1 0 -4.6 0M143.6 315.5a2.3 2.3 0 1 0 4.6 0a2.3 2.3 0 1 0 -4.6 0M149.6 305.6a2.3 2.3 0 1 0 4.6 0a2.3 2.3 0 1 0 -4.6 0M145.1 313.9a2.3 2.3 0 1 0 4.6 0a2.3 2.3 0 1 0 -4.6 0M151.7 303.9a2.3 2.3 0 1 0 4.6 0a2.3 2.3 0 1 0 -4.6 0M147.9 312.6a2.3 2.3 0 1 0 4.6 0a2.3 2.3 0 1 0 -4.6 0M153.4 302.4a2.3 2.3 0 1 0 4.6 0a2.3 2.3 0 1 0 -4.6 0M149.4 311.2a2.3 2.3 0 1 0 4.6 0a2.3 2.3 0 1 0 -4.6 0M155.2 300.9a2.3 2.3 0 1 0 4.6 0a2.3 2.3 0 1 0 -4.6 0M151.6 309.5a2.3 2.3 0 1 0 4.6 0a2.3 2.3 0 1 0 -4.6 0M157.6 299.9a2.3 2.3 0 1 0 4.6 0a2.3 2.3 0 1 0 -4.6 0M153.4 307.6a2.3 2.3 0 1 0 4.6 0a2.3 2.3 0 1 0 -4.6 0M159.8 298.9a2.3 2.3 0 1 0 4.6 0a2.3 2.3 0 1 0 -4.6 0M155.7 306.2a2.3 2.3 0 1 0 4.6 0a2.3 2.3 0 1 0 -4.6 0M161.8 297a2.3 2.3 0 1 0 4.6 0a2.3 2.3 0 1 0 -4.6 0M158.1 305a2.3 2.3 0 1 0 4.6 0a2.3 2.3 0 1 0 -4.6 0M163.5 295.6a2.3 2.3 0 1 0 4.6 0a2.3 2.3 0 1 0 -4.6 0M159.6 303.2a2.3 2.3 0 1 0 4.6 0a2.3 2.3 0 1 0 -4.6 0M165.3 294.2a2.3 2.3 0 1 0 4.6 0a2.3 2.3 0 1 0 -4.6 0M161.4 301.4a2.3 2.3 0 1 0 4.6 0a2.3 2.3 0 1 0 -4.6 0M167.5 292.6a2.3 2.3 0 1 0 4.6 0a2.3 2.3 0 1 0 -4.6 0M163.6 300.4a2.3 2.3 0 1 0 4.6 0a2.3 2.3 0 1 0 -4.6 0M169.8 291.4a2.3 2.3 0 1 0 4.6 0a2.3 2.3 0 1 0 -4.6 0M165.8 299.2a2.3 2.3 0 1 0 4.6 0a2.3 2.3 0 1 0 -4.6 0M172.1 290.3a2.3 2.3 0 1 0 4.6 0a2.3 2.3 0 1 0 -4.6 0M168.1 297.9a2.3 2.3 0 1 0 4.6 0a2.3 2.3 0 1 0 -4.6 0M174.1 288.4a2.3 2.3 0 1 0 4.6 0a2.3 2.3 0 1 0 -4.6 0M170.3 296.9a2.3 2.3 0 1 0 4.6 0a2.3 2.3 0 1 0 -4.6 0M175.7 286.6a2.3 2.3 0 1 0 4.6 0a2.3 2.3 0 1 0 -4.6 0M172.5 296a2.3 2.3 0 1 0 4.6 0a2.3 2.3 0 1 0 -4.6 0M177.4 285.8a2.3 2.3 0 1 0 4.6 0a2.3 2.3 0 1 0 -4.6 0M174.3 295.5a2.3 2.3 0 1 0 4.6 0a2.3 2.3 0 1 0 -4.6 0M179.7 285.3a2.3 2.3 0 1 0 4.6 0a2.3 2.3 0 1 0 -4.6 0M176.2 294a2.3 2.3 0 1 0 4.6 0a2.3 2.3 0 1 0 -4.6 0M181.2 283.7a2.3 2.3 0 1 0 4.6 0a2.3 2.3 0 1 0 -4.6 0M178.4 293.6a2.3 2.3 0 1 0 4.6 0a2.3 2.3 0 1 0 -4.6 0M183.4 282.7a2.3 2.3 0 1 0 4.6 0a2.3 2.3 0 1 0 -4.6 0M179.8 292.1a2.3 2.3 0 1 0 4.6 0a2.3 2.3 0 1 0 -4.6 0M185.2 281.5a2.3 2.3 0 1 0 4.6 0a2.3 2.3 0 1 0 -4.6 0M181.9 291.2a2.3 2.3 0 1 0 4.6 0a2.3 2.3 0 1 0 -4.6 0M187.1 280.5a2.3 2.3 0 1 0 4.6 0a2.3 2.3 0 1 0 -4.6 0M183.9 290.1a2.3 2.3 0 1 0 4.6 0a2.3 2.3 0 1 0 -4.6 0M189 279.1a2.3 2.3 0 1 0 4.6 0a2.3 2.3 0 1 0 -4.6 0M185.7 288.6a2.3 2.3 0 1 0 4.6 0a2.3 2.3 0 1 0 -4.6 0M191.6 278.5a2.3 2.3 0 1 0 4.6 0a2.3 2.3 0 1 0 -4.6 0M187 287.5a2.3 2.3 0 1 0 4.6 0a2.3 2.3 0 1 0 -4.6 0M193.5 277.2a2.3 2.3 0 1 0 4.6 0a2.3 2.3 0 1 0 -4.6 0M189.4 285.5a2.3 2.3 0 1 0 4.6 0a2.3 2.3 0 1 0 -4.6 0M194.6 276.5a2.3 2.3 0 1 0 4.6 0a2.3 2.3 0 1 0 -4.6 0M190.6 283.6a2.3 2.3 0 1 0 4.6 0a2.3 2.3 0 1 0 -4.6 0M197.8 278.1a2.3 2.3 0 1 0 4.6 0a2.3 2.3 0 1 0 -4.6 0M194.1 282a2.3 2.3 0 1 0 4.6 0a2.3 2.3 0 1 0 -4.6 0M68.2 393.5a2.3 2.3 0 1 0 4.6 0a2.3 2.3 0 1 0 -4.6 0" stroke="#40E0D0" stroke-width="1.25" fill="none"/>
<path d="M68 386.5L68.8 384.2L69.6 382.6L70.4 379.8L71.2 379L72 377.8L72.8 376.4L73.6 374.8L74.4 374.6L75.2 373.4L76 373.3L76.8 372.4L77.7 371.3L78.5 371.2L79.3 370.1L80.1 369.6L80.9 368.8L81.7 367.7L82.5 367L83.3 365.5L84.1 365.1L84.9 363.7L85.7 362.4L86.5 361.7L87.3 360.5L88.1 359.5L88.9 359.1L89.7 357.9L90.5 357.1L91.3 356.4L92.1 355.6L92.9 355.3L93.7 354.4L94.5 353.6L95.3 352.9L96.2 351.6L97 351L97.8 349.7L98.6 349.4L99.4 348.4L100.2 347.5L101 346.2L101.8 345.2L102.6 345L103.4 343.8L104.2 342.9L105 342.2L105.8 340.7L106.6 340.2L107.4 339L108.2 338.3L109 337.1L109.8 336.1L110.6 335.9L111.4 334.6L112.2 334.2L113 333.5L113.8 332.2L114.7 331.9L115.5 331L116.3 330.1L117.1 329.4L117.9 329.3L118.7 328.1L119.5 327.5L120.3 326.7L121.1 325.5L121.9 325.3L122.7 324.5L123.5 324L124.3 323.1L125.1 322.6L125.9 322.2L126.7 322.1L127.5 321.6L128.3 320.8L129.1 320.2L129.9 319.2L130.7 319.1L131.5 318L132.3 317.4L133.2 316.8L134 315.6L134.8 315.3L135.6 314.3L136.4 313.9L137.2 312.7L138 312.3L138.8 312L139.6 311.3L140.4 310.7L141.2 310.3L142 309.5L142.8 309.1L143.6 308.2L144.4 308.3L145.2 307.3L146 307.2L146.8 306.4L147.6 305.9L148.4 305.4L149.2 304.4L150 304.4L150.8 303.4L151.7 303.4L152.5 302.7L153.3 302.1L154.1 301.6L154.9 300.7L155.7 300.3L156.5 300L157.3 298.8L158.1 298.2L158.9 297.8L159.7 297.3L160.5 296.5L161.3 295.9L162.1 295.9L162.9 294.9L163.7 294.1L164.5 293.6L165.3 293.3L166.1 292.4L166.9 292L167.7 291.5L168.5 290.8L169.3 290.3L170.2 289.9L171 288.6L171.8 288.7L172.6 287.5L173.4 286.7L174.2 286.7L175 285.9L175.8 285.2L176.6 284.4L177.4 284.4L178.2 283.6L179 283.5L179.8 282.7L180.6 282.5L181.4 282.1L182.2 281.4L183 281L183.8 280.2L184.6 280.2L185.4 279.8L186.2 278.9L187 278.8L187.8 278.5L188.7 277.6L189.5 277.8L190.3 277.4L191.1 276.3L191.9 276.1L192.7 275.5L193.5 275.1L194.3 274.6L195.1 274.4L195.9 273.9L196.7 273.7L197.5 273.7L197.5 278.6L196.7 280.1L195.9 281.2L195.1 282L194.3 282.5L193.5 283.9L192.7 284.3L191.9 285.3L191.1 286.1L190.3 286.4L189.5 287.2L188.7 287.6L187.8 288.3L187 288.6L186.2 289.3L185.4 289.4L184.6 289.9L183.8 290.3L183 291.2L182.2 291.6L181.4 291.4L180.6 292L179.8 292.5L179 292.4L178.2 293.5L177.4 293.3L176.6 294.2L175.8 294L175 294.8L174.2 295.2L173.4 295.4L172.6 295.4L171.8 296.3L171 296.4L170.2 297.1L169.3 297.7L168.5 298.3L167.7 298.7L166.9 299.3L166.1 300L165.3 300.2L164.5 301.6L163.7 302.4L162.9 303.8L162.1 304.3L161.3 305.7L160.5 306.9L159.7 307.3L158.9 309L158.1 309.4L157.3 310.1L156.5 311L155.7 311.1L154.9 312.1L154.1 313.1L153.3 313.4L152.5 314L151.7 314.9L150.8 315L150 315.6L149.2 316.6L148.4 317.2L147.6 318.2L146.8 318.7L146 319L145.2 319.9L144.4 320.7L143.6 320.8L142.8 321.8L142 322.7L141.2 323.3L140.4 323.8L139.6 324.1L138.8 325L138 325.3L137.2 326L136.4 327.1L135.6 327.5L134.8 328.9L134 329.6L133.2 330.5L132.3 330.9L131.5 332.4L130.7 333.2L129.9 334.5L129.1 335.2L128.3 336.1L127.5 337.1L126.7 337.5L125.9 337.7L125.1 337.7L124.3 338.6L123.5 338.2L122.7 339.6L121.9 340.2L121.1 341.9L120.3 342.4L119.5 343.8L118.7 345.1L117.9 345.4L117.1 346.4L116.3 346.7L115.5 347.7L114.7 348.2L113.8 348.5L113 349.1L112.2 349.4L111.4 350L110.6 349.9L109.8 350.2L109 350.6L108.2 351.6L107.4 351.8L106.6 352.4L105.8 353.3L105 354.1L104.2 354.5L103.4 355L102.6 356L101.8 356.8L101 358.1L100.2 358.1L99.4 359L98.6 359.9L97.8 360.7L97 360.6L96.2 361.4L95.3 362.5L94.5 363.2L93.7 364.3L92.9 365.2L92.1 366L91.3 367L90.5 367.4L89.7 368.5L88.9 369.5L88.1 370.1L87.3 370.8L86.5 371.8L85.7 373.1L84.9 374L84.1 375.2L83.3 376.2L82.5 378.2L81.7 379.3L80.9 380.6L80.1 381.4L79.3 383.2L78.5 384.2L77.7 386.1L76.8 387L76 387.4L75.2 388.6L74.4 389.7L73.6 391.1L72.8 391L72 391.4L71.2 391.3L70.4 391.5L69.6 391.3L68.8 391.2L68 391.2 Z" fill="#FFA500"/>
<path d="M69 386.4l2.9 2.9m0 -2.9l-2.9 2.9M67 387.6l2.9 2.9m0 -2.9l-2.9 2.9M71.2 381.4l2.9 2.9m0 -2.9l-2.9 2.9M67.9 387.3l2.9 2.9m0 -2.9l-2.9 2.9M73.2 378.4l2.9 2.9m0 -2.9l-2.9 2.9M69.9 387.8l2.9 2.9m0 -2.9l-2.9 2.9M74.1 375.6l2.9 2.9m0 -2.9l-2.9 2.9M71.2 386.7l2.9 2.9m0 -2.9l-2.9 2.9M75.5 374.7l2.9 2.9m0 -2.9l-2.9 2.9M71.5 386.9l2.9 2.9m0 -2.9l-2.9 2.9M76.6 372.8l2.9 2.9m0 -2.9l-2.9 2.9M72.4 384.3l2.9 2.9m0 -2.9l-2.9 2.9M78.9 371.4l2.9 2.9m0 -2.9l-2.9 2.9M74.7 382.5l2.9 2.9m0 -2.9l-2.9 2.9M80.2 369.5l2.9 2.9m0 -2.9l-2.9 2.9M75.9 379.4l2.9 2.9m0 -2.9l-2.9 2.9M81.9 367.5l2.9 2.9m0 -2.9l-2.9 2.9M77.1 376.5l2.9 2.9m0 -2.9l-2.9 2.9M84.1 365.7l2.9 2.9m0 -2.9l-2.9 2.9M79.3 373.9l2.9 2.9m0 -2.9l-2.9 2.9M86 363.7l2.9 2.9m0 -2.9l-2.9 2.9M81.1 371.1l2.9 2.9m0 -2.9l-2.9 2.9M87.6 361.4l2.9 2.9m0 -2.9l-2.9 2.9M82.7 368.6l2.9 2.9m0 -2.9l-2.9 2.9M89.6 360l2.9 2.9m0 -2.9l-2.9 2.9M84.3 366.5l2.9 2.9m0 -2.9l-2.9 2.9M91.1 358.2l2.9 2.9m0 -2.9l-2.9 2.9M86.4 364.6l2.9 2.9m0 -2.9l-2.9 2.9M92.7 356.6l2.9 2.9m0 -2.9l-2.9 2.9M87.9 363.2l2.9 2.9m0 -2.9l-2.9 2.9M94 354.4l2.9 2.9m0 -2.9l-2.9 2.9M89.7 361.4l2.9 2.9m0 -2.9l-2.9 2.9M96.3 353.1l2.9 2.9m0 -2.9l-2.9 2.9M91.5 359.8l2.9 2.9m0 -2.9l-2.9 2.9M97.6 351l2.9 2.9m0 -2.9l-2.9 2.9M93.6 357.6l2.9 2.9m0 -2.9l-2.9 2.9M99.2 348.8l2.9 2.9m0 -2.9l-2.9 2.9M95.8 356.6l2.9 2.9m0 -2.9l-2.9 2.9M101.2 347.1l2.9 2.9m0 -2.9l-2.9 2.9M96.7 355.4l2.9 2.9m0 -2.9l-2.9 2.9M102.4 345.3l2.9 2.9m0 -2.9l-2.9 2.9M98.4 353.6l2.9 2.9m0 -2.9l-2.9 2.9M104.3 343.1l2.9 2.9m0 -2.9l-2.9 2.9M99.9 352l2.9 2.9m0 -2.9l-2.9 2.9M106.5 341.8l2.9 2.9m0 -2.9l-2.9 2.9M102 350.3l2.9 2.9m0 -2.9l-2.9 2.9M107.8 339.1l2.9 2.9m0 -2.9l-2.9 2.9M103.8 348.8l2.9 2.9m0 -2.9l-2.9 2.9M109.3 337.2l2.9 2.9m0 -2.9l-2.9 2.9M105.3 347l2.9 2.9m0 -2.9l-2.9 2.9M111.8 336.3l2.9 2.9m0 -2.9l-2.9 2.9M108.3 346.8l2.9 2.9m0 -2.9l-2.9 2.9M112.6 333.9l2.9 2.9m0 -2.9l-2.9 2.9M109.6 345.4l2.9 2.9m0 -2.9l-2.9 2.9M114.7 332.7l2.9 2.9m0 -2.9l-2.9 2.9M111.2 345.4l2.9 2.9m0 -2.9l-2.9 2.9M115.9 331.1l2.9 2.9m0 -2.9l-2.9 2.9M112.7 344.2l2.9 2.9m0 -2.9l-2.9 2.9M118.1 329.9l2.9 2.9m0 -2.9l-2.9 2.9M114 342.6l2.9 2.9m0 -2.9l-2.9 2.9M120.2 328.5l2.9 2.9m0 -2.9l-2.9 2.9M115 341.7l2.9 2.9m0 -2.9l-2.9 2.9M121.6 326.8l2.9 2.9m0 -2.9l-2.9 2.9M117 339.6l2.9 2.9m0 -2.9l-2.9 2.9M123.5 325l2.9 2.9m0 -2.9l-2.9 2.9M118.5 336.9l2.9 2.9m0 -2.9l-2.9 2.9M124.5 324.4l2.9 2.9m0 -2.9l-2.9 2.9M121.6 334.7l2.9 2.9m0 -2.9l-2.9 2.9M125.8 323.3l2.9 2.9m0 -2.9l-2.9 2.9M123.5 334.4l2.9 2.9m0 -2.9l-2.9 2.9M127.7 322.4l2.9 2.9m0 -2.9l-2.9 2.9M124.5 333.4l2.9 2.9m0 -2.9l-2.9 2.9M129.3 320.1l2.9 2.9m0 -2.9l-2.9 2.9M125.3 332.2l2.9 2.9m0 -2.9l-2.9 2.9M132.1 319.3l2.9 2.9m0 -2.9l-2.9 2.9M127.3 330.2l2.9 2.9m0 -2.9l-2.9 2.9M133.1 317.5l2.9 2.9m0 -2.9l-2.9 2.9M128.3 327.6l2.9 2.9m0 -2.9l-2.9 2.9M134.6 315.5l2.9 2.9m0 -2.9l-2.9 2.9M131 326.5l2.9 2.9m0 -2.9l-2.9 2.9M136.8 314.2l2.9 2.9m0 -2.9l-2.9 2.9M132.6 324.4l2.9 2.9m0 -2.9l-2.9 2.9M138.2 313.4l2.9 2.9m0 -2.9l-2.9 2.9M134.4 322.6l2.9 2.9m0 -2.9l-2.9 2.9M139.6 312l2.9 2.9m0 -2.9l-2.9 2.9M136 320.9l2.9 2.9m0 -2.9l-2.9 2.9M141.3 310.7l2.9 2.9m0 -2.9l-2.9 2.9M137.3 319.3l2.9 2.9m0 -2.9l-2.9 2.9M142.7 309.5l2.9 2.9m0 -2.9l-2.9 2.9M139.5 318.7l2.9 2.9m0 -2.9l-2.9 2.9M144.9 308.4l2.9 2.9m0 -2.9l-2.9 2.9M141.3 316.9l2.9 2.9m0 -2.9l-2.9 2.9M146.7 307.6l2.9 2.9m0 -2.9l-2.9 2.9M142.5 315.6l2.9 2.9m0 -2.9l-2.9 2.9M147.9 306.1l2.9 2.9m0 -2.9l-2.9 2.9M144.2 314.2l2.9 2.9m0 -2.9l-2.9 2.9M149.8 305l2.9 2.9m0 -2.9l-2.9 2.9M146.2 313l2.9 2.9m0 -2.9l-2.9 2.9M151.5 303.5l2.9 2.9m0 -2.9l-2.9 2.9M147.8 311.4l2.9 2.9m0 -2.9l-2.9 2.9M153.1 302.3l2.9 2.9m0 -2.9l-2.9 2.9M149.7 309.9l2.9 2.9m0 -2.9l-2.9 2.9M154.9 301.6l2.9 2.9m0 -2.9l-2.9 2.9M151.2 308.6l2.9 2.9m0 -2.9l-2.9 2.9M156.8 300l2.9 2.9m0 -2.9l-2.9 2.9M153.1 307.3l2.9 2.9m0 -2.9l-2.9 2.9M158.3 298.8l2.9 2.9m0 -2.9l-2.9 2.9M154.6 306.4l2.9 2.9m0 -2.9l-2.9 2.9M160.4 298l2.9 2.9m0 -2.9l-2.9 2.9M156.1 304.8l2.9 2.9m0 -2.9l-2.9 2.9M162.1 296.9l2.9 2.9m0 -2.9l-2.9 2.9M157.3 302.2l2.9 2.9m0 -2.9l-2.9 2.9M163.6 295.7l2.9 2.9m0 -2.9l-2.9 2.9M159.4 300.2l2.9 2.9m0 -2.9l-2.9 2.9M165.7 294.3l2.9 2.9m0 -2.9l-2.9 2.9M161 297.8l2.9 2.9m0 -2.9l-2.9 2.9M167.1 292.9l2.9 2.9m0 -2.9l-2.9 2.9M163.6 295.7l2.9 2.9m0 -2.9l-2.9 2.9M168.2 291.1l2.9 2.9m0 -2.9l-2.9 2.9M164.6 294.3l2.9 2.9m0 -2.9l-2.9 2.9M170.3 290.5l2.9 2.9m0 -2.9l-2.9 2.9M167 293.3l2.9 2.9m0 -2.9l-2.9 2.9M171.9 288.6l2.9 2.9m0 -2.9l-2.9 2.9M169.3 292.7l2.9 2.9m0 -2.9l-2.9 2.9M173.9 287.5l2.9 2.9m0 -2.9l-2.9 2.9M170.9 291.9l2.9 2.9m0 -2.9l-2.9 2.9M176 286.5l2.9 2.9m0 -2.9l-2.9 2.9M172.1 290.5l2.9 2.9m0 -2.9l-2.9 2.9M176.7 285.2l2.9 2.9m0 -2.9l-2.9 2.9M174.4 290.3l2.9 2.9m0 -2.9l-2.9 2.9M178.3 283.9l2.9 2.9m0 -2.9l-2.9 2.9M176 289.1l2.9 2.9m0 -2.9l-2.9 2.9M179.8 282.9l2.9 2.9m0 -2.9l-2.9 2.9M177.8 288.6l2.9 2.9m0 -2.9l-2.9 2.9M182 282l2.9 2.9m0 -2.9l-2.9 2.9M179.2 288l2.9 2.9m0 -2.9l-2.9 2.9M183.7 281.7l2.9 2.9m0 -2.9l-2.9 2.9M180.6 287.1l2.9 2.9m0 -2.9l-2.9 2.9M185.1 280l2.9 2.9m0 -2.9l-2.9 2.9M182.4 285.9l2.9 2.9m0 -2.9l-2.9 2.9M186.9 279.1l2.9 2.9m0 -2.9l-2.9 2.9M183.7 285.2l2.9 2.9m0 -2.9l-2.9 2.9M188.9 278.9l2.9 2.9m0 -2.9l-2.9 2.9M186 284.3l2.9 2.9m0 -2.9l-2.9 2.9M190.3 278l2.9 2.9m0 -2.9l-2.9 2.9M187.8 283.5l2.9 2.9m0 -2.9l-2.9 2.9M192 277.1l2.9 2.9m0 -2.9l-2.9 2.9M188.5 281.6l2.9 2.9m0 -2.9l-2.9 2.9M194.1 275.9l2.9 2.9m0 -2.9l-2.9 2.9M189.7 279.8l2.9 2.9m0 -2.9l-2.9 2.9M195.5 275.3l2.9 2.9m0 -2.9l-2.9 2.9M192 278.9l2.9 2.9m0 -2.9l-2.9 2.9M196.5 274.7l2.9 2.9m0 -2.9l-2.9 2.9M193.3 276l2.9 2.9m0 -2.9l-2.9 2.9" stroke="#FFA500" stroke-width="1.55" fill="none"/>
<path d="M201.3 271.4l3.1 3.1m0 -3.1l-3.1 3.1M202.8 275.6l3.1 3.1m0 -3.1l-3.1 3.1M195.8 273.3l3.1 3.1m0 -3.1l-3.1 3.1M197.9 271.2l3.1 3.1m0 -3.1l-3.1 3.1M194.5 274.5l3.1 3.1m0 -3.1l-3.1 3.1M197 274.5l3.1 3.1m0 -3.1l-3.1 3.1M201.1 274l3.1 3.1m0 -3.1l-3.1 3.1M198.1 274.5l3.1 3.1m0 -3.1l-3.1 3.1M134.9 327l3.1 3.1m0 -3.1l-3.1 3.1M151.6 312.9l3.1 3.1m0 -3.1l-3.1 3.1M121.5 337.5l3.1 3.1m0 -3.1l-3.1 3.1M116.8 344.9l3.1 3.1m0 -3.1l-3.1 3.1M135.1 326.3l3.1 3.1m0 -3.1l-3.1 3.1M124.9 335.7l3.1 3.1m0 -3.1l-3.1 3.1" stroke="#FFA500" stroke-width="1.75" fill="none"/>
<path d="M71.1 379.3L203.2 260.5" stroke="#000" stroke-width="1.85" stroke-linecap="round" fill="none"/>
</g>
<rect x="49.7" y="247.4" width="168.8" height="149.6" fill="none" stroke="#6e6e6e" stroke-width="1.1"/>
<text transform="translate(58.3 415.2) scale(0.9 1)" text-anchor="middle" class="tk">0.03</text>
<text transform="translate(98.4 415.2) scale(0.9 1)" text-anchor="middle" class="tk">0.06</text>
<text transform="translate(138.6 415.2) scale(0.9 1)" text-anchor="middle" class="tk">0.09</text>
<text transform="translate(178.7 415.2) scale(0.9 1)" text-anchor="middle" class="tk">0.12</text>
<text transform="translate(43.5 391.3) rotate(-90) scale(0.9 1)" text-anchor="middle" class="tk">0.03</text>
<text transform="translate(43.5 354.9) rotate(-90) scale(0.9 1)" text-anchor="middle" class="tk">0.06</text>
<text transform="translate(43.5 318.6) rotate(-90) scale(0.9 1)" text-anchor="middle" class="tk">0.09</text>
<text transform="translate(43.5 282.2) rotate(-90) scale(0.9 1)" text-anchor="middle" class="tk">0.12</text>
<text x="86.7" y="430.4" class="ax" style="font-size:17px" textLength="81.8" lengthAdjust="spacingAndGlyphs">True values</text>
<text transform="translate(26 384.2) rotate(-90)" class="ax" textLength="117.7" lengthAdjust="spacingAndGlyphs">Predicted values</text>
<text x="-0.6" y="242.2" class="lab">(d)</text>
<g class="ti">
<g transform="translate(57.2 277.1) scale(1.025 1.0)">
<text x="0" y="0" style="font-size:20px">Tr</text>
<text transform="translate(20.7 1.2) scale(0.8 1)" style="font-size:24px">[</text>
<text x="26.3" y="0.2" class="it" style="font-size:20.5px">&#961;</text>
<text transform="translate(34.8 -8.5) scale(1.28 1)" style="font-size:12.5px">3</text>
<text transform="translate(35.0 4.8) scale(1.17 1)" style="font-size:14px">in</text>
<text transform="translate(47.9 1.2) scale(0.8 1)" style="font-size:24px">]</text>
</g>
</g>
<clipPath id="clip4"><rect x="282.4" y="247.5" width="174.2" height="150.7"/></clipPath>
<path d="M283.4 247.5V398.2M311.7 247.5V398.2M340 247.5V398.2M368.3 247.5V398.2M396.5 247.5V398.2M424.8 247.5V398.2M453.1 247.5V398.2M282.4 384.2H456.6M282.4 359H456.6M282.4 333.9H456.6M282.4 308.7H456.6M282.4 283.6H456.6M282.4 258.4H456.6" stroke="#b2b2b2" stroke-width="0.8" stroke-dasharray="1.3 1.9" fill="none"/>
<g clip-path="url(#clip4)">
<path d="M285.8 392.7L286.6 387.4L287.4 385.4L288.2 384.4L289 383.1L289.8 381.2L290.6 380.2L291.4 378.9L292.2 377.3L293 376.6L293.8 375.4L294.6 373.9L295.5 372.5L296.3 371.4L297.1 370.6L297.9 369.2L298.7 368.4L299.5 366.9L300.3 365.8L301.1 365L301.9 364.3L302.7 362.4L303.5 361.1L304.3 360.3L305.1 358.5L305.9 357.7L306.7 355.9L307.5 354.8L308.3 353.8L309.1 352.7L309.9 351.5L310.7 350.7L311.5 349.5L312.3 348.9L313.1 348.1L314 347.8L314.8 347.1L315.6 346.4L316.4 345.5L317.2 345L318 343.6L318.8 342.9L319.6 341.9L320.4 341L321.2 340.4L322 339L322.8 338.1L323.6 337L324.4 336.5L325.2 335.3L326 334.4L326.8 333.5L327.6 333.2L328.4 332.4L329.2 331.2L330 330.6L330.8 330.1L331.6 328.9L332.5 328.2L333.3 327.3L334.1 326.9L334.9 326.5L335.7 325.3L336.5 324.8L337.3 324.6L338.1 323.5L338.9 322.8L339.7 322.6L340.5 322L341.3 321L342.1 320.2L342.9 320L343.7 319.5L344.5 319.1L345.3 318.3L346.1 317.3L346.9 316.9L347.7 316.1L348.5 315.6L349.3 314.9L350.1 314.7L351 314L351.8 313.4L352.6 312.3L353.4 312.1L354.2 310.8L355 310.7L355.8 309.9L356.6 309.5L357.4 308.6L358.2 308.5L359 307.2L359.8 307.3L360.6 306.7L361.4 305.6L362.2 305.2L363 304L363.8 303.7L364.6 302.8L365.4 302L366.2 301.3L367 301.3L367.8 300.8L368.7 299.8L369.5 300L370.3 298.9L371.1 298.5L371.9 297.9L372.7 297.5L373.5 297.2L374.3 296.6L375.1 295.8L375.9 294.9L376.7 294L377.5 293.3L378.3 292.9L379.1 292.3L379.9 291.4L380.7 291.3L381.5 290.2L382.3 289.6L383.1 289.1L383.9 288.3L384.7 288.4L385.5 287.6L386.3 287L387.2 286.5L388 285.8L388.8 285.4L389.6 285.1L390.4 284.5L391.2 284.4L392 283.5L392.8 282.6L393.6 282L394.4 281.5L395.2 281.1L396 281.2L396.8 281.1L397.6 280.4L398.4 280.7L399.2 280.3L400 280.2L400.8 279.9L401.6 279L402.4 278.6L403.2 278.6L404 278.1L404.8 277.4L405.7 277.3L406.5 276.7L407.3 275.8L408.1 275.1L408.9 275L409.7 274.6L410.5 273.7L411.3 273.3L412.1 273.4L412.9 272.8L413.7 273.1L414.5 272.8L414.5 286.2L413.7 287L412.9 287.3L412.1 287.2L411.3 287.8L410.5 287.9L409.7 288.9L408.9 289.5L408.1 289.5L407.3 290.2L406.5 291.2L405.7 291.2L404.8 292.1L404 292.3L403.2 293.1L402.4 293.6L401.6 294L400.8 294.6L400 294.4L399.2 295L398.4 294.5L397.6 295.2L396.8 295.2L396 295.7L395.2 295.5L394.4 296.1L393.6 296.7L392.8 296.8L392 297.5L391.2 298.2L390.4 298.3L389.6 299.5L388.8 299.5L388 300.1L387.2 301.4L386.3 301.7L385.5 302.1L384.7 303.3L383.9 303.6L383.1 303.9L382.3 304.3L381.5 304.6L380.7 305L379.9 306L379.1 306.3L378.3 306.8L377.5 307.6L376.7 308.4L375.9 308.9L375.1 309.4L374.3 310.4L373.5 311.2L372.7 311.9L371.9 312.5L371.1 313.4L370.3 314L369.5 314.6L368.7 314.7L367.8 316.1L367 316.5L366.2 316.7L365.4 318L364.6 318.1L363.8 319.4L363 320.4L362.2 321.2L361.4 322L360.6 323.2L359.8 323.2L359 324L358.2 325.4L357.4 325.9L356.6 326.6L355.8 327.3L355 328.5L354.2 328.8L353.4 329.6L352.6 330.9L351.8 331.5L351 332.5L350.1 333.5L349.3 334.1L348.5 334.2L347.7 335.3L346.9 335.5L346.1 336.6L345.3 336.9L344.5 337.4L343.7 338.4L342.9 339.2L342.1 339.7L341.3 340.4L340.5 341.1L339.7 341.3L338.9 342L338.1 342.6L337.3 343.5L336.5 343.7L335.7 344.3L334.9 345.1L334.1 345.5L333.3 346L332.5 346.7L331.6 347.6L330.8 348.4L330 348.6L329.2 349.5L328.4 349.8L327.6 351.2L326.8 351.6L326 352.2L325.2 353.1L324.4 353.7L323.6 355L322.8 355.7L322 356.1L321.2 357.2L320.4 358L319.6 359.3L318.8 359.5L318 361.1L317.2 361.2L316.4 362.6L315.6 363L314.8 364L314 365.1L313.1 365.8L312.3 367.3L311.5 368.1L310.7 369.5L309.9 370.3L309.1 371.8L308.3 373L307.5 373.9L306.7 375.1L305.9 376.3L305.1 377.9L304.3 379.4L303.5 380L302.7 381.6L301.9 382.8L301.1 384.2L300.3 385.1L299.5 386.5L298.7 387.7L297.9 388.8L297.1 390.8L296.3 391.9L295.5 393.4L294.6 396.3L293.8 398.5L293 398.4L292.2 398.7L291.4 398.4L290.6 398.6L289.8 398.3L289 398.9L288.2 398.9L287.4 398.8L286.6 398.6L285.8 398.8 Z" fill="#40E0D0"/>
<path d="M287 393.3a2.3 2.3 0 1 0 4.6 0a2.3 2.3 0 1 0 -4.6 0M283.3 395.2a2.3 2.3 0 1 0 4.6 0a2.3 2.3 0 1 0 -4.6 0M288.9 386a2.3 2.3 0 1 0 4.6 0a2.3 2.3 0 1 0 -4.6 0M285.7 396a2.3 2.3 0 1 0 4.6 0a2.3 2.3 0 1 0 -4.6 0M290.9 382.9a2.3 2.3 0 1 0 4.6 0a2.3 2.3 0 1 0 -4.6 0M287.3 395.5a2.3 2.3 0 1 0 4.6 0a2.3 2.3 0 1 0 -4.6 0M292.6 380a2.3 2.3 0 1 0 4.6 0a2.3 2.3 0 1 0 -4.6 0M289.6 395.3a2.3 2.3 0 1 0 4.6 0a2.3 2.3 0 1 0 -4.6 0M294.3 376.6a2.3 2.3 0 1 0 4.6 0a2.3 2.3 0 1 0 -4.6 0M289.2 396.8a2.3 2.3 0 1 0 4.6 0a2.3 2.3 0 1 0 -4.6 0M296.2 373.4a2.3 2.3 0 1 0 4.6 0a2.3 2.3 0 1 0 -4.6 0M290.7 391.6a2.3 2.3 0 1 0 4.6 0a2.3 2.3 0 1 0 -4.6 0M298.5 370.8a2.3 2.3 0 1 0 4.6 0a2.3 2.3 0 1 0 -4.6 0M292.7 388.1a2.3 2.3 0 1 0 4.6 0a2.3 2.3 0 1 0 -4.6 0M299.8 368.1a2.3 2.3 0 1 0 4.6 0a2.3 2.3 0 1 0 -4.6 0M295.1 384.9a2.3 2.3 0 1 0 4.6 0a2.3 2.3 0 1 0 -4.6 0M302.5 365.6a2.3 2.3 0 1 0 4.6 0a2.3 2.3 0 1 0 -4.6 0M296.4 381a2.3 2.3 0 1 0 4.6 0a2.3 2.3 0 1 0 -4.6 0M304.6 362.6a2.3 2.3 0 1 0 4.6 0a2.3 2.3 0 1 0 -4.6 0M298.6 378.2a2.3 2.3 0 1 0 4.6 0a2.3 2.3 0 1 0 -4.6 0M306.3 359.1a2.3 2.3 0 1 0 4.6 0a2.3 2.3 0 1 0 -4.6 0M300.2 375.1a2.3 2.3 0 1 0 4.6 0a2.3 2.3 0 1 0 -4.6 0M308.7 355.9a2.3 2.3 0 1 0 4.6 0a2.3 2.3 0 1 0 -4.6 0M302.5 372.4a2.3 2.3 0 1 0 4.6 0a2.3 2.3 0 1 0 -4.6 0M310.2 353.9a2.3 2.3 0 1 0 4.6 0a2.3 2.3 0 1 0 -4.6 0M304.9 369.4a2.3 2.3 0 1 0 4.6 0a2.3 2.3 0 1 0 -4.6 0M312.5 351.9a2.3 2.3 0 1 0 4.6 0a2.3 2.3 0 1 0 -4.6 0M306.7 366.5a2.3 2.3 0 1 0 4.6 0a2.3 2.3 0 1 0 -4.6 0M314.1 350.2a2.3 2.3 0 1 0 4.6 0a2.3 2.3 0 1 0 -4.6 0M308.6 363.4a2.3 2.3 0 1 0 4.6 0a2.3 2.3 0 1 0 -4.6 0M316 348.1a2.3 2.3 0 1 0 4.6 0a2.3 2.3 0 1 0 -4.6 0M311.3 361.7a2.3 2.3 0 1 0 4.6 0a2.3 2.3 0 1 0 -4.6 0M318 345.6a2.3 2.3 0 1 0 4.6 0a2.3 2.3 0 1 0 -4.6 0M313.5 359.4a2.3 2.3 0 1 0 4.6 0a2.3 2.3 0 1 0 -4.6 0M320.5 343.8a2.3 2.3 0 1 0 4.6 0a2.3 2.3 0 1 0 -4.6 0M315.4 357.2a2.3 2.3 0 1 0 4.6 0a2.3 2.3 0 1 0 -4.6 0M322.2 341.1a2.3 2.3 0 1 0 4.6 0a2.3 2.3 0 1 0 -4.6 0M317.3 354.8a2.3 2.3 0 1 0 4.6 0a2.3 2.3 0 1 0 -4.6 0M324.2 338.9a2.3 2.3 0 1 0 4.6 0a2.3 2.3 0 1 0 -4.6 0M318.7 352.3a2.3 2.3 0 1 0 4.6 0a2.3 2.3 0 1 0 -4.6 0M325.6 336.4a2.3 2.3 0 1 0 4.6 0a2.3 2.3 0 1 0 -4.6 0M321.2 350.7a2.3 2.3 0 1 0 4.6 0a2.3 2.3 0 1 0 -4.6 0M328.2 334.7a2.3 2.3 0 1 0 4.6 0a2.3 2.3 0 1 0 -4.6 0M323.1 348.7a2.3 2.3 0 1 0 4.6 0a2.3 2.3 0 1 0 -4.6 0M330 333.2a2.3 2.3 0 1 0 4.6 0a2.3 2.3 0 1 0 -4.6 0M325.6 347a2.3 2.3 0 1 0 4.6 0a2.3 2.3 0 1 0 -4.6 0M331.5 330.9a2.3 2.3 0 1 0 4.6 0a2.3 2.3 0 1 0 -4.6 0M327.2 345.1a2.3 2.3 0 1 0 4.6 0a2.3 2.3 0 1 0 -4.6 0M334.1 329.6a2.3 2.3 0 1 0 4.6 0a2.3 2.3 0 1 0 -4.6 0M329.3 343.2a2.3 2.3 0 1 0 4.6 0a2.3 2.3 0 1 0 -4.6 0M336.1 327.8a2.3 2.3 0 1 0 4.6 0a2.3 2.3 0 1 0 -4.6 0M331.7 342.2a2.3 2.3 0 1 0 4.6 0a2.3 2.3 0 1 0 -4.6 0M337.5 325.7a2.3 2.3 0 1 0 4.6 0a2.3 2.3 0 1 0 -4.6 0M333.5 340.5a2.3 2.3 0 1 0 4.6 0a2.3 2.3 0 1 0 -4.6 0M339.3 324.2a2.3 2.3 0 1 0 4.6 0a2.3 2.3 0 1 0 -4.6 0M335.4 338.8a2.3 2.3 0 1 0 4.6 0a2.3 2.3 0 1 0 -4.6 0M341.6 323.4a2.3 2.3 0 1 0 4.6 0a2.3 2.3 0 1 0 -4.6 0M337.3 337.9a2.3 2.3 0 1 0 4.6 0a2.3 2.3 0 1 0 -4.6 0M343.8 321.8a2.3 2.3 0 1 0 4.6 0a2.3 2.3 0 1 0 -4.6 0M339.3 335.9a2.3 2.3 0 1 0 4.6 0a2.3 2.3 0 1 0 -4.6 0M345.7 320a2.3 2.3 0 1 0 4.6 0a2.3 2.3 0 1 0 -4.6 0M341.2 334a2.3 2.3 0 1 0 4.6 0a2.3 2.3 0 1 0 -4.6 0M347.8 318.6a2.3 2.3 0 1 0 4.6 0a2.3 2.3 0 1 0 -4.6 0M343.5 332.8a2.3 2.3 0 1 0 4.6 0a2.3 2.3 0 1 0 -4.6 0M349.5 316.9a2.3 2.3 0 1 0 4.6 0a2.3 2.3 0 1 0 -4.6 0M345.3 331.3a2.3 2.3 0 1 0 4.6 0a2.3 2.3 0 1 0 -4.6 0M351.7 315.1a2.3 2.3 0 1 0 4.6 0a2.3 2.3 0 1 0 -4.6 0M347.1 329.7a2.3 2.3 0 1 0 4.6 0a2.3 2.3 0 1 0 -4.6 0M353.6 313.5a2.3 2.3 0 1 0 4.6 0a2.3 2.3 0 1 0 -4.6 0M348.4 327.2a2.3 2.3 0 1 0 4.6 0a2.3 2.3 0 1 0 -4.6 0M355.3 311.7a2.3 2.3 0 1 0 4.6 0a2.3 2.3 0 1 0 -4.6 0M351.1 325.6a2.3 2.3 0 1 0 4.6 0a2.3 2.3 0 1 0 -4.6 0M357.4 310.9a2.3 2.3 0 1 0 4.6 0a2.3 2.3 0 1 0 -4.6 0M353 323.8a2.3 2.3 0 1 0 4.6 0a2.3 2.3 0 1 0 -4.6 0M360 309.7a2.3 2.3 0 1 0 4.6 0a2.3 2.3 0 1 0 -4.6 0M355.2 321.8a2.3 2.3 0 1 0 4.6 0a2.3 2.3 0 1 0 -4.6 0M361.4 307.3a2.3 2.3 0 1 0 4.6 0a2.3 2.3 0 1 0 -4.6 0M356.8 319.3a2.3 2.3 0 1 0 4.6 0a2.3 2.3 0 1 0 -4.6 0M363.5 305.4a2.3 2.3 0 1 0 4.6 0a2.3 2.3 0 1 0 -4.6 0M359 317.3a2.3 2.3 0 1 0 4.6 0a2.3 2.3 0 1 0 -4.6 0M365.3 304.2a2.3 2.3 0 1 0 4.6 0a2.3 2.3 0 1 0 -4.6 0M361.6 315.4a2.3 2.3 0 1 0 4.6 0a2.3 2.3 0 1 0 -4.6 0M367.7 303.5a2.3 2.3 0 1 0 4.6 0a2.3 2.3 0 1 0 -4.6 0M363.7 313.8a2.3 2.3 0 1 0 4.6 0a2.3 2.3 0 1 0 -4.6 0M369.7 302.4a2.3 2.3 0 1 0 4.6 0a2.3 2.3 0 1 0 -4.6 0M365.2 311.9a2.3 2.3 0 1 0 4.6 0a2.3 2.3 0 1 0 -4.6 0M371.4 300a2.3 2.3 0 1 0 4.6 0a2.3 2.3 0 1 0 -4.6 0M367.7 310.7a2.3 2.3 0 1 0 4.6 0a2.3 2.3 0 1 0 -4.6 0M373.6 299.1a2.3 2.3 0 1 0 4.6 0a2.3 2.3 0 1 0 -4.6 0M369.1 308.2a2.3 2.3 0 1 0 4.6 0a2.3 2.3 0 1 0 -4.6 0M375.6 297.4a2.3 2.3 0 1 0 4.6 0a2.3 2.3 0 1 0 -4.6 0M371.2 306.6a2.3 2.3 0 1 0 4.6 0a2.3 2.3 0 1 0 -4.6 0M377.9 295.2a2.3 2.3 0 1 0 4.6 0a2.3 2.3 0 1 0 -4.6 0M373.1 304.9a2.3 2.3 0 1 0 4.6 0a2.3 2.3 0 1 0 -4.6 0M379.4 293.5a2.3 2.3 0 1 0 4.6 0a2.3 2.3 0 1 0 -4.6 0M375.4 303.5a2.3 2.3 0 1 0 4.6 0a2.3 2.3 0 1 0 -4.6 0M381.7 292.4a2.3 2.3 0 1 0 4.6 0a2.3 2.3 0 1 0 -4.6 0M378 302.5a2.3 2.3 0 1 0 4.6 0a2.3 2.3 0 1 0 -4.6 0M383.7 290.9a2.3 2.3 0 1 0 4.6 0a2.3 2.3 0 1 0 -4.6 0M379.4 300.6a2.3 2.3 0 1 0 4.6 0a2.3 2.3 0 1 0 -4.6 0M385.1 289.9a2.3 2.3 0 1 0 4.6 0a2.3 2.3 0 1 0 -4.6 0M381.5 300.1a2.3 2.3 0 1 0 4.6 0a2.3 2.3 0 1 0 -4.6 0M387.3 288.8a2.3 2.3 0 1 0 4.6 0a2.3 2.3 0 1 0 -4.6 0M383.4 298.8a2.3 2.3 0 1 0 4.6 0a2.3 2.3 0 1 0 -4.6 0M389.2 287.4a2.3 2.3 0 1 0 4.6 0a2.3 2.3 0 1 0 -4.6 0M385.6 296.8a2.3 2.3 0 1 0 4.6 0a2.3 2.3 0 1 0 -4.6 0M391.8 286.3a2.3 2.3 0 1 0 4.6 0a2.3 2.3 0 1 0 -4.6 0M387.9 295.4a2.3 2.3 0 1 0 4.6 0a2.3 2.3 0 1 0 -4.6 0M393.5 284.3a2.3 2.3 0 1 0 4.6 0a2.3 2.3 0 1 0 -4.6 0M389.8 294.3a2.3 2.3 0 1 0 4.6 0a2.3 2.3 0 1 0 -4.6 0M394.6 283.8a2.3 2.3 0 1 0 4.6 0a2.3 2.3 0 1 0 -4.6 0M392.5 293a2.3 2.3 0 1 0 4.6 0a2.3 2.3 0 1 0 -4.6 0M395.9 283.1a2.3 2.3 0 1 0 4.6 0a2.3 2.3 0 1 0 -4.6 0M394.7 292.3a2.3 2.3 0 1 0 4.6 0a2.3 2.3 0 1 0 -4.6 0M398.3 283.4a2.3 2.3 0 1 0 4.6 0a2.3 2.3 0 1 0 -4.6 0M396.6 291.8a2.3 2.3 0 1 0 4.6 0a2.3 2.3 0 1 0 -4.6 0M401.7 282a2.3 2.3 0 1 0 4.6 0a2.3 2.3 0 1 0 -4.6 0M398 291.3a2.3 2.3 0 1 0 4.6 0a2.3 2.3 0 1 0 -4.6 0M403.4 280.4a2.3 2.3 0 1 0 4.6 0a2.3 2.3 0 1 0 -4.6 0M399.8 290a2.3 2.3 0 1 0 4.6 0a2.3 2.3 0 1 0 -4.6 0M405.1 279.2a2.3 2.3 0 1 0 4.6 0a2.3 2.3 0 1 0 -4.6 0M402 289.2a2.3 2.3 0 1 0 4.6 0a2.3 2.3 0 1 0 -4.6 0M407.4 277.9a2.3 2.3 0 1 0 4.6 0a2.3 2.3 0 1 0 -4.6 0M403.6 287.6a2.3 2.3 0 1 0 4.6 0a2.3 2.3 0 1 0 -4.6 0M409 276.5a2.3 2.3 0 1 0 4.6 0a2.3 2.3 0 1 0 -4.6 0M405.8 286.4a2.3 2.3 0 1 0 4.6 0a2.3 2.3 0 1 0 -4.6 0M410.2 276.4a2.3 2.3 0 1 0 4.6 0a2.3 2.3 0 1 0 -4.6 0M408.2 284.6a2.3 2.3 0 1 0 4.6 0a2.3 2.3 0 1 0 -4.6 0M412.2 275.3a2.3 2.3 0 1 0 4.6 0a2.3 2.3 0 1 0 -4.6 0M410.6 284.4a2.3 2.3 0 1 0 4.6 0a2.3 2.3 0 1 0 -4.6 0M439.8 267.9a2.3 2.3 0 1 0 4.6 0a2.3 2.3 0 1 0 -4.6 0M433 271.8a2.3 2.3 0 1 0 4.6 0a2.3 2.3 0 1 0 -4.6 0M427.3 280.6a2.3 2.3 0 1 0 4.6 0a2.3 2.3 0 1 0 -4.6 0M414.3 285.3a2.3 2.3 0 1 0 4.6 0a2.3 2.3 0 1 0 -4.6 0M420 281.7a2.3 2.3 0 1 0 4.6 0a2.3 2.3 0 1 0 -4.6 0M423.7 280.5a2.3 2.3 0 1 0 4.6 0a2.3 2.3 0 1 0 -4.6 0M416.2 284a2.3 2.3 0 1 0 4.6 0a2.3 2.3 0 1 0 -4.6 0M429.7 277a2.3 2.3 0 1 0 4.6 0a2.3 2.3 0 1 0 -4.6 0M422.7 283a2.3 2.3 0 1 0 4.6 0a2.3 2.3 0 1 0 -4.6 0M426.6 279.4a2.3 2.3 0 1 0 4.6 0a2.3 2.3 0 1 0 -4.6 0M415.6 282.6a2.3 2.3 0 1 0 4.6 0a2.3 2.3 0 1 0 -4.6 0M421.2 282.5a2.3 2.3 0 1 0 4.6 0a2.3 2.3 0 1 0 -4.6 0M425.3 277.1a2.3 2.3 0 1 0 4.6 0a2.3 2.3 0 1 0 -4.6 0M430.3 274a2.3 2.3 0 1 0 4.6 0a2.3 2.3 0 1 0 -4.6 0M419.1 282.5a2.3 2.3 0 1 0 4.6 0a2.3 2.3 0 1 0 -4.6 0M413.7 282.8a2.3 2.3 0 1 0 4.6 0a2.3 2.3 0 1 0 -4.6 0" stroke="#40E0D0" stroke-width="1.25" fill="none"/>
<path d="M285.8 393.4L286.6 387.8L287.4 386.1L288.2 384.5L289 383.2L289.8 381.9L290.6 380.9L291.4 379.6L292.2 378.3L293 377.3L293.8 375.9L294.6 374.3L295.5 373.2L296.3 372.1L297.1 371L297.9 370L298.7 369.2L299.5 368.1L300.3 367L301.1 365.9L301.9 365.4L302.7 363.9L303.5 362.3L304.3 360.8L305.1 360.3L305.9 358.4L306.7 357.5L307.5 355.7L308.3 354.8L309.1 353.3L309.9 352.9L310.7 351.6L311.5 350.6L312.3 349.8L313.1 349.5L314 349L314.8 348L315.6 347.3L316.4 346.3L317.2 345.6L318 344.6L318.8 344.4L319.6 342.7L320.4 342.2L321.2 341.1L322 340L322.8 339.2L323.6 338.6L324.4 337L325.2 335.9L326 335.5L326.8 334.7L327.6 333.8L328.4 332.8L329.2 332.6L330 331.2L330.8 330.5L331.6 329.9L332.5 329.4L333.3 328.6L334.1 328L334.9 327.4L335.7 326.8L336.5 325.8L337.3 324.7L338.1 324.7L338.9 323.5L339.7 323.1L340.5 322.4L341.3 322.1L342.1 321.7L342.9 320.5L343.7 320L344.5 319.8L345.3 319.1L346.1 317.9L346.9 317.7L347.7 317.2L348.5 316.2L349.3 315.3L350.1 315.1L351 314.2L351.8 313.4L352.6 312.7L353.4 312.3L354.2 311.4L355 311L355.8 310.5L356.6 310L357.4 309.3L358.2 309.1L359 308L359.8 307.6L360.6 307.5L361.4 306.7L362.2 306L363 305.2L363.8 304.3L364.6 303.8L365.4 302.9L366.2 302.1L367 301.6L367.8 301L368.7 301.1L369.5 300.1L370.3 299.7L371.1 299.2L371.9 298.3L372.7 298.2L373.5 297.6L374.3 297L375.1 296.5L375.9 295.4L376.7 294.6L377.5 294.4L378.3 293.6L379.1 292.7L379.9 291.9L380.7 291.2L381.5 291.1L382.3 290.3L383.1 290L383.9 289L384.7 288.4L385.5 288L386.3 287.7L387.2 287.3L388 286.4L388.8 286.1L389.6 285.4L390.4 285.3L391.2 284.6L392 283.9L392.8 283.1L393.6 282.5L394.4 282.4L395.2 281.7L396 281.1L396.8 280.8L397.6 280.7L398.4 281.2L399.2 280.3L400 280.7L400.8 280.2L401.6 279.7L402.4 279.2L403.2 278.7L404 278.3L404.8 277.5L405.7 277.6L406.5 276.5L407.3 275.9L408.1 275.8L408.9 275.3L409.7 274.9L410.5 274.3L411.3 274.2L412.1 273.3L412.9 273.1L413.7 273.1L414.5 273.3L414.5 282.5L413.7 282.3L412.9 282.7L412.1 282.8L411.3 282.8L410.5 283.4L409.7 283.9L408.9 284L408.1 284L407.3 284.3L406.5 284.8L405.7 285.4L404.8 285.6L404 285.9L403.2 287.1L402.4 287.5L401.6 287.9L400.8 288.1L400 289.1L399.2 288.9L398.4 290L397.6 290L396.8 290.4L396 291.3L395.2 291.5L394.4 292L393.6 292.4L392.8 292.1L392 292.9L391.2 293.5L390.4 293.2L389.6 294.6L388.8 295.2L388 296.3L387.2 297.5L386.3 298.9L385.5 300.2L384.7 300.9L383.9 301.7L383.1 301.7L382.3 303L381.5 303.3L380.7 303.3L379.9 304.3L379.1 304.8L378.3 306.2L377.5 307.2L376.7 307.5L375.9 308.3L375.1 309.3L374.3 310.1L373.5 311.2L372.7 311.3L371.9 312.2L371.1 312.6L370.3 313.9L369.5 314.1L368.7 314.4L367.8 314.3L367 315.1L366.2 315L365.4 315.9L364.6 316.4L363.8 317.6L363 318.5L362.2 319.7L361.4 320.6L360.6 320.9L359.8 322L359 323.3L358.2 324.4L357.4 325.1L356.6 325.8L355.8 326.7L355 327.7L354.2 328.6L353.4 330.1L352.6 330.7L351.8 331.8L351 333.1L350.1 333.8L349.3 334.1L348.5 334.6L347.7 334.9L346.9 335.4L346.1 335.8L345.3 336.6L344.5 337.2L343.7 338.1L342.9 338.9L342.1 340.1L341.3 340.8L340.5 342.2L339.7 343L338.9 344.2L338.1 345.1L337.3 346L336.5 346L335.7 346.7L334.9 347.1L334.1 348.2L333.3 349L332.5 349.4L331.6 350.2L330.8 350.9L330 350.9L329.2 351.5L328.4 351.6L327.6 351.9L326.8 352.7L326 352.8L325.2 353.3L324.4 353.8L323.6 354.3L322.8 354.7L322 355.2L321.2 356.4L320.4 357L319.6 357.9L318.8 358.7L318 359.3L317.2 360.5L316.4 361.6L315.6 362.9L314.8 363.6L314 364.5L313.1 366.1L312.3 366.7L311.5 367.7L310.7 368.9L309.9 369.9L309.1 370.3L308.3 371.7L307.5 372.6L306.7 373.5L305.9 375.3L305.1 375.6L304.3 376.8L303.5 377.4L302.7 378.5L301.9 379.5L301.1 380.2L300.3 380.9L299.5 382.2L298.7 382.7L297.9 384L297.1 384.9L296.3 386.3L295.5 387.1L294.6 387.9L293.8 388.7L293 390.3L292.2 391.2L291.4 392.3L290.6 392.8L289.8 393.3L289 394.3L288.2 395.3L287.4 395.2L286.6 395.7L285.8 396.4 Z" fill="#FFA500"/>
<path d="M284.4 393.3l2.9 2.9m0 -2.9l-2.9 2.9M288.9 385.5l2.9 2.9m0 -2.9l-2.9 2.9M285.2 392l2.9 2.9m0 -2.9l-2.9 2.9M289.9 382.4l2.9 2.9m0 -2.9l-2.9 2.9M285.5 390.8l2.9 2.9m0 -2.9l-2.9 2.9M292.4 380.1l2.9 2.9m0 -2.9l-2.9 2.9M287.5 389.9l2.9 2.9m0 -2.9l-2.9 2.9M293.7 377.4l2.9 2.9m0 -2.9l-2.9 2.9M288.9 388.2l2.9 2.9m0 -2.9l-2.9 2.9M295.3 375l2.9 2.9m0 -2.9l-2.9 2.9M291 385.7l2.9 2.9m0 -2.9l-2.9 2.9M297.6 372.7l2.9 2.9m0 -2.9l-2.9 2.9M292.1 384l2.9 2.9m0 -2.9l-2.9 2.9M299 370.2l2.9 2.9m0 -2.9l-2.9 2.9M293.7 381.5l2.9 2.9m0 -2.9l-2.9 2.9M300 368.1l2.9 2.9m0 -2.9l-2.9 2.9M295.9 379.1l2.9 2.9m0 -2.9l-2.9 2.9M301.6 365.8l2.9 2.9m0 -2.9l-2.9 2.9M297 377.2l2.9 2.9m0 -2.9l-2.9 2.9M303.6 363l2.9 2.9m0 -2.9l-2.9 2.9M298.6 375.1l2.9 2.9m0 -2.9l-2.9 2.9M305.4 360.4l2.9 2.9m0 -2.9l-2.9 2.9M301 373.8l2.9 2.9m0 -2.9l-2.9 2.9M307.4 357.8l2.9 2.9m0 -2.9l-2.9 2.9M301.9 371.6l2.9 2.9m0 -2.9l-2.9 2.9M308.7 354.7l2.9 2.9m0 -2.9l-2.9 2.9M304.3 369.5l2.9 2.9m0 -2.9l-2.9 2.9M310.2 352.7l2.9 2.9m0 -2.9l-2.9 2.9M305.6 367l2.9 2.9m0 -2.9l-2.9 2.9M311.8 351l2.9 2.9m0 -2.9l-2.9 2.9M307.3 365l2.9 2.9m0 -2.9l-2.9 2.9M313.7 349.6l2.9 2.9m0 -2.9l-2.9 2.9M309 363.3l2.9 2.9m0 -2.9l-2.9 2.9M315 348l2.9 2.9m0 -2.9l-2.9 2.9M311 361.1l2.9 2.9m0 -2.9l-2.9 2.9M317.3 347.3l2.9 2.9m0 -2.9l-2.9 2.9M312.4 358.7l2.9 2.9m0 -2.9l-2.9 2.9M319.2 344.9l2.9 2.9m0 -2.9l-2.9 2.9M314.8 356.3l2.9 2.9m0 -2.9l-2.9 2.9M321 343.2l2.9 2.9m0 -2.9l-2.9 2.9M315.8 354.1l2.9 2.9m0 -2.9l-2.9 2.9M322.7 340.9l2.9 2.9m0 -2.9l-2.9 2.9M318.3 352.8l2.9 2.9m0 -2.9l-2.9 2.9M324.3 339l2.9 2.9m0 -2.9l-2.9 2.9M320.1 351.4l2.9 2.9m0 -2.9l-2.9 2.9M326.1 336.8l2.9 2.9m0 -2.9l-2.9 2.9M321.6 349.5l2.9 2.9m0 -2.9l-2.9 2.9M326.6 334.7l2.9 2.9m0 -2.9l-2.9 2.9M324.3 349.5l2.9 2.9m0 -2.9l-2.9 2.9M328.6 333l2.9 2.9m0 -2.9l-2.9 2.9M325.6 348.2l2.9 2.9m0 -2.9l-2.9 2.9M330.8 332.2l2.9 2.9m0 -2.9l-2.9 2.9M326.4 347.3l2.9 2.9m0 -2.9l-2.9 2.9M332.4 330.4l2.9 2.9m0 -2.9l-2.9 2.9M328.8 346.7l2.9 2.9m0 -2.9l-2.9 2.9M333.5 328.4l2.9 2.9m0 -2.9l-2.9 2.9M330.5 345.4l2.9 2.9m0 -2.9l-2.9 2.9M335.4 327.3l2.9 2.9m0 -2.9l-2.9 2.9M332.1 344.1l2.9 2.9m0 -2.9l-2.9 2.9M337.3 326.1l2.9 2.9m0 -2.9l-2.9 2.9M333.3 342.5l2.9 2.9m0 -2.9l-2.9 2.9M338.8 324.6l2.9 2.9m0 -2.9l-2.9 2.9M335 341.5l2.9 2.9m0 -2.9l-2.9 2.9M341.1 323.7l2.9 2.9m0 -2.9l-2.9 2.9M336.3 339.2l2.9 2.9m0 -2.9l-2.9 2.9M341.8 321.7l2.9 2.9m0 -2.9l-2.9 2.9M338 337l2.9 2.9m0 -2.9l-2.9 2.9M344 320.8l2.9 2.9m0 -2.9l-2.9 2.9M340.3 335.4l2.9 2.9m0 -2.9l-2.9 2.9M345.5 319.4l2.9 2.9m0 -2.9l-2.9 2.9M342 333.3l2.9 2.9m0 -2.9l-2.9 2.9M347.5 317.6l2.9 2.9m0 -2.9l-2.9 2.9M344 331.6l2.9 2.9m0 -2.9l-2.9 2.9M348.8 316.1l2.9 2.9m0 -2.9l-2.9 2.9M346.1 331.3l2.9 2.9m0 -2.9l-2.9 2.9M351.2 315.4l2.9 2.9m0 -2.9l-2.9 2.9M346.4 330l2.9 2.9m0 -2.9l-2.9 2.9M352 313.4l2.9 2.9m0 -2.9l-2.9 2.9M348.2 328.2l2.9 2.9m0 -2.9l-2.9 2.9M354.1 312.5l2.9 2.9m0 -2.9l-2.9 2.9M349.5 326.2l2.9 2.9m0 -2.9l-2.9 2.9M355.4 311l2.9 2.9m0 -2.9l-2.9 2.9M351.3 324.1l2.9 2.9m0 -2.9l-2.9 2.9M357.8 310.3l2.9 2.9m0 -2.9l-2.9 2.9M353.6 322.3l2.9 2.9m0 -2.9l-2.9 2.9M359.6 309.1l2.9 2.9m0 -2.9l-2.9 2.9M354.5 320l2.9 2.9m0 -2.9l-2.9 2.9M361.1 307.7l2.9 2.9m0 -2.9l-2.9 2.9M356.9 318.5l2.9 2.9m0 -2.9l-2.9 2.9M363 306.4l2.9 2.9m0 -2.9l-2.9 2.9M358.4 316.4l2.9 2.9m0 -2.9l-2.9 2.9M364.9 304.9l2.9 2.9m0 -2.9l-2.9 2.9M360.1 314.2l2.9 2.9m0 -2.9l-2.9 2.9M366.1 303.5l2.9 2.9m0 -2.9l-2.9 2.9M362.8 312.1l2.9 2.9m0 -2.9l-2.9 2.9M367.9 302.4l2.9 2.9m0 -2.9l-2.9 2.9M365.1 311.3l2.9 2.9m0 -2.9l-2.9 2.9M369.5 301.3l2.9 2.9m0 -2.9l-2.9 2.9M366.6 310.5l2.9 2.9m0 -2.9l-2.9 2.9M370.6 299.5l2.9 2.9m0 -2.9l-2.9 2.9M367.4 310l2.9 2.9m0 -2.9l-2.9 2.9M372.7 298.2l2.9 2.9m0 -2.9l-2.9 2.9M368.9 308.3l2.9 2.9m0 -2.9l-2.9 2.9M374.5 297.1l2.9 2.9m0 -2.9l-2.9 2.9M370.6 306.7l2.9 2.9m0 -2.9l-2.9 2.9M376.3 295.7l2.9 2.9m0 -2.9l-2.9 2.9M372.2 305.7l2.9 2.9m0 -2.9l-2.9 2.9M378.1 294.1l2.9 2.9m0 -2.9l-2.9 2.9M374.1 303.7l2.9 2.9m0 -2.9l-2.9 2.9M379.5 292.7l2.9 2.9m0 -2.9l-2.9 2.9M375.3 301.9l2.9 2.9m0 -2.9l-2.9 2.9M381.2 291.6l2.9 2.9m0 -2.9l-2.9 2.9M378.1 300.1l2.9 2.9m0 -2.9l-2.9 2.9M383.2 290.6l2.9 2.9m0 -2.9l-2.9 2.9M379.7 298.8l2.9 2.9m0 -2.9l-2.9 2.9M384.3 289.2l2.9 2.9m0 -2.9l-2.9 2.9M381.1 297.3l2.9 2.9m0 -2.9l-2.9 2.9M385.8 287.9l2.9 2.9m0 -2.9l-2.9 2.9M382.5 296.8l2.9 2.9m0 -2.9l-2.9 2.9M387.4 286.8l2.9 2.9m0 -2.9l-2.9 2.9M383.6 294.2l2.9 2.9m0 -2.9l-2.9 2.9M389.4 285.9l2.9 2.9m0 -2.9l-2.9 2.9M385.5 292l2.9 2.9m0 -2.9l-2.9 2.9M391.2 284.7l2.9 2.9m0 -2.9l-2.9 2.9M388.7 289.7l2.9 2.9m0 -2.9l-2.9 2.9M393 283.5l2.9 2.9m0 -2.9l-2.9 2.9M390.8 289.3l2.9 2.9m0 -2.9l-2.9 2.9M395.1 282.6l2.9 2.9m0 -2.9l-2.9 2.9M392.1 288.7l2.9 2.9m0 -2.9l-2.9 2.9M395.4 282.3l2.9 2.9m0 -2.9l-2.9 2.9M393.7 287.7l2.9 2.9m0 -2.9l-2.9 2.9M396.9 282l2.9 2.9m0 -2.9l-2.9 2.9M395.1 286.4l2.9 2.9m0 -2.9l-2.9 2.9M398.6 280.8l2.9 2.9m0 -2.9l-2.9 2.9M396.8 285.3l2.9 2.9m0 -2.9l-2.9 2.9M401.6 280.6l2.9 2.9m0 -2.9l-2.9 2.9M398.2 284.5l2.9 2.9m0 -2.9l-2.9 2.9M403.1 279l2.9 2.9m0 -2.9l-2.9 2.9M400.1 283l2.9 2.9m0 -2.9l-2.9 2.9M404.8 278l2.9 2.9m0 -2.9l-2.9 2.9M401.9 282.6l2.9 2.9m0 -2.9l-2.9 2.9M406.7 277l2.9 2.9m0 -2.9l-2.9 2.9M404 281l2.9 2.9m0 -2.9l-2.9 2.9M408.6 276.1l2.9 2.9m0 -2.9l-2.9 2.9M405.8 280.9l2.9 2.9m0 -2.9l-2.9 2.9M410 275.2l2.9 2.9m0 -2.9l-2.9 2.9M407.2 280.1l2.9 2.9m0 -2.9l-2.9 2.9M410.7 274.9l2.9 2.9m0 -2.9l-2.9 2.9M409.4 279.9l2.9 2.9m0 -2.9l-2.9 2.9M412.6 274.3l2.9 2.9m0 -2.9l-2.9 2.9M411.4 279l2.9 2.9m0 -2.9l-2.9 2.9" stroke="#FFA500" stroke-width="1.55" fill="none"/>
<path d="M444.8 257.2l3.1 3.1m0 -3.1l-3.1 3.1M445.8 264.1l3.1 3.1m0 -3.1l-3.1 3.1M436.3 258.6l3.1 3.1m0 -3.1l-3.1 3.1M433.9 263.8l3.1 3.1m0 -3.1l-3.1 3.1M429.1 261.9l3.1 3.1m0 -3.1l-3.1 3.1M425.9 265.1l3.1 3.1m0 -3.1l-3.1 3.1M422.3 267.1l3.1 3.1m0 -3.1l-3.1 3.1M433.2 269.8l3.1 3.1m0 -3.1l-3.1 3.1M430.6 272.3l3.1 3.1m0 -3.1l-3.1 3.1M415.6 270.8l3.1 3.1m0 -3.1l-3.1 3.1M425.4 274.4l3.1 3.1m0 -3.1l-3.1 3.1M420.8 274.9l3.1 3.1m0 -3.1l-3.1 3.1M411.9 273.3l3.1 3.1m0 -3.1l-3.1 3.1M414.1 278.6l3.1 3.1m0 -3.1l-3.1 3.1M406.8 275.4l3.1 3.1m0 -3.1l-3.1 3.1M418.4 269.4l3.1 3.1m0 -3.1l-3.1 3.1M417.6 269.6l3.1 3.1m0 -3.1l-3.1 3.1M423.8 265.7l3.1 3.1m0 -3.1l-3.1 3.1M421.6 269.8l3.1 3.1m0 -3.1l-3.1 3.1M412.6 275l3.1 3.1m0 -3.1l-3.1 3.1M412.2 274.6l3.1 3.1m0 -3.1l-3.1 3.1M412.8 271.5l3.1 3.1m0 -3.1l-3.1 3.1M419.5 275.2l3.1 3.1m0 -3.1l-3.1 3.1M413.8 272.1l3.1 3.1m0 -3.1l-3.1 3.1M423.4 275.1l3.1 3.1m0 -3.1l-3.1 3.1M422.4 269.8l3.1 3.1m0 -3.1l-3.1 3.1M430 262.2l3.1 3.1m0 -3.1l-3.1 3.1M427.8 266.2l3.1 3.1m0 -3.1l-3.1 3.1M414.2 271l3.1 3.1m0 -3.1l-3.1 3.1M417.3 275.9l3.1 3.1m0 -3.1l-3.1 3.1M414.9 274.7l3.1 3.1m0 -3.1l-3.1 3.1M423.6 269l3.1 3.1m0 -3.1l-3.1 3.1M409 272.7l3.1 3.1m0 -3.1l-3.1 3.1M403.2 275.7l3.1 3.1m0 -3.1l-3.1 3.1M410.6 275l3.1 3.1m0 -3.1l-3.1 3.1M406.2 277.5l3.1 3.1m0 -3.1l-3.1 3.1M407.9 274.9l3.1 3.1m0 -3.1l-3.1 3.1M337.4 342l3.1 3.1m0 -3.1l-3.1 3.1M362.6 317.9l3.1 3.1m0 -3.1l-3.1 3.1M342.7 336.9l3.1 3.1m0 -3.1l-3.1 3.1M322.9 351.9l3.1 3.1m0 -3.1l-3.1 3.1M336.3 343.8l3.1 3.1m0 -3.1l-3.1 3.1M361.6 316.6l3.1 3.1m0 -3.1l-3.1 3.1M319.7 356.8l3.1 3.1m0 -3.1l-3.1 3.1M345.9 333.5l3.1 3.1m0 -3.1l-3.1 3.1M346.7 332.7l3.1 3.1m0 -3.1l-3.1 3.1" stroke="#FFA500" stroke-width="1.75" fill="none"/>
<path d="M287.6 380.9L437.5 246.7" stroke="#000" stroke-width="1.85" stroke-linecap="round" fill="none"/>
</g>
<rect x="282.4" y="247.5" width="174.2" height="150.7" fill="none" stroke="#6e6e6e" stroke-width="1.1"/>
<text transform="translate(311.7 415.7) scale(0.9 1)" text-anchor="middle" class="tk">0.02</text>
<text transform="translate(368.3 415.7) scale(0.9 1)" text-anchor="middle" class="tk">0.04</text>
<text transform="translate(424.8 415.7) scale(0.9 1)" text-anchor="middle" class="tk">0.06</text>
<text transform="translate(276 359) rotate(-90) scale(0.9 1)" text-anchor="middle" class="tk">0.02</text>
<text transform="translate(276 308.7) rotate(-90) scale(0.9 1)" text-anchor="middle" class="tk">0.04</text>
<text transform="translate(276 258.4) rotate(-90) scale(0.9 1)" text-anchor="middle" class="tk">0.06</text>
<text x="325" y="430.9" class="ax" style="font-size:17.3px" textLength="81.8" lengthAdjust="spacingAndGlyphs">True values</text>
<text transform="translate(261 376.1) rotate(-90)" class="ax" textLength="116.1" lengthAdjust="spacingAndGlyphs">Predicted values</text>
<text x="239.7" y="242.2" class="lab">(e)</text>
<g class="ti">
<g transform="translate(287.6 274) scale(1.033 1.02)">
<text x="0" y="0" style="font-size:20px">Tr</text>
<text transform="translate(20.7 1.2) scale(0.8 1)" style="font-size:24px">[</text>
<text x="26.3" y="0.2" class="it" style="font-size:20.5px">&#961;</text>
<text transform="translate(34.8 -8.5) scale(1.28 1)" style="font-size:12.5px">4</text>
<text transform="translate(35.0 4.8) scale(1.17 1)" style="font-size:14px">in</text>
<text transform="translate(47.9 1.2) scale(0.8 1)" style="font-size:24px">]</text>
</g>
</g>
<clipPath id="clip5"><rect x="512.5" y="246.5" width="168.8" height="152.9"/></clipPath>
<path d="M513.3 246.5V399.4M534.5 246.5V399.4M555.7 246.5V399.4M576.9 246.5V399.4M598.1 246.5V399.4M619.3 246.5V399.4M640.5 246.5V399.4M661.7 246.5V399.4M512.5 391.2H681.3M512.5 370.6H681.3M512.5 349.9H681.3M512.5 329.3H681.3M512.5 308.7H681.3M512.5 288H681.3M512.5 267.4H681.3" stroke="#b2b2b2" stroke-width="0.8" stroke-dasharray="1.3 1.9" fill="none"/>
<g clip-path="url(#clip5)">
<path d="M526.3 393.7L527.1 385.2L527.9 378.5L528.7 376L529.5 374.5L530.3 373.3L531.1 372.2L531.9 371.2L532.7 370.5L533.5 369.1L534.3 367.4L535.1 366.3L535.9 365.4L536.7 364.1L537.5 362.4L538.3 361.2L539.1 360.3L539.9 359.1L540.7 357.4L541.5 356.8L542.3 355.2L543.1 354.3L543.9 353.1L544.7 351.8L545.5 351.2L546.3 349.7L547.1 348.7L547.9 347.8L548.7 347L549.5 346.1L550.3 344.9L551.1 343.6L551.9 342.7L552.7 341.6L553.5 340.8L554.3 339.7L555.1 338.5L555.9 337.2L556.7 336.7L557.5 335.8L558.3 334.9L559.1 334.5L559.9 333.2L560.7 332.8L561.5 331.9L562.3 331L563.1 330.4L563.9 329.6L564.7 329.1L565.5 328.3L566.3 327.6L567.1 326.6L567.9 326.4L568.7 325.7L569.5 325.5L570.3 324.6L571.1 323.9L571.9 322.9L572.7 322.6L573.5 322L574.3 321.2L575.1 320.4L575.9 319.9L576.7 318.7L577.5 317.9L578.3 317.2L579.1 316.2L580 315.5L580.8 314.7L581.6 313.8L582.4 312.8L583.2 311.9L584 311.5L584.8 311L585.6 309.8L586.4 309.4L587.2 308.9L588 308.7L588.8 308.1L589.6 307.8L590.4 306.7L591.2 306.1L592 305.5L592.8 305L593.6 304.4L594.4 303.8L595.2 303.6L596 302.6L596.8 302.1L597.6 301.9L598.4 301L599.2 300.4L600 300.1L600.8 299.2L601.6 298.5L602.4 298.8L603.2 298.1L604 297.7L604.8 296.8L605.6 297L606.4 296.2L607.2 296L608 295.2L608.8 295.3L609.6 294.4L610.4 293.9L611.2 293.9L612 292.9L612.8 292.5L613.6 292.2L614.4 292.1L615.2 290.9L616 290.6L616.8 290.6L617.6 289.7L618.4 289.5L619.2 289.4L620 289L620.8 288.6L621.6 287.7L622.4 287.9L623.2 287.1L624 287L624.8 286.3L625.6 286.3L626.4 285.6L627.2 285.1L628 284.7L628.8 284.6L629.6 284L630.4 283.9L631.2 284.4L632 284L632 299.4L631.2 299.9L630.4 300.4L629.6 300.5L628.8 301.1L628 301L627.2 301L626.4 301.6L625.6 302L624.8 302.4L624 302.3L623.2 302.9L622.4 303.4L621.6 303.5L620.8 303.5L620 304.3L619.2 304.6L618.4 304.8L617.6 305.6L616.8 306.1L616 306.5L615.2 306.5L614.4 307.4L613.6 308L612.8 308.2L612 308.5L611.2 309.2L610.4 309.7L609.6 310.9L608.8 311.1L608 311.9L607.2 312.3L606.4 313.1L605.6 314.3L604.8 314.2L604 315L603.2 315.4L602.4 315.3L601.6 316.4L600.8 316.8L600 316.5L599.2 317.1L598.4 317.5L597.6 318.3L596.8 318.6L596 319.1L595.2 319.2L594.4 319.6L593.6 320.8L592.8 321.4L592 322.1L591.2 323.5L590.4 323.7L589.6 324.4L588.8 325.2L588 326.2L587.2 327.3L586.4 328.3L585.6 329.1L584.8 329.8L584 330L583.2 330.6L582.4 331.8L581.6 332.4L580.8 333L580 334.1L579.1 334.4L578.3 335.1L577.5 336.2L576.7 336.3L575.9 337.3L575.1 337.9L574.3 339.9L573.5 341.7L572.7 343.2L571.9 344.7L571.1 346.1L570.3 347L569.5 348.8L568.7 349.5L567.9 351.2L567.1 352.2L566.3 354L565.5 354.8L564.7 355.9L563.9 355.6L563.1 356.6L562.3 357.2L561.5 357.1L560.7 357.8L559.9 358.4L559.1 359.1L558.3 359.3L557.5 359.4L556.7 359.8L555.9 360.7L555.1 361.4L554.3 361.4L553.5 362.1L552.7 363L551.9 363.4L551.1 364L550.3 364.9L549.5 364.9L548.7 365.9L547.9 366.7L547.1 367.7L546.3 368.9L545.5 369.6L544.7 370.5L543.9 372.3L543.1 373.3L542.3 374.5L541.5 375.7L540.7 377.4L539.9 379.4L539.1 381.1L538.3 382.7L537.5 383.7L536.7 386L535.9 387.2L535.1 388.8L534.3 390.8L533.5 392.9L532.7 395.1L531.9 397.3L531.1 399.3L530.3 399.8L529.5 399.9L528.7 399.6L527.9 399.6L527.1 399.9L526.3 399.3 Z" fill="#40E0D0"/>
<path d="M526.9 393.6a2.3 2.3 0 1 0 4.6 0a2.3 2.3 0 1 0 -4.6 0M524.1 396.8a2.3 2.3 0 1 0 4.6 0a2.3 2.3 0 1 0 -4.6 0M529.6 378.2a2.3 2.3 0 1 0 4.6 0a2.3 2.3 0 1 0 -4.6 0M525.9 396.5a2.3 2.3 0 1 0 4.6 0a2.3 2.3 0 1 0 -4.6 0M530.6 375a2.3 2.3 0 1 0 4.6 0a2.3 2.3 0 1 0 -4.6 0M527.8 396.6a2.3 2.3 0 1 0 4.6 0a2.3 2.3 0 1 0 -4.6 0M533.1 372.3a2.3 2.3 0 1 0 4.6 0a2.3 2.3 0 1 0 -4.6 0M526.7 395.8a2.3 2.3 0 1 0 4.6 0a2.3 2.3 0 1 0 -4.6 0M535.4 369.4a2.3 2.3 0 1 0 4.6 0a2.3 2.3 0 1 0 -4.6 0M528.2 390.1a2.3 2.3 0 1 0 4.6 0a2.3 2.3 0 1 0 -4.6 0M536.6 365.9a2.3 2.3 0 1 0 4.6 0a2.3 2.3 0 1 0 -4.6 0M531.5 385.7a2.3 2.3 0 1 0 4.6 0a2.3 2.3 0 1 0 -4.6 0M539 362.9a2.3 2.3 0 1 0 4.6 0a2.3 2.3 0 1 0 -4.6 0M533.1 381.4a2.3 2.3 0 1 0 4.6 0a2.3 2.3 0 1 0 -4.6 0M540.5 359.6a2.3 2.3 0 1 0 4.6 0a2.3 2.3 0 1 0 -4.6 0M534.7 377.2a2.3 2.3 0 1 0 4.6 0a2.3 2.3 0 1 0 -4.6 0M542.7 357a2.3 2.3 0 1 0 4.6 0a2.3 2.3 0 1 0 -4.6 0M537.2 373.3a2.3 2.3 0 1 0 4.6 0a2.3 2.3 0 1 0 -4.6 0M544.5 353.7a2.3 2.3 0 1 0 4.6 0a2.3 2.3 0 1 0 -4.6 0M539.3 370a2.3 2.3 0 1 0 4.6 0a2.3 2.3 0 1 0 -4.6 0M547 351.5a2.3 2.3 0 1 0 4.6 0a2.3 2.3 0 1 0 -4.6 0M541.5 367a2.3 2.3 0 1 0 4.6 0a2.3 2.3 0 1 0 -4.6 0M548.5 348.7a2.3 2.3 0 1 0 4.6 0a2.3 2.3 0 1 0 -4.6 0M543.1 364.5a2.3 2.3 0 1 0 4.6 0a2.3 2.3 0 1 0 -4.6 0M550.2 345.9a2.3 2.3 0 1 0 4.6 0a2.3 2.3 0 1 0 -4.6 0M546 362.6a2.3 2.3 0 1 0 4.6 0a2.3 2.3 0 1 0 -4.6 0M552.8 343.6a2.3 2.3 0 1 0 4.6 0a2.3 2.3 0 1 0 -4.6 0M547.9 360.4a2.3 2.3 0 1 0 4.6 0a2.3 2.3 0 1 0 -4.6 0M554.1 340.7a2.3 2.3 0 1 0 4.6 0a2.3 2.3 0 1 0 -4.6 0M549.9 359.2a2.3 2.3 0 1 0 4.6 0a2.3 2.3 0 1 0 -4.6 0M556.6 339.2a2.3 2.3 0 1 0 4.6 0a2.3 2.3 0 1 0 -4.6 0M552.5 358.4a2.3 2.3 0 1 0 4.6 0a2.3 2.3 0 1 0 -4.6 0M558.8 337.3a2.3 2.3 0 1 0 4.6 0a2.3 2.3 0 1 0 -4.6 0M554.3 357.2a2.3 2.3 0 1 0 4.6 0a2.3 2.3 0 1 0 -4.6 0M560.8 335.4a2.3 2.3 0 1 0 4.6 0a2.3 2.3 0 1 0 -4.6 0M556.5 355.9a2.3 2.3 0 1 0 4.6 0a2.3 2.3 0 1 0 -4.6 0M563 333.4a2.3 2.3 0 1 0 4.6 0a2.3 2.3 0 1 0 -4.6 0M558.3 354.3a2.3 2.3 0 1 0 4.6 0a2.3 2.3 0 1 0 -4.6 0M564.1 330.7a2.3 2.3 0 1 0 4.6 0a2.3 2.3 0 1 0 -4.6 0M560 353a2.3 2.3 0 1 0 4.6 0a2.3 2.3 0 1 0 -4.6 0M566 329.4a2.3 2.3 0 1 0 4.6 0a2.3 2.3 0 1 0 -4.6 0M560.6 352.2a2.3 2.3 0 1 0 4.6 0a2.3 2.3 0 1 0 -4.6 0M567.7 328a2.3 2.3 0 1 0 4.6 0a2.3 2.3 0 1 0 -4.6 0M562.7 348.9a2.3 2.3 0 1 0 4.6 0a2.3 2.3 0 1 0 -4.6 0M570.1 327.3a2.3 2.3 0 1 0 4.6 0a2.3 2.3 0 1 0 -4.6 0M564.7 346.1a2.3 2.3 0 1 0 4.6 0a2.3 2.3 0 1 0 -4.6 0M571.9 325.1a2.3 2.3 0 1 0 4.6 0a2.3 2.3 0 1 0 -4.6 0M566.7 342.6a2.3 2.3 0 1 0 4.6 0a2.3 2.3 0 1 0 -4.6 0M574.4 323.7a2.3 2.3 0 1 0 4.6 0a2.3 2.3 0 1 0 -4.6 0M568.7 338.6a2.3 2.3 0 1 0 4.6 0a2.3 2.3 0 1 0 -4.6 0M576.5 321a2.3 2.3 0 1 0 4.6 0a2.3 2.3 0 1 0 -4.6 0M572 334.7a2.3 2.3 0 1 0 4.6 0a2.3 2.3 0 1 0 -4.6 0M578.3 319.1a2.3 2.3 0 1 0 4.6 0a2.3 2.3 0 1 0 -4.6 0M573.4 332.9a2.3 2.3 0 1 0 4.6 0a2.3 2.3 0 1 0 -4.6 0M580.9 317.4a2.3 2.3 0 1 0 4.6 0a2.3 2.3 0 1 0 -4.6 0M575.4 331a2.3 2.3 0 1 0 4.6 0a2.3 2.3 0 1 0 -4.6 0M582.4 314.9a2.3 2.3 0 1 0 4.6 0a2.3 2.3 0 1 0 -4.6 0M577.5 329.4a2.3 2.3 0 1 0 4.6 0a2.3 2.3 0 1 0 -4.6 0M584.2 312.9a2.3 2.3 0 1 0 4.6 0a2.3 2.3 0 1 0 -4.6 0M579.4 327.6a2.3 2.3 0 1 0 4.6 0a2.3 2.3 0 1 0 -4.6 0M585.6 311.7a2.3 2.3 0 1 0 4.6 0a2.3 2.3 0 1 0 -4.6 0M581.2 325.9a2.3 2.3 0 1 0 4.6 0a2.3 2.3 0 1 0 -4.6 0M587.9 310.6a2.3 2.3 0 1 0 4.6 0a2.3 2.3 0 1 0 -4.6 0M583.9 324.2a2.3 2.3 0 1 0 4.6 0a2.3 2.3 0 1 0 -4.6 0M589.7 309.3a2.3 2.3 0 1 0 4.6 0a2.3 2.3 0 1 0 -4.6 0M585.8 322a2.3 2.3 0 1 0 4.6 0a2.3 2.3 0 1 0 -4.6 0M592.1 308a2.3 2.3 0 1 0 4.6 0a2.3 2.3 0 1 0 -4.6 0M587.5 319.9a2.3 2.3 0 1 0 4.6 0a2.3 2.3 0 1 0 -4.6 0M594.3 306.1a2.3 2.3 0 1 0 4.6 0a2.3 2.3 0 1 0 -4.6 0M589.4 318.1a2.3 2.3 0 1 0 4.6 0a2.3 2.3 0 1 0 -4.6 0M595.9 304.9a2.3 2.3 0 1 0 4.6 0a2.3 2.3 0 1 0 -4.6 0M592.8 316.2a2.3 2.3 0 1 0 4.6 0a2.3 2.3 0 1 0 -4.6 0M598.1 303.4a2.3 2.3 0 1 0 4.6 0a2.3 2.3 0 1 0 -4.6 0M594.4 314.8a2.3 2.3 0 1 0 4.6 0a2.3 2.3 0 1 0 -4.6 0M599.8 301.9a2.3 2.3 0 1 0 4.6 0a2.3 2.3 0 1 0 -4.6 0M596.6 314.5a2.3 2.3 0 1 0 4.6 0a2.3 2.3 0 1 0 -4.6 0M601.7 300.6a2.3 2.3 0 1 0 4.6 0a2.3 2.3 0 1 0 -4.6 0M598.4 312.6a2.3 2.3 0 1 0 4.6 0a2.3 2.3 0 1 0 -4.6 0M603.7 299.7a2.3 2.3 0 1 0 4.6 0a2.3 2.3 0 1 0 -4.6 0M600.8 312.3a2.3 2.3 0 1 0 4.6 0a2.3 2.3 0 1 0 -4.6 0M605.8 299a2.3 2.3 0 1 0 4.6 0a2.3 2.3 0 1 0 -4.6 0M601.4 311.1a2.3 2.3 0 1 0 4.6 0a2.3 2.3 0 1 0 -4.6 0M607.9 298.1a2.3 2.3 0 1 0 4.6 0a2.3 2.3 0 1 0 -4.6 0M603.7 309.3a2.3 2.3 0 1 0 4.6 0a2.3 2.3 0 1 0 -4.6 0M609.5 296.4a2.3 2.3 0 1 0 4.6 0a2.3 2.3 0 1 0 -4.6 0M605.7 307.8a2.3 2.3 0 1 0 4.6 0a2.3 2.3 0 1 0 -4.6 0M612.1 295.8a2.3 2.3 0 1 0 4.6 0a2.3 2.3 0 1 0 -4.6 0M608.1 306.1a2.3 2.3 0 1 0 4.6 0a2.3 2.3 0 1 0 -4.6 0M613.7 294.6a2.3 2.3 0 1 0 4.6 0a2.3 2.3 0 1 0 -4.6 0M610.3 304.9a2.3 2.3 0 1 0 4.6 0a2.3 2.3 0 1 0 -4.6 0M615.6 293.3a2.3 2.3 0 1 0 4.6 0a2.3 2.3 0 1 0 -4.6 0M612.4 303.7a2.3 2.3 0 1 0 4.6 0a2.3 2.3 0 1 0 -4.6 0M617.5 292.4a2.3 2.3 0 1 0 4.6 0a2.3 2.3 0 1 0 -4.6 0M614.5 302a2.3 2.3 0 1 0 4.6 0a2.3 2.3 0 1 0 -4.6 0M619.7 291.7a2.3 2.3 0 1 0 4.6 0a2.3 2.3 0 1 0 -4.6 0M616.4 301.4a2.3 2.3 0 1 0 4.6 0a2.3 2.3 0 1 0 -4.6 0M621.3 290.1a2.3 2.3 0 1 0 4.6 0a2.3 2.3 0 1 0 -4.6 0M619 300.5a2.3 2.3 0 1 0 4.6 0a2.3 2.3 0 1 0 -4.6 0M623.6 289.5a2.3 2.3 0 1 0 4.6 0a2.3 2.3 0 1 0 -4.6 0M621.1 300a2.3 2.3 0 1 0 4.6 0a2.3 2.3 0 1 0 -4.6 0M625.3 287.9a2.3 2.3 0 1 0 4.6 0a2.3 2.3 0 1 0 -4.6 0M622.4 298.6a2.3 2.3 0 1 0 4.6 0a2.3 2.3 0 1 0 -4.6 0M627.6 288a2.3 2.3 0 1 0 4.6 0a2.3 2.3 0 1 0 -4.6 0M624.8 298.4a2.3 2.3 0 1 0 4.6 0a2.3 2.3 0 1 0 -4.6 0M628.7 287.3a2.3 2.3 0 1 0 4.6 0a2.3 2.3 0 1 0 -4.6 0M626.8 297.1a2.3 2.3 0 1 0 4.6 0a2.3 2.3 0 1 0 -4.6 0M651.3 283.3a2.3 2.3 0 1 0 4.6 0a2.3 2.3 0 1 0 -4.6 0M645.4 286.9a2.3 2.3 0 1 0 4.6 0a2.3 2.3 0 1 0 -4.6 0M639.7 295.2a2.3 2.3 0 1 0 4.6 0a2.3 2.3 0 1 0 -4.6 0M633 296.8a2.3 2.3 0 1 0 4.6 0a2.3 2.3 0 1 0 -4.6 0M638.2 293a2.3 2.3 0 1 0 4.6 0a2.3 2.3 0 1 0 -4.6 0M642.7 291.5a2.3 2.3 0 1 0 4.6 0a2.3 2.3 0 1 0 -4.6 0M635.7 294.5a2.3 2.3 0 1 0 4.6 0a2.3 2.3 0 1 0 -4.6 0M630.7 298a2.3 2.3 0 1 0 4.6 0a2.3 2.3 0 1 0 -4.6 0M641.2 290a2.3 2.3 0 1 0 4.6 0a2.3 2.3 0 1 0 -4.6 0M632.2 294.1a2.3 2.3 0 1 0 4.6 0a2.3 2.3 0 1 0 -4.6 0M633.4 297.3a2.3 2.3 0 1 0 4.6 0a2.3 2.3 0 1 0 -4.6 0M643 289.2a2.3 2.3 0 1 0 4.6 0a2.3 2.3 0 1 0 -4.6 0M630.5 293.1a2.3 2.3 0 1 0 4.6 0a2.3 2.3 0 1 0 -4.6 0M631.4 294.8a2.3 2.3 0 1 0 4.6 0a2.3 2.3 0 1 0 -4.6 0M637.1 291.6a2.3 2.3 0 1 0 4.6 0a2.3 2.3 0 1 0 -4.6 0" stroke="#40E0D0" stroke-width="1.25" fill="none"/>
<path d="M526.3 393.8L527.1 385.5L527.9 379.3L528.7 376.9L529.5 375.3L530.3 373.8L531.1 372.7L531.9 372.2L532.7 370.5L533.5 369.4L534.3 368.6L535.1 366.8L535.9 365.9L536.7 364.2L537.5 363.3L538.3 362.2L539.1 360.4L539.9 359.7L540.7 358.7L541.5 357.4L542.3 356.2L543.1 355.1L543.9 353.8L544.7 352.5L545.5 351.6L546.3 350.6L547.1 349.4L547.9 348.4L548.7 347L549.5 346.1L550.3 345.1L551.1 344.5L551.9 343.4L552.7 342L553.5 341.5L554.3 339.7L555.1 338.6L555.9 338L556.7 337.1L557.5 337L558.3 335.7L559.1 335L559.9 334.5L560.7 333.5L561.5 332.7L562.3 331.8L563.1 331L563.9 330.6L564.7 329.2L565.5 328.6L566.3 328L567.1 327.2L567.9 326.6L568.7 326.3L569.5 326L570.3 325.2L571.1 324.2L571.9 324.2L572.7 322.9L573.5 322.8L574.3 321.5L575.1 321.3L575.9 320.1L576.7 319.4L577.5 318.6L578.3 318L579.1 316.9L580 316L580.8 315.2L581.6 314.5L582.4 313.5L583.2 313.3L584 311.9L584.8 311L585.6 310.7L586.4 310L587.2 309.8L588 308.8L588.8 308.8L589.6 308L590.4 307.9L591.2 306.7L592 306.2L592.8 305.4L593.6 305L594.4 304.1L595.2 303.7L596 303L596.8 302.6L597.6 301.7L598.4 301.3L599.2 300.8L600 300.4L600.8 299.8L601.6 299.2L602.4 298.5L603.2 298.1L604 297.7L604.8 297.2L605.6 296.8L606.4 296.7L607.2 296L608 296L608.8 295.1L609.6 294.6L610.4 294.1L611.2 293.6L612 293.6L612.8 293L613.6 292.3L614.4 292.2L615.2 291.6L616 291L616.8 290.8L617.6 290.4L618.4 289.8L619.2 289.1L620 288.9L620.8 289L621.6 288.1L622.4 287.9L623.2 287L624 287.2L624.8 286.8L625.6 286.1L626.4 285.7L627.2 285.5L628 284.9L628.8 284.5L629.6 284.2L630.4 284.6L631.2 284.4L632 284.8L632 295.9L631.2 296L630.4 296.8L629.6 297.4L628.8 297.6L628 297.8L627.2 297.7L626.4 298.2L625.6 298.4L624.8 298.8L624 298.9L623.2 299.2L622.4 300L621.6 300.2L620.8 300.1L620 301.1L619.2 300.9L618.4 302L617.6 302.2L616.8 303L616 303.5L615.2 303.3L614.4 304.4L613.6 305L612.8 305.7L612 306.8L611.2 307.5L610.4 308L609.6 308.7L608.8 309.7L608 310.4L607.2 311.6L606.4 311.9L605.6 312.6L604.8 313.1L604 314L603.2 314.1L602.4 314.4L601.6 314.7L600.8 315L600 315.8L599.2 316.1L598.4 316.9L597.6 316.8L596.8 317.5L596 318L595.2 318.5L594.4 319.7L593.6 320.1L592.8 321.3L592 321.8L591.2 323L590.4 323.5L589.6 324.5L588.8 325.1L588 325.6L587.2 327.1L586.4 327.2L585.6 328.3L584.8 328.5L584 329.7L583.2 329.6L582.4 329.9L581.6 330L580.8 330.7L580 331.2L579.1 332.7L578.3 333.9L577.5 335L576.7 335.6L575.9 337.1L575.1 337.9L574.3 339.9L573.5 341.2L572.7 342.4L571.9 343.8L571.1 345.4L570.3 346.5L569.5 347.6L568.7 349.4L567.9 350.5L567.1 351.6L566.3 352.6L565.5 353.6L564.7 354.9L563.9 355.1L563.1 355.8L562.3 356.2L561.5 356.9L560.7 357L559.9 357.9L559.1 358.7L558.3 358.9L557.5 359.2L556.7 360.1L555.9 360.6L555.1 360.6L554.3 361.3L553.5 361.3L552.7 362L551.9 362.5L551.1 362.9L550.3 362.8L549.5 363.7L548.7 364.6L547.9 365.7L547.1 366.3L546.3 366.9L545.5 367.6L544.7 369L543.9 369.8L543.1 371.6L542.3 372.7L541.5 374.2L540.7 375.2L539.9 376.9L539.1 378L538.3 379.5L537.5 380.3L536.7 381L535.9 382.2L535.1 382.9L534.3 383.9L533.5 384.6L532.7 385.7L531.9 386.7L531.1 387.9L530.3 389.9L529.5 391.3L528.7 391.6L527.9 392.1L527.1 392.8L526.3 395.7 Z" fill="#FFA500"/>
<path d="M524.8 393.6l2.9 2.9m0 -2.9l-2.9 2.9M529.7 377.4l2.9 2.9m0 -2.9l-2.9 2.9M524.6 388.8l2.9 2.9m0 -2.9l-2.9 2.9M530.4 374.6l2.9 2.9m0 -2.9l-2.9 2.9M526.1 388.3l2.9 2.9m0 -2.9l-2.9 2.9M533 372.6l2.9 2.9m0 -2.9l-2.9 2.9M527.9 385.4l2.9 2.9m0 -2.9l-2.9 2.9M534.4 370l2.9 2.9m0 -2.9l-2.9 2.9M528.7 382.3l2.9 2.9m0 -2.9l-2.9 2.9M535.7 367.1l2.9 2.9m0 -2.9l-2.9 2.9M530.8 380.1l2.9 2.9m0 -2.9l-2.9 2.9M537.6 364.5l2.9 2.9m0 -2.9l-2.9 2.9M532.8 378.4l2.9 2.9m0 -2.9l-2.9 2.9M539 361.6l2.9 2.9m0 -2.9l-2.9 2.9M534.2 376.2l2.9 2.9m0 -2.9l-2.9 2.9M541.1 359.3l2.9 2.9m0 -2.9l-2.9 2.9M536.6 374.9l2.9 2.9m0 -2.9l-2.9 2.9M542.5 356.6l2.9 2.9m0 -2.9l-2.9 2.9M537 371.2l2.9 2.9m0 -2.9l-2.9 2.9M543.8 354l2.9 2.9m0 -2.9l-2.9 2.9M539.8 368.8l2.9 2.9m0 -2.9l-2.9 2.9M545.7 351.9l2.9 2.9m0 -2.9l-2.9 2.9M541.3 365.7l2.9 2.9m0 -2.9l-2.9 2.9M547.2 349.6l2.9 2.9m0 -2.9l-2.9 2.9M542.8 363.1l2.9 2.9m0 -2.9l-2.9 2.9M549.2 347.4l2.9 2.9m0 -2.9l-2.9 2.9M545.1 362l2.9 2.9m0 -2.9l-2.9 2.9M550.9 345.5l2.9 2.9m0 -2.9l-2.9 2.9M546.7 359.8l2.9 2.9m0 -2.9l-2.9 2.9M553 343.4l2.9 2.9m0 -2.9l-2.9 2.9M548.9 358.3l2.9 2.9m0 -2.9l-2.9 2.9M554 340.8l2.9 2.9m0 -2.9l-2.9 2.9M550.9 357.7l2.9 2.9m0 -2.9l-2.9 2.9M555.6 338.6l2.9 2.9m0 -2.9l-2.9 2.9M552.4 357.3l2.9 2.9m0 -2.9l-2.9 2.9M557.9 337.8l2.9 2.9m0 -2.9l-2.9 2.9M554 355.9l2.9 2.9m0 -2.9l-2.9 2.9M559.2 335.6l2.9 2.9m0 -2.9l-2.9 2.9M555.7 355.3l2.9 2.9m0 -2.9l-2.9 2.9M561.1 334.1l2.9 2.9m0 -2.9l-2.9 2.9M557.6 354.5l2.9 2.9m0 -2.9l-2.9 2.9M562.3 332.1l2.9 2.9m0 -2.9l-2.9 2.9M558.9 352.8l2.9 2.9m0 -2.9l-2.9 2.9M564.6 330.5l2.9 2.9m0 -2.9l-2.9 2.9M561.1 352.3l2.9 2.9m0 -2.9l-2.9 2.9M565.4 328.8l2.9 2.9m0 -2.9l-2.9 2.9M561.3 350.9l2.9 2.9m0 -2.9l-2.9 2.9M567.3 328.2l2.9 2.9m0 -2.9l-2.9 2.9M563.4 349.2l2.9 2.9m0 -2.9l-2.9 2.9M568.8 326.4l2.9 2.9m0 -2.9l-2.9 2.9M565.1 346.5l2.9 2.9m0 -2.9l-2.9 2.9M571.2 325.5l2.9 2.9m0 -2.9l-2.9 2.9M566 343.8l2.9 2.9m0 -2.9l-2.9 2.9M573.2 324.4l2.9 2.9m0 -2.9l-2.9 2.9M568.1 341l2.9 2.9m0 -2.9l-2.9 2.9M574.1 322.3l2.9 2.9m0 -2.9l-2.9 2.9M569.9 338.1l2.9 2.9m0 -2.9l-2.9 2.9M576.3 321.1l2.9 2.9m0 -2.9l-2.9 2.9M571.4 334.5l2.9 2.9m0 -2.9l-2.9 2.9M578.1 319.3l2.9 2.9m0 -2.9l-2.9 2.9M573.1 332l2.9 2.9m0 -2.9l-2.9 2.9M579.7 317.3l2.9 2.9m0 -2.9l-2.9 2.9M574.9 329.7l2.9 2.9m0 -2.9l-2.9 2.9M581.6 315.7l2.9 2.9m0 -2.9l-2.9 2.9M577.9 327.6l2.9 2.9m0 -2.9l-2.9 2.9M583 314.1l2.9 2.9m0 -2.9l-2.9 2.9M579.7 326.3l2.9 2.9m0 -2.9l-2.9 2.9M584.8 312.4l2.9 2.9m0 -2.9l-2.9 2.9M581.4 325.6l2.9 2.9m0 -2.9l-2.9 2.9M585.9 311.3l2.9 2.9m0 -2.9l-2.9 2.9M582.1 325l2.9 2.9m0 -2.9l-2.9 2.9M587.6 310.1l2.9 2.9m0 -2.9l-2.9 2.9M583.9 323.5l2.9 2.9m0 -2.9l-2.9 2.9M589.5 309.3l2.9 2.9m0 -2.9l-2.9 2.9M585.4 321.2l2.9 2.9m0 -2.9l-2.9 2.9M591.3 307.3l2.9 2.9m0 -2.9l-2.9 2.9M587.9 320.2l2.9 2.9m0 -2.9l-2.9 2.9M592.9 306.2l2.9 2.9m0 -2.9l-2.9 2.9M589 318.1l2.9 2.9m0 -2.9l-2.9 2.9M594.8 304.9l2.9 2.9m0 -2.9l-2.9 2.9M590.4 316.1l2.9 2.9m0 -2.9l-2.9 2.9M596.2 303.1l2.9 2.9m0 -2.9l-2.9 2.9M592.7 314.2l2.9 2.9m0 -2.9l-2.9 2.9M598.3 302.5l2.9 2.9m0 -2.9l-2.9 2.9M594.3 313.2l2.9 2.9m0 -2.9l-2.9 2.9M599.8 301.4l2.9 2.9m0 -2.9l-2.9 2.9M596.4 312.3l2.9 2.9m0 -2.9l-2.9 2.9M601.3 300.1l2.9 2.9m0 -2.9l-2.9 2.9M598.6 311.3l2.9 2.9m0 -2.9l-2.9 2.9M603.1 299.7l2.9 2.9m0 -2.9l-2.9 2.9M600.1 310.5l2.9 2.9m0 -2.9l-2.9 2.9M604.4 298.2l2.9 2.9m0 -2.9l-2.9 2.9M601.6 310l2.9 2.9m0 -2.9l-2.9 2.9M606.3 297.1l2.9 2.9m0 -2.9l-2.9 2.9M602.4 309l2.9 2.9m0 -2.9l-2.9 2.9M608 296.6l2.9 2.9m0 -2.9l-2.9 2.9M604.3 307.5l2.9 2.9m0 -2.9l-2.9 2.9M609.3 295l2.9 2.9m0 -2.9l-2.9 2.9M605.5 305.5l2.9 2.9m0 -2.9l-2.9 2.9M611.1 294.4l2.9 2.9m0 -2.9l-2.9 2.9M608.1 304.4l2.9 2.9m0 -2.9l-2.9 2.9M613 293l2.9 2.9m0 -2.9l-2.9 2.9M609.4 302.3l2.9 2.9m0 -2.9l-2.9 2.9M614.9 292.2l2.9 2.9m0 -2.9l-2.9 2.9M611.3 301l2.9 2.9m0 -2.9l-2.9 2.9M616.6 292l2.9 2.9m0 -2.9l-2.9 2.9M613.1 299.2l2.9 2.9m0 -2.9l-2.9 2.9M617.6 290.2l2.9 2.9m0 -2.9l-2.9 2.9M615.5 298.7l2.9 2.9m0 -2.9l-2.9 2.9M619.9 289.5l2.9 2.9m0 -2.9l-2.9 2.9M616.6 297.1l2.9 2.9m0 -2.9l-2.9 2.9M621.4 289.1l2.9 2.9m0 -2.9l-2.9 2.9M618.7 296.4l2.9 2.9m0 -2.9l-2.9 2.9M623.4 288.4l2.9 2.9m0 -2.9l-2.9 2.9M620.7 295.7l2.9 2.9m0 -2.9l-2.9 2.9M624.5 287l2.9 2.9m0 -2.9l-2.9 2.9M622.7 295.2l2.9 2.9m0 -2.9l-2.9 2.9M626.1 286.5l2.9 2.9m0 -2.9l-2.9 2.9M624.6 294.8l2.9 2.9m0 -2.9l-2.9 2.9M627.5 285.2l2.9 2.9m0 -2.9l-2.9 2.9M626 294.2l2.9 2.9m0 -2.9l-2.9 2.9M628.5 285.5l2.9 2.9m0 -2.9l-2.9 2.9M626.8 293.4l2.9 2.9m0 -2.9l-2.9 2.9M630.3 284.7l2.9 2.9m0 -2.9l-2.9 2.9M628.7 291.8l2.9 2.9m0 -2.9l-2.9 2.9" stroke="#FFA500" stroke-width="1.55" fill="none"/>
<path d="M656.1 271.6l3.1 3.1m0 -3.1l-3.1 3.1M648.2 272.9l3.1 3.1m0 -3.1l-3.1 3.1M657.1 279.9l3.1 3.1m0 -3.1l-3.1 3.1M641 276.1l3.1 3.1m0 -3.1l-3.1 3.1M645.7 278.1l3.1 3.1m0 -3.1l-3.1 3.1M637.4 278.6l3.1 3.1m0 -3.1l-3.1 3.1M634.8 281.2l3.1 3.1m0 -3.1l-3.1 3.1M639.5 280.8l3.1 3.1m0 -3.1l-3.1 3.1M645.7 284.8l3.1 3.1m0 -3.1l-3.1 3.1M642.6 287.4l3.1 3.1m0 -3.1l-3.1 3.1M635.8 288.6l3.1 3.1m0 -3.1l-3.1 3.1M634 280.6l3.1 3.1m0 -3.1l-3.1 3.1M632 282.4l3.1 3.1m0 -3.1l-3.1 3.1M628.6 284.3l3.1 3.1m0 -3.1l-3.1 3.1M630.5 286.4l3.1 3.1m0 -3.1l-3.1 3.1M629 289.7l3.1 3.1m0 -3.1l-3.1 3.1M639.9 284.4l3.1 3.1m0 -3.1l-3.1 3.1M641.6 281l3.1 3.1m0 -3.1l-3.1 3.1M638.9 285l3.1 3.1m0 -3.1l-3.1 3.1M637.1 284.3l3.1 3.1m0 -3.1l-3.1 3.1M641 287.8l3.1 3.1m0 -3.1l-3.1 3.1M635.6 287.1l3.1 3.1m0 -3.1l-3.1 3.1M629.4 290l3.1 3.1m0 -3.1l-3.1 3.1M638.2 289.5l3.1 3.1m0 -3.1l-3.1 3.1M640.8 281l3.1 3.1m0 -3.1l-3.1 3.1M634.2 287.7l3.1 3.1m0 -3.1l-3.1 3.1M628.8 287.7l3.1 3.1m0 -3.1l-3.1 3.1M631 283.2l3.1 3.1m0 -3.1l-3.1 3.1M629.3 290.7l3.1 3.1m0 -3.1l-3.1 3.1M621.9 287.5l3.1 3.1m0 -3.1l-3.1 3.1M624.8 293l3.1 3.1m0 -3.1l-3.1 3.1M621.3 289.7l3.1 3.1m0 -3.1l-3.1 3.1M626.5 292.6l3.1 3.1m0 -3.1l-3.1 3.1M629.5 291.6l3.1 3.1m0 -3.1l-3.1 3.1M566.9 348.7l3.1 3.1m0 -3.1l-3.1 3.1M551.8 361.3l3.1 3.1m0 -3.1l-3.1 3.1M549.7 360.7l3.1 3.1m0 -3.1l-3.1 3.1M557.3 356.9l3.1 3.1m0 -3.1l-3.1 3.1M564.1 351.7l3.1 3.1m0 -3.1l-3.1 3.1M546.5 363.5l3.1 3.1m0 -3.1l-3.1 3.1M551.7 360.6l3.1 3.1m0 -3.1l-3.1 3.1M547.8 364.4l3.1 3.1m0 -3.1l-3.1 3.1M578.4 329.6l3.1 3.1m0 -3.1l-3.1 3.1M559.6 356l3.1 3.1m0 -3.1l-3.1 3.1" stroke="#FFA500" stroke-width="1.75" fill="none"/>
<path d="M528.6 376.5L658.5 250.1" stroke="#000" stroke-width="1.85" stroke-linecap="round" fill="none"/>
</g>
<rect x="512.5" y="246.5" width="168.8" height="152.9" fill="none" stroke="#6e6e6e" stroke-width="1.1"/>
<text transform="translate(513.3 416.9) scale(0.9 1)" text-anchor="middle" class="tk">0</text>
<text transform="translate(555.7 416.9) scale(0.9 1)" text-anchor="middle" class="tk">0.01</text>
<text transform="translate(598.1 416.9) scale(0.9 1)" text-anchor="middle" class="tk">0.02</text>
<text transform="translate(640.5 416.9) scale(0.9 1)" text-anchor="middle" class="tk">0.03</text>
<text transform="translate(509.5 391.2) rotate(-90) scale(0.9 1)" text-anchor="middle" class="tk">0</text>
<text transform="translate(507.1 349.9) rotate(-90) scale(0.9 1)" text-anchor="middle" class="tk">0.01</text>
<text transform="translate(507.1 308.7) rotate(-90) scale(0.9 1)" text-anchor="middle" class="tk">0.02</text>
<text transform="translate(507.1 267.4) rotate(-90) scale(0.9 1)" text-anchor="middle" class="tk">0.03</text>
<text x="556.1" y="432" class="ax" style="font-size:17.5px" textLength="82.9" lengthAdjust="spacingAndGlyphs">True values</text>
<text transform="translate(490.3 381.8) rotate(-90)" class="ax" textLength="117.6" lengthAdjust="spacingAndGlyphs">Predicted values</text>
<text x="475.2" y="241.1" class="lab">(f)</text>
<g class="ti">
<g transform="translate(519.1 274.8) scale(1.055 1.136)">
<text x="0" y="0" style="font-size:20px">Tr</text>
<text transform="translate(20.7 1.2) scale(0.8 1)" style="font-size:24px">[</text>
<text x="26.3" y="0.2" class="it" style="font-size:20.5px">&#961;</text>
<text transform="translate(34.8 -8.5) scale(1.28 1)" style="font-size:12.5px">5</text>
<text transform="translate(35.0 4.8) scale(1.17 1)" style="font-size:14px">in</text>
<text transform="translate(47.9 1.2) scale(0.8 1)" style="font-size:24px">]</text>
</g>
</g>
</svg>
</body></html>
